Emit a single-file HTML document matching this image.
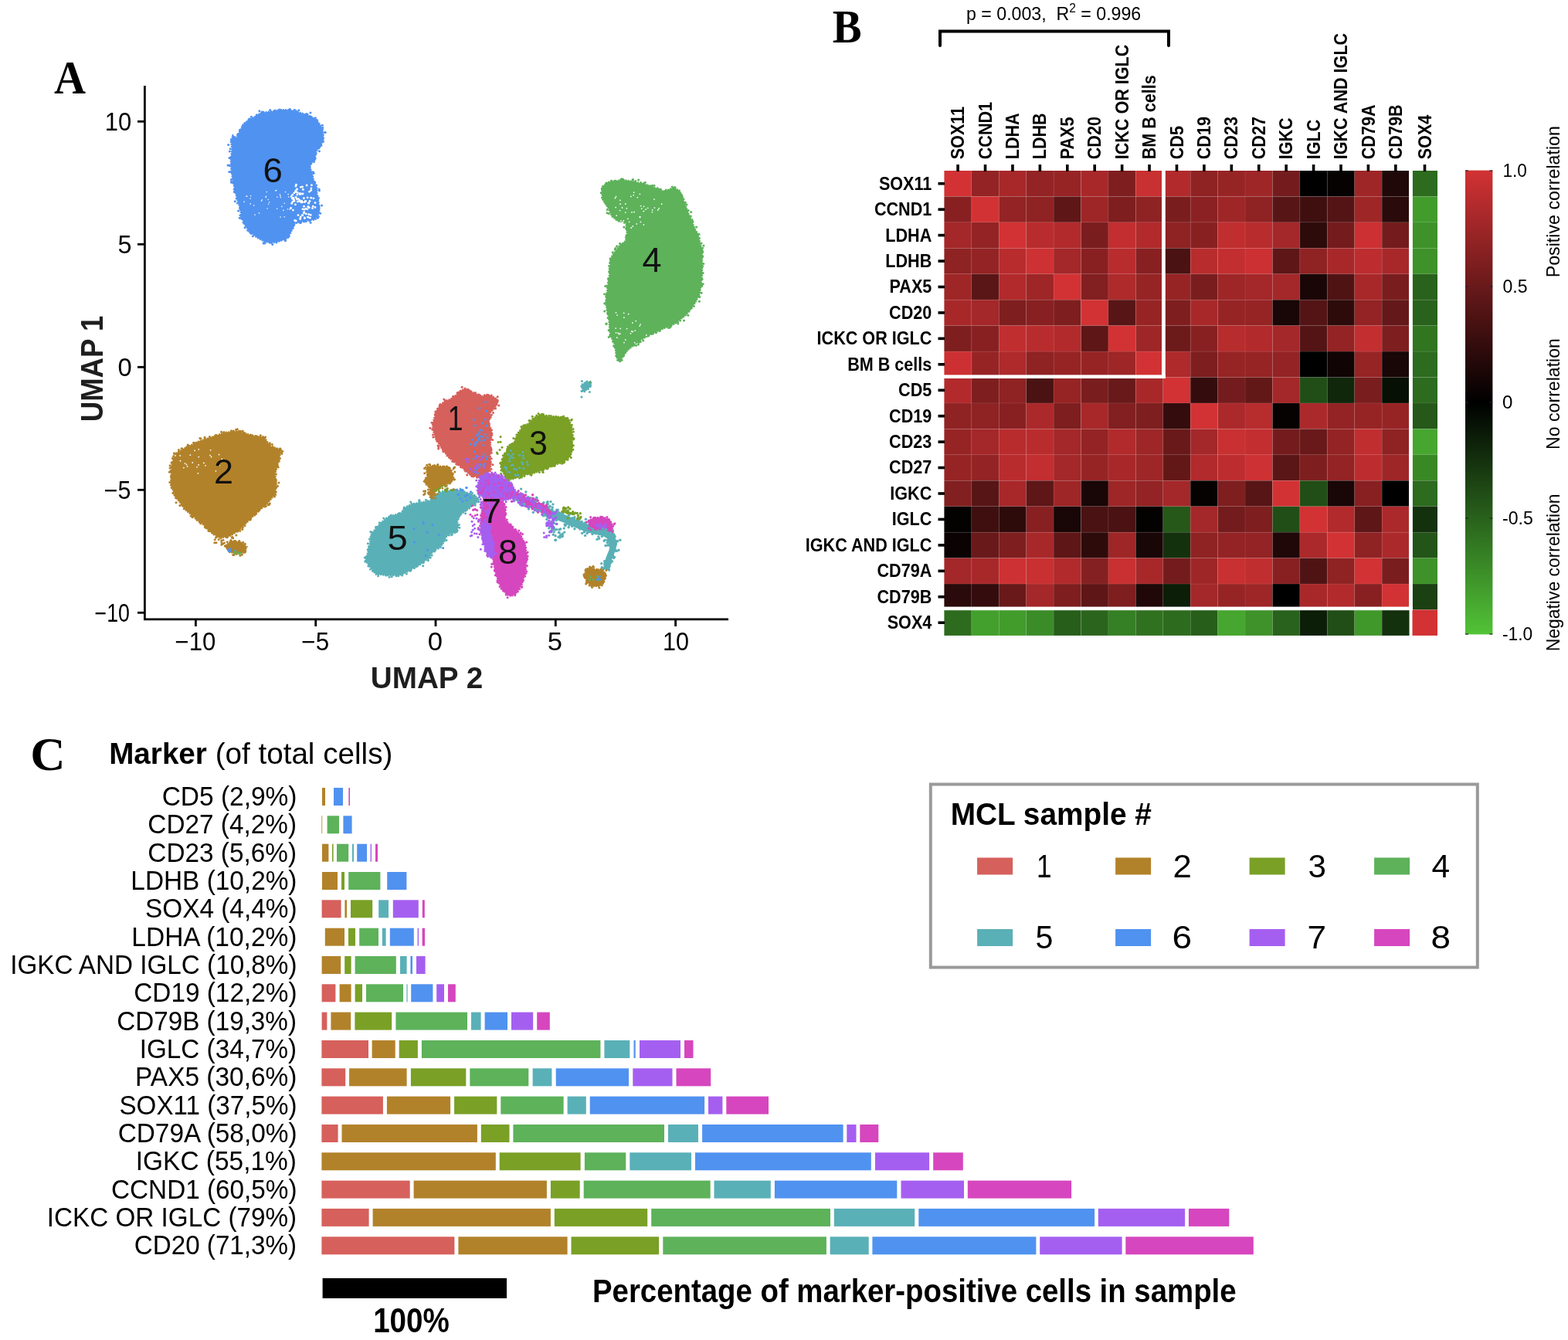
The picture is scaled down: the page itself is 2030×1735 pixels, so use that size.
<!DOCTYPE html><html><head><meta charset="utf-8"><title>Figure</title><style>
html,body{margin:0;padding:0;background:#fff;}body{width:2030px;height:1735px;overflow:hidden;}
svg{display:block;} text{font-family:'Liberation Sans', Arial, Helvetica, sans-serif;}
.lab{font-family:'Liberation Serif', 'Times New Roman', serif;font-weight:bold;}
</style></head><body>
<svg width="2030" height="1735" viewBox="0 0 2030 1735">
<rect width="2030" height="1735" fill="#fff"/>
<text transform="translate(70.00,121.00) scale(0.9308,1)" font-size="61" text-anchor="start" class="lab">A</text>
<text transform="translate(1077.80,54.80) scale(0.9320,1)" font-size="61" text-anchor="start" class="lab">B</text>
<text transform="translate(39.20,996.80) scale(1.0285,1)" font-size="61" text-anchor="start" class="lab">C</text>
<g id="umap">
<polygon points="301.4,175.3 305.6,179.4 310.8,169.0 313.9,162.8 321.1,155.6 329.4,151.4 337.7,146.2 348.1,144.7 357.5,143.6 368.9,142.1 378.2,143.1 389.6,146.2 399.0,149.3 407.3,153.5 412.5,158.7 417.6,167.0 418.7,175.3 417.6,183.6 414.5,189.8 409.3,196.0 408.3,202.3 407.3,208.5 401.0,212.6 402.1,218.9 404.2,224.1 405.2,230.3 407.3,237.6 410.4,243.8 410.4,252.1 412.5,261.4 413.5,274.9 408.3,284.3 400.0,285.3 389.6,287.4 381.3,289.4 379.2,294.6 376.1,301.9 372.0,308.1 362.6,312.3 352.3,314.3 344.0,313.3 333.6,308.1 324.2,300.9 317.0,291.5 312.8,281.1 310.8,269.7 307.6,259.3 304.5,247.9 301.4,233.4 299.3,218.9 298.8,206.4 300.4,194.0 299.3,183.6" fill="#5092F0" stroke="#5092F0" stroke-width="2.6" stroke-linejoin="round" stroke-dasharray="0 3.2" stroke-linecap="round"/>
<circle cx="301.8" cy="177.6" r="1.5" fill="#5092F0"/>
<circle cx="304.3" cy="177.8" r="1.5" fill="#5092F0"/>
<circle cx="308.1" cy="173.7" r="1.5" fill="#5092F0"/>
<circle cx="307.9" cy="173.9" r="1.5" fill="#5092F0"/>
<circle cx="310.4" cy="168.5" r="1.5" fill="#5092F0"/>
<circle cx="314.4" cy="162.0" r="1.5" fill="#5092F0"/>
<circle cx="316.7" cy="159.5" r="1.5" fill="#5092F0"/>
<circle cx="322.6" cy="154.0" r="1.5" fill="#5092F0"/>
<circle cx="325.4" cy="151.2" r="1.5" fill="#5092F0"/>
<circle cx="332.3" cy="148.8" r="1.5" fill="#5092F0"/>
<circle cx="335.9" cy="143.8" r="1.5" fill="#5092F0"/>
<circle cx="340.6" cy="144.9" r="1.5" fill="#5092F0"/>
<circle cx="339.1" cy="145.0" r="1.5" fill="#5092F0"/>
<circle cx="355.7" cy="142.9" r="1.5" fill="#5092F0"/>
<circle cx="349.6" cy="142.5" r="1.5" fill="#5092F0"/>
<circle cx="361.6" cy="141.9" r="1.5" fill="#5092F0"/>
<circle cx="363.7" cy="142.3" r="1.5" fill="#5092F0"/>
<circle cx="359.8" cy="143.1" r="1.5" fill="#5092F0"/>
<circle cx="375.4" cy="141.5" r="1.5" fill="#5092F0"/>
<circle cx="374.4" cy="142.1" r="1.5" fill="#5092F0"/>
<circle cx="383.6" cy="143.7" r="1.5" fill="#5092F0"/>
<circle cx="386.9" cy="142.7" r="1.5" fill="#5092F0"/>
<circle cx="381.4" cy="142.2" r="1.5" fill="#5092F0"/>
<circle cx="398.1" cy="148.1" r="1.5" fill="#5092F0"/>
<circle cx="396.8" cy="147.5" r="1.5" fill="#5092F0"/>
<circle cx="401.9" cy="145.9" r="1.5" fill="#5092F0"/>
<circle cx="402.5" cy="151.0" r="1.5" fill="#5092F0"/>
<circle cx="410.5" cy="155.4" r="1.5" fill="#5092F0"/>
<circle cx="408.4" cy="152.8" r="1.5" fill="#5092F0"/>
<circle cx="417.4" cy="162.2" r="1.5" fill="#5092F0"/>
<circle cx="417.8" cy="165.5" r="1.5" fill="#5092F0"/>
<circle cx="420.5" cy="171.6" r="1.5" fill="#5092F0"/>
<circle cx="421.2" cy="171.4" r="1.5" fill="#5092F0"/>
<circle cx="418.5" cy="183.3" r="1.5" fill="#5092F0"/>
<circle cx="418.5" cy="179.3" r="1.5" fill="#5092F0"/>
<circle cx="415.9" cy="188.2" r="1.5" fill="#5092F0"/>
<circle cx="413.4" cy="195.7" r="1.5" fill="#5092F0"/>
<circle cx="413.1" cy="191.6" r="1.5" fill="#5092F0"/>
<circle cx="409.1" cy="198.5" r="1.5" fill="#5092F0"/>
<circle cx="408.1" cy="205.2" r="1.5" fill="#5092F0"/>
<circle cx="406.5" cy="209.5" r="1.5" fill="#5092F0"/>
<circle cx="402.7" cy="212.0" r="1.5" fill="#5092F0"/>
<circle cx="401.2" cy="213.4" r="1.5" fill="#5092F0"/>
<circle cx="405.4" cy="222.8" r="1.5" fill="#5092F0"/>
<circle cx="406.2" cy="224.3" r="1.5" fill="#5092F0"/>
<circle cx="407.7" cy="236.6" r="1.5" fill="#5092F0"/>
<circle cx="407.7" cy="236.0" r="1.5" fill="#5092F0"/>
<circle cx="409.5" cy="239.7" r="1.5" fill="#5092F0"/>
<circle cx="413.4" cy="246.8" r="1.5" fill="#5092F0"/>
<circle cx="413.1" cy="245.1" r="1.5" fill="#5092F0"/>
<circle cx="410.9" cy="253.7" r="1.5" fill="#5092F0"/>
<circle cx="412.5" cy="256.4" r="1.5" fill="#5092F0"/>
<circle cx="413.1" cy="269.4" r="1.5" fill="#5092F0"/>
<circle cx="413.1" cy="267.0" r="1.5" fill="#5092F0"/>
<circle cx="416.5" cy="266.1" r="1.5" fill="#5092F0"/>
<circle cx="411.3" cy="282.2" r="1.5" fill="#5092F0"/>
<circle cx="412.4" cy="280.6" r="1.5" fill="#5092F0"/>
<circle cx="414.6" cy="276.2" r="1.5" fill="#5092F0"/>
<circle cx="400.9" cy="285.8" r="1.5" fill="#5092F0"/>
<circle cx="402.1" cy="288.3" r="1.5" fill="#5092F0"/>
<circle cx="396.0" cy="286.7" r="1.5" fill="#5092F0"/>
<circle cx="393.5" cy="287.1" r="1.5" fill="#5092F0"/>
<circle cx="389.3" cy="288.5" r="1.5" fill="#5092F0"/>
<circle cx="388.4" cy="288.2" r="1.5" fill="#5092F0"/>
<circle cx="380.6" cy="291.2" r="1.5" fill="#5092F0"/>
<circle cx="378.7" cy="295.7" r="1.5" fill="#5092F0"/>
<circle cx="379.1" cy="295.4" r="1.5" fill="#5092F0"/>
<circle cx="372.7" cy="307.5" r="1.5" fill="#5092F0"/>
<circle cx="374.2" cy="306.1" r="1.5" fill="#5092F0"/>
<circle cx="369.1" cy="310.5" r="1.5" fill="#5092F0"/>
<circle cx="369.5" cy="311.7" r="1.5" fill="#5092F0"/>
<circle cx="352.8" cy="316.4" r="1.5" fill="#5092F0"/>
<circle cx="357.9" cy="313.9" r="1.5" fill="#5092F0"/>
<circle cx="351.4" cy="314.3" r="1.5" fill="#5092F0"/>
<circle cx="349.4" cy="314.2" r="1.5" fill="#5092F0"/>
<circle cx="341.0" cy="315.1" r="1.5" fill="#5092F0"/>
<circle cx="342.9" cy="314.9" r="1.5" fill="#5092F0"/>
<circle cx="342.2" cy="313.1" r="1.5" fill="#5092F0"/>
<circle cx="327.3" cy="305.7" r="1.5" fill="#5092F0"/>
<circle cx="324.2" cy="301.3" r="1.5" fill="#5092F0"/>
<circle cx="325.2" cy="302.2" r="1.5" fill="#5092F0"/>
<circle cx="320.6" cy="298.2" r="1.5" fill="#5092F0"/>
<circle cx="322.8" cy="299.5" r="1.5" fill="#5092F0"/>
<circle cx="317.0" cy="294.8" r="1.5" fill="#5092F0"/>
<circle cx="315.2" cy="288.3" r="1.5" fill="#5092F0"/>
<circle cx="310.2" cy="282.3" r="1.5" fill="#5092F0"/>
<circle cx="312.5" cy="283.0" r="1.5" fill="#5092F0"/>
<circle cx="308.6" cy="273.1" r="1.5" fill="#5092F0"/>
<circle cx="310.9" cy="278.8" r="1.5" fill="#5092F0"/>
<circle cx="312.6" cy="280.8" r="1.5" fill="#5092F0"/>
<circle cx="310.5" cy="269.5" r="1.5" fill="#5092F0"/>
<circle cx="307.4" cy="262.9" r="1.5" fill="#5092F0"/>
<circle cx="304.3" cy="260.8" r="1.5" fill="#5092F0"/>
<circle cx="303.4" cy="248.4" r="1.5" fill="#5092F0"/>
<circle cx="303.9" cy="248.6" r="1.5" fill="#5092F0"/>
<circle cx="306.1" cy="256.9" r="1.5" fill="#5092F0"/>
<circle cx="303.3" cy="245.2" r="1.5" fill="#5092F0"/>
<circle cx="299.6" cy="235.3" r="1.5" fill="#5092F0"/>
<circle cx="299.6" cy="236.2" r="1.5" fill="#5092F0"/>
<circle cx="301.7" cy="236.4" r="1.5" fill="#5092F0"/>
<circle cx="299.4" cy="232.4" r="1.5" fill="#5092F0"/>
<circle cx="296.8" cy="222.5" r="1.5" fill="#5092F0"/>
<circle cx="298.8" cy="222.7" r="1.5" fill="#5092F0"/>
<circle cx="299.6" cy="222.0" r="1.5" fill="#5092F0"/>
<circle cx="297.8" cy="214.8" r="1.5" fill="#5092F0"/>
<circle cx="295.0" cy="214.1" r="1.5" fill="#5092F0"/>
<circle cx="296.7" cy="214.0" r="1.5" fill="#5092F0"/>
<circle cx="298.2" cy="204.2" r="1.5" fill="#5092F0"/>
<circle cx="297.0" cy="204.6" r="1.5" fill="#5092F0"/>
<circle cx="297.3" cy="196.0" r="1.5" fill="#5092F0"/>
<circle cx="298.2" cy="192.7" r="1.5" fill="#5092F0"/>
<circle cx="295.7" cy="187.6" r="1.5" fill="#5092F0"/>
<circle cx="299.3" cy="180.5" r="1.5" fill="#5092F0"/>
<circle cx="299.1" cy="183.4" r="1.5" fill="#5092F0"/>
<circle cx="408.0" cy="268.4" r="1.4" fill="#fff"/>
<circle cx="389.2" cy="280.8" r="1.4" fill="#fff"/>
<circle cx="402.9" cy="243.8" r="1.4" fill="#fff"/>
<circle cx="382.8" cy="248.4" r="1.4" fill="#fff"/>
<circle cx="382.4" cy="264.8" r="1.4" fill="#fff"/>
<circle cx="383.1" cy="255.5" r="1.4" fill="#fff"/>
<circle cx="386.4" cy="257.7" r="1.4" fill="#fff"/>
<circle cx="394.4" cy="282.6" r="1.4" fill="#fff"/>
<circle cx="388.7" cy="283.4" r="1.4" fill="#fff"/>
<circle cx="391.6" cy="261.8" r="1.4" fill="#fff"/>
<circle cx="389.4" cy="242.3" r="1.4" fill="#fff"/>
<circle cx="380.0" cy="258.5" r="1.4" fill="#fff"/>
<circle cx="399.4" cy="263.2" r="1.4" fill="#fff"/>
<circle cx="385.4" cy="261.0" r="1.4" fill="#fff"/>
<circle cx="393.4" cy="275.9" r="1.4" fill="#fff"/>
<circle cx="377.7" cy="263.4" r="1.4" fill="#fff"/>
<circle cx="382.7" cy="247.5" r="1.4" fill="#fff"/>
<circle cx="401.0" cy="260.4" r="1.4" fill="#fff"/>
<circle cx="393.7" cy="274.6" r="1.4" fill="#fff"/>
<circle cx="405.9" cy="256.8" r="1.4" fill="#fff"/>
<circle cx="395.4" cy="260.3" r="1.4" fill="#fff"/>
<circle cx="391.9" cy="270.8" r="1.4" fill="#fff"/>
<circle cx="389.8" cy="261.9" r="1.4" fill="#fff"/>
<circle cx="398.5" cy="281.1" r="1.4" fill="#fff"/>
<circle cx="403.4" cy="239.7" r="1.4" fill="#fff"/>
<circle cx="378.3" cy="256.8" r="1.4" fill="#fff"/>
<circle cx="376.6" cy="269.5" r="1.4" fill="#fff"/>
<circle cx="401.4" cy="282.2" r="1.4" fill="#fff"/>
<circle cx="379.4" cy="272.1" r="1.4" fill="#fff"/>
<circle cx="397.1" cy="240.0" r="1.4" fill="#fff"/>
<circle cx="381.7" cy="285.3" r="1.4" fill="#fff"/>
<circle cx="387.9" cy="259.3" r="1.4" fill="#fff"/>
<circle cx="379.7" cy="256.2" r="1.4" fill="#fff"/>
<circle cx="392.0" cy="251.0" r="1.4" fill="#fff"/>
<circle cx="380.9" cy="249.8" r="1.4" fill="#fff"/>
<circle cx="393.4" cy="256.7" r="1.4" fill="#fff"/>
<circle cx="395.8" cy="260.7" r="1.4" fill="#fff"/>
<circle cx="383.5" cy="239.3" r="1.4" fill="#fff"/>
<circle cx="388.8" cy="283.0" r="1.4" fill="#fff"/>
<circle cx="402.7" cy="246.5" r="1.4" fill="#fff"/>
<circle cx="394.0" cy="271.2" r="1.4" fill="#fff"/>
<circle cx="398.1" cy="255.8" r="1.4" fill="#fff"/>
<circle cx="396.2" cy="276.9" r="1.4" fill="#fff"/>
<circle cx="389.9" cy="251.0" r="1.4" fill="#fff"/>
<circle cx="383.4" cy="239.2" r="1.4" fill="#fff"/>
<circle cx="392.4" cy="245.4" r="1.4" fill="#fff"/>
<circle cx="384.9" cy="249.1" r="1.4" fill="#fff"/>
<circle cx="400.6" cy="248.2" r="1.4" fill="#fff"/>
<circle cx="391.5" cy="242.0" r="1.4" fill="#fff"/>
<circle cx="399.7" cy="262.9" r="1.4" fill="#fff"/>
<circle cx="380.6" cy="258.6" r="1.4" fill="#fff"/>
<circle cx="402.7" cy="256.2" r="1.4" fill="#fff"/>
<circle cx="391.3" cy="278.7" r="1.4" fill="#fff"/>
<circle cx="387.8" cy="260.4" r="1.4" fill="#fff"/>
<circle cx="386.0" cy="278.6" r="1.4" fill="#fff"/>
<circle cx="398.7" cy="267.6" r="1.4" fill="#fff"/>
<circle cx="388.2" cy="251.5" r="1.4" fill="#fff"/>
<circle cx="382.9" cy="241.1" r="1.4" fill="#fff"/>
<circle cx="404.5" cy="269.6" r="1.4" fill="#fff"/>
<circle cx="383.9" cy="245.6" r="1.4" fill="#fff"/>
<circle cx="384.3" cy="257.7" r="1.4" fill="#fff"/>
<circle cx="379.5" cy="257.0" r="1.4" fill="#fff"/>
<circle cx="383.2" cy="285.9" r="1.4" fill="#fff"/>
<circle cx="408.0" cy="262.6" r="1.4" fill="#fff"/>
<circle cx="382.6" cy="286.1" r="1.4" fill="#fff"/>
<circle cx="384.8" cy="252.0" r="1.4" fill="#fff"/>
<circle cx="390.6" cy="260.2" r="1.4" fill="#fff"/>
<circle cx="381.0" cy="260.3" r="1.4" fill="#fff"/>
<circle cx="377.1" cy="254.4" r="1.4" fill="#fff"/>
<circle cx="384.6" cy="245.0" r="1.4" fill="#fff"/>
<circle cx="394.5" cy="261.6" r="1.4" fill="#fff"/>
<circle cx="400.3" cy="268.8" r="1.4" fill="#fff"/>
<circle cx="399.1" cy="281.2" r="1.4" fill="#fff"/>
<circle cx="387.6" cy="250.3" r="1.4" fill="#fff"/>
<circle cx="399.3" cy="268.0" r="1.4" fill="#fff"/>
<circle cx="405.2" cy="267.1" r="1.4" fill="#fff"/>
<circle cx="399.7" cy="277.5" r="1.4" fill="#fff"/>
<circle cx="378.9" cy="261.3" r="1.4" fill="#fff"/>
<circle cx="391.7" cy="278.8" r="1.4" fill="#fff"/>
<circle cx="402.2" cy="278.3" r="1.4" fill="#fff"/>
<circle cx="394.4" cy="282.0" r="1.4" fill="#fff"/>
<circle cx="397.9" cy="270.8" r="1.4" fill="#fff"/>
<circle cx="378.7" cy="252.2" r="1.4" fill="#fff"/>
<circle cx="393.5" cy="267.2" r="1.4" fill="#fff"/>
<circle cx="395.9" cy="270.1" r="1.4" fill="#fff"/>
<circle cx="366.9" cy="272.4" r="0.8" fill="#fff"/>
<circle cx="347.7" cy="264.3" r="0.8" fill="#fff"/>
<circle cx="357.9" cy="246.5" r="0.8" fill="#fff"/>
<circle cx="362.9" cy="253.6" r="0.8" fill="#fff"/>
<circle cx="319.8" cy="254.1" r="0.8" fill="#fff"/>
<circle cx="362.4" cy="251.8" r="0.8" fill="#fff"/>
<circle cx="363.1" cy="281.1" r="0.8" fill="#fff"/>
<circle cx="347.1" cy="258.5" r="0.8" fill="#fff"/>
<circle cx="346.1" cy="270.0" r="0.8" fill="#fff"/>
<circle cx="364.9" cy="267.4" r="0.8" fill="#fff"/>
<circle cx="356.8" cy="246.9" r="0.8" fill="#fff"/>
<circle cx="324.6" cy="253.6" r="0.8" fill="#fff"/>
<circle cx="363.3" cy="255.6" r="0.8" fill="#fff"/>
<circle cx="318.9" cy="254.2" r="0.8" fill="#fff"/>
<circle cx="358.7" cy="270.3" r="0.8" fill="#fff"/>
<circle cx="358.9" cy="255.1" r="0.8" fill="#fff"/>
<circle cx="348.6" cy="261.7" r="0.8" fill="#fff"/>
<circle cx="345.3" cy="248.5" r="0.8" fill="#fff"/>
<circle cx="373.1" cy="251.6" r="0.8" fill="#fff"/>
<circle cx="316.1" cy="261.4" r="0.8" fill="#fff"/>
<circle cx="368.3" cy="280.8" r="0.8" fill="#fff"/>
<circle cx="344.2" cy="254.2" r="0.8" fill="#fff"/>
<circle cx="328.7" cy="266.1" r="0.8" fill="#fff"/>
<circle cx="324.2" cy="263.9" r="0.8" fill="#fff"/>
<circle cx="368.3" cy="263.3" r="0.8" fill="#fff"/>
<circle cx="372.6" cy="270.7" r="0.8" fill="#fff"/>
<circle cx="330.0" cy="278.1" r="0.8" fill="#fff"/>
<circle cx="344.3" cy="255.5" r="0.8" fill="#fff"/>
<circle cx="324.1" cy="257.1" r="0.8" fill="#fff"/>
<circle cx="335.5" cy="275.9" r="0.8" fill="#fff"/>
<circle cx="369.5" cy="248.6" r="0.8" fill="#fff"/>
<circle cx="375.2" cy="271.1" r="0.8" fill="#fff"/>
<circle cx="373.6" cy="255.0" r="0.8" fill="#fff"/>
<circle cx="339.2" cy="258.9" r="0.8" fill="#fff"/>
<circle cx="338.4" cy="260.3" r="0.8" fill="#fff"/>
<polygon points="779.0,244.0 786.0,236.0 806.0,233.0 820.0,235.0 840.0,240.0 860.0,248.0 872.0,243.0 880.0,247.0 888.0,268.0 896.0,288.0 904.0,306.0 909.0,324.0 909.0,356.0 906.0,380.0 900.0,392.0 888.0,408.0 872.0,420.0 848.0,430.0 826.0,442.0 812.0,454.0 802.0,468.0 798.0,462.0 796.0,446.0 790.0,434.0 788.0,410.0 784.0,392.0 786.0,378.0 789.0,356.0 790.0,340.0 792.0,332.0 802.0,318.0 810.0,312.0 812.0,304.0 810.0,288.0 800.0,286.0 792.0,280.0 788.0,270.0 780.0,258.0" fill="#5DB25A" stroke="#5DB25A" stroke-width="2.6" stroke-linejoin="round" stroke-dasharray="0 3.2" stroke-linecap="round"/>
<circle cx="780.4" cy="241.3" r="1.5" fill="#5DB25A"/>
<circle cx="784.7" cy="237.2" r="1.5" fill="#5DB25A"/>
<circle cx="791.5" cy="234.0" r="1.5" fill="#5DB25A"/>
<circle cx="791.2" cy="234.7" r="1.5" fill="#5DB25A"/>
<circle cx="796.1" cy="233.9" r="1.5" fill="#5DB25A"/>
<circle cx="804.9" cy="231.7" r="1.5" fill="#5DB25A"/>
<circle cx="803.6" cy="232.5" r="1.5" fill="#5DB25A"/>
<circle cx="819.1" cy="232.8" r="1.5" fill="#5DB25A"/>
<circle cx="819.5" cy="232.5" r="1.5" fill="#5DB25A"/>
<circle cx="806.8" cy="232.3" r="1.5" fill="#5DB25A"/>
<circle cx="835.3" cy="236.2" r="1.5" fill="#5DB25A"/>
<circle cx="833.1" cy="237.4" r="1.5" fill="#5DB25A"/>
<circle cx="826.6" cy="233.0" r="1.5" fill="#5DB25A"/>
<circle cx="822.8" cy="234.6" r="1.5" fill="#5DB25A"/>
<circle cx="829.6" cy="236.6" r="1.5" fill="#5DB25A"/>
<circle cx="855.2" cy="244.9" r="1.5" fill="#5DB25A"/>
<circle cx="859.6" cy="247.7" r="1.5" fill="#5DB25A"/>
<circle cx="846.9" cy="240.2" r="1.5" fill="#5DB25A"/>
<circle cx="851.4" cy="243.8" r="1.5" fill="#5DB25A"/>
<circle cx="843.5" cy="240.7" r="1.5" fill="#5DB25A"/>
<circle cx="844.7" cy="240.2" r="1.5" fill="#5DB25A"/>
<circle cx="862.2" cy="245.9" r="1.5" fill="#5DB25A"/>
<circle cx="870.2" cy="241.9" r="1.5" fill="#5DB25A"/>
<circle cx="861.7" cy="247.3" r="1.5" fill="#5DB25A"/>
<circle cx="874.1" cy="242.7" r="1.5" fill="#5DB25A"/>
<circle cx="873.1" cy="242.7" r="1.5" fill="#5DB25A"/>
<circle cx="882.0" cy="252.0" r="1.5" fill="#5DB25A"/>
<circle cx="889.0" cy="264.9" r="1.5" fill="#5DB25A"/>
<circle cx="887.3" cy="262.2" r="1.5" fill="#5DB25A"/>
<circle cx="885.0" cy="257.7" r="1.5" fill="#5DB25A"/>
<circle cx="883.3" cy="254.8" r="1.5" fill="#5DB25A"/>
<circle cx="882.7" cy="252.7" r="1.5" fill="#5DB25A"/>
<circle cx="897.0" cy="286.9" r="1.5" fill="#5DB25A"/>
<circle cx="894.3" cy="280.1" r="1.5" fill="#5DB25A"/>
<circle cx="895.2" cy="285.2" r="1.5" fill="#5DB25A"/>
<circle cx="891.1" cy="272.5" r="1.5" fill="#5DB25A"/>
<circle cx="894.7" cy="274.6" r="1.5" fill="#5DB25A"/>
<circle cx="896.0" cy="284.5" r="1.5" fill="#5DB25A"/>
<circle cx="903.4" cy="303.5" r="1.5" fill="#5DB25A"/>
<circle cx="901.7" cy="300.7" r="1.5" fill="#5DB25A"/>
<circle cx="905.1" cy="303.3" r="1.5" fill="#5DB25A"/>
<circle cx="896.3" cy="287.9" r="1.5" fill="#5DB25A"/>
<circle cx="901.6" cy="294.0" r="1.5" fill="#5DB25A"/>
<circle cx="909.6" cy="321.0" r="1.5" fill="#5DB25A"/>
<circle cx="908.9" cy="323.5" r="1.5" fill="#5DB25A"/>
<circle cx="905.5" cy="308.6" r="1.5" fill="#5DB25A"/>
<circle cx="908.1" cy="315.0" r="1.5" fill="#5DB25A"/>
<circle cx="911.0" cy="318.1" r="1.5" fill="#5DB25A"/>
<circle cx="909.2" cy="344.7" r="1.5" fill="#5DB25A"/>
<circle cx="910.8" cy="341.6" r="1.5" fill="#5DB25A"/>
<circle cx="909.2" cy="325.3" r="1.5" fill="#5DB25A"/>
<circle cx="910.1" cy="353.4" r="1.5" fill="#5DB25A"/>
<circle cx="909.3" cy="344.7" r="1.5" fill="#5DB25A"/>
<circle cx="909.8" cy="332.1" r="1.5" fill="#5DB25A"/>
<circle cx="909.2" cy="344.4" r="1.5" fill="#5DB25A"/>
<circle cx="909.7" cy="326.3" r="1.5" fill="#5DB25A"/>
<circle cx="908.8" cy="368.8" r="1.5" fill="#5DB25A"/>
<circle cx="909.1" cy="361.5" r="1.5" fill="#5DB25A"/>
<circle cx="908.5" cy="370.6" r="1.5" fill="#5DB25A"/>
<circle cx="907.7" cy="367.1" r="1.5" fill="#5DB25A"/>
<circle cx="908.1" cy="379.3" r="1.5" fill="#5DB25A"/>
<circle cx="910.2" cy="367.7" r="1.5" fill="#5DB25A"/>
<circle cx="904.7" cy="382.9" r="1.5" fill="#5DB25A"/>
<circle cx="905.4" cy="390.3" r="1.5" fill="#5DB25A"/>
<circle cx="905.8" cy="384.5" r="1.5" fill="#5DB25A"/>
<circle cx="892.1" cy="402.9" r="1.5" fill="#5DB25A"/>
<circle cx="895.0" cy="398.8" r="1.5" fill="#5DB25A"/>
<circle cx="890.8" cy="408.2" r="1.5" fill="#5DB25A"/>
<circle cx="898.4" cy="396.5" r="1.5" fill="#5DB25A"/>
<circle cx="895.2" cy="398.9" r="1.5" fill="#5DB25A"/>
<circle cx="877.6" cy="416.9" r="1.5" fill="#5DB25A"/>
<circle cx="877.8" cy="419.0" r="1.5" fill="#5DB25A"/>
<circle cx="880.6" cy="415.0" r="1.5" fill="#5DB25A"/>
<circle cx="885.5" cy="415.0" r="1.5" fill="#5DB25A"/>
<circle cx="875.0" cy="417.9" r="1.5" fill="#5DB25A"/>
<circle cx="854.2" cy="428.6" r="1.5" fill="#5DB25A"/>
<circle cx="865.6" cy="424.6" r="1.5" fill="#5DB25A"/>
<circle cx="867.7" cy="422.4" r="1.5" fill="#5DB25A"/>
<circle cx="867.4" cy="424.1" r="1.5" fill="#5DB25A"/>
<circle cx="849.7" cy="430.6" r="1.5" fill="#5DB25A"/>
<circle cx="868.8" cy="422.3" r="1.5" fill="#5DB25A"/>
<circle cx="848.9" cy="430.4" r="1.5" fill="#5DB25A"/>
<circle cx="845.1" cy="432.2" r="1.5" fill="#5DB25A"/>
<circle cx="839.4" cy="434.9" r="1.5" fill="#5DB25A"/>
<circle cx="829.2" cy="442.5" r="1.5" fill="#5DB25A"/>
<circle cx="826.9" cy="443.5" r="1.5" fill="#5DB25A"/>
<circle cx="827.7" cy="441.6" r="1.5" fill="#5DB25A"/>
<circle cx="827.8" cy="442.0" r="1.5" fill="#5DB25A"/>
<circle cx="832.7" cy="441.0" r="1.5" fill="#5DB25A"/>
<circle cx="821.0" cy="446.9" r="1.5" fill="#5DB25A"/>
<circle cx="821.1" cy="446.8" r="1.5" fill="#5DB25A"/>
<circle cx="826.5" cy="442.7" r="1.5" fill="#5DB25A"/>
<circle cx="823.6" cy="447.2" r="1.5" fill="#5DB25A"/>
<circle cx="826.4" cy="445.9" r="1.5" fill="#5DB25A"/>
<circle cx="802.7" cy="467.7" r="1.5" fill="#5DB25A"/>
<circle cx="805.0" cy="466.3" r="1.5" fill="#5DB25A"/>
<circle cx="804.2" cy="465.8" r="1.5" fill="#5DB25A"/>
<circle cx="807.4" cy="460.8" r="1.5" fill="#5DB25A"/>
<circle cx="799.7" cy="466.3" r="1.5" fill="#5DB25A"/>
<circle cx="800.1" cy="466.1" r="1.5" fill="#5DB25A"/>
<circle cx="794.6" cy="447.8" r="1.5" fill="#5DB25A"/>
<circle cx="796.1" cy="449.0" r="1.5" fill="#5DB25A"/>
<circle cx="796.1" cy="449.8" r="1.5" fill="#5DB25A"/>
<circle cx="797.8" cy="461.0" r="1.5" fill="#5DB25A"/>
<circle cx="790.4" cy="435.0" r="1.5" fill="#5DB25A"/>
<circle cx="788.2" cy="436.4" r="1.5" fill="#5DB25A"/>
<circle cx="793.5" cy="442.2" r="1.5" fill="#5DB25A"/>
<circle cx="784.8" cy="419.5" r="1.5" fill="#5DB25A"/>
<circle cx="789.2" cy="427.7" r="1.5" fill="#5DB25A"/>
<circle cx="788.1" cy="427.5" r="1.5" fill="#5DB25A"/>
<circle cx="789.9" cy="433.9" r="1.5" fill="#5DB25A"/>
<circle cx="785.2" cy="419.1" r="1.5" fill="#5DB25A"/>
<circle cx="787.0" cy="411.5" r="1.5" fill="#5DB25A"/>
<circle cx="785.9" cy="401.5" r="1.5" fill="#5DB25A"/>
<circle cx="782.7" cy="393.1" r="1.5" fill="#5DB25A"/>
<circle cx="786.6" cy="405.6" r="1.5" fill="#5DB25A"/>
<circle cx="782.7" cy="403.1" r="1.5" fill="#5DB25A"/>
<circle cx="787.1" cy="406.7" r="1.5" fill="#5DB25A"/>
<circle cx="785.4" cy="380.7" r="1.5" fill="#5DB25A"/>
<circle cx="782.6" cy="380.8" r="1.5" fill="#5DB25A"/>
<circle cx="784.6" cy="383.4" r="1.5" fill="#5DB25A"/>
<circle cx="785.9" cy="369.9" r="1.5" fill="#5DB25A"/>
<circle cx="787.4" cy="360.7" r="1.5" fill="#5DB25A"/>
<circle cx="787.8" cy="361.4" r="1.5" fill="#5DB25A"/>
<circle cx="786.4" cy="372.5" r="1.5" fill="#5DB25A"/>
<circle cx="787.5" cy="365.8" r="1.5" fill="#5DB25A"/>
<circle cx="783.7" cy="370.4" r="1.5" fill="#5DB25A"/>
<circle cx="789.6" cy="340.2" r="1.5" fill="#5DB25A"/>
<circle cx="788.6" cy="351.7" r="1.5" fill="#5DB25A"/>
<circle cx="789.1" cy="348.0" r="1.5" fill="#5DB25A"/>
<circle cx="788.6" cy="344.6" r="1.5" fill="#5DB25A"/>
<circle cx="790.5" cy="336.6" r="1.5" fill="#5DB25A"/>
<circle cx="790.1" cy="334.7" r="1.5" fill="#5DB25A"/>
<circle cx="798.5" cy="318.8" r="1.5" fill="#5DB25A"/>
<circle cx="796.8" cy="321.4" r="1.5" fill="#5DB25A"/>
<circle cx="793.2" cy="326.7" r="1.5" fill="#5DB25A"/>
<circle cx="796.2" cy="323.0" r="1.5" fill="#5DB25A"/>
<circle cx="802.5" cy="315.3" r="1.5" fill="#5DB25A"/>
<circle cx="804.0" cy="316.5" r="1.5" fill="#5DB25A"/>
<circle cx="810.9" cy="304.7" r="1.5" fill="#5DB25A"/>
<circle cx="810.4" cy="307.2" r="1.5" fill="#5DB25A"/>
<circle cx="808.6" cy="288.3" r="1.5" fill="#5DB25A"/>
<circle cx="810.6" cy="295.9" r="1.5" fill="#5DB25A"/>
<circle cx="807.8" cy="293.9" r="1.5" fill="#5DB25A"/>
<circle cx="808.6" cy="288.3" r="1.5" fill="#5DB25A"/>
<circle cx="802.0" cy="285.3" r="1.5" fill="#5DB25A"/>
<circle cx="801.7" cy="285.9" r="1.5" fill="#5DB25A"/>
<circle cx="797.8" cy="284.0" r="1.5" fill="#5DB25A"/>
<circle cx="800.0" cy="284.0" r="1.5" fill="#5DB25A"/>
<circle cx="786.0" cy="275.7" r="1.5" fill="#5DB25A"/>
<circle cx="786.2" cy="271.5" r="1.5" fill="#5DB25A"/>
<circle cx="788.1" cy="276.4" r="1.5" fill="#5DB25A"/>
<circle cx="786.5" cy="266.5" r="1.5" fill="#5DB25A"/>
<circle cx="790.3" cy="266.6" r="1.5" fill="#5DB25A"/>
<circle cx="783.9" cy="262.4" r="1.5" fill="#5DB25A"/>
<circle cx="785.7" cy="265.1" r="1.5" fill="#5DB25A"/>
<circle cx="779.5" cy="256.0" r="1.5" fill="#5DB25A"/>
<circle cx="778.2" cy="249.7" r="1.5" fill="#5DB25A"/>
<circle cx="779.3" cy="248.9" r="1.5" fill="#5DB25A"/>
<circle cx="812.9" cy="283.3" r="0.9" fill="#fff"/>
<circle cx="803.0" cy="264.2" r="0.9" fill="#fff"/>
<circle cx="828.4" cy="251.3" r="0.9" fill="#fff"/>
<circle cx="797.1" cy="268.6" r="0.9" fill="#fff"/>
<circle cx="828.5" cy="281.2" r="0.9" fill="#fff"/>
<circle cx="796.4" cy="256.5" r="0.9" fill="#fff"/>
<circle cx="838.7" cy="269.3" r="0.9" fill="#fff"/>
<circle cx="809.8" cy="264.0" r="0.9" fill="#fff"/>
<circle cx="856.7" cy="264.2" r="0.9" fill="#fff"/>
<circle cx="829.7" cy="266.6" r="0.9" fill="#fff"/>
<circle cx="819.2" cy="292.9" r="0.9" fill="#fff"/>
<circle cx="803.8" cy="285.9" r="0.9" fill="#fff"/>
<circle cx="853.1" cy="270.0" r="0.9" fill="#fff"/>
<circle cx="847.4" cy="269.1" r="0.9" fill="#fff"/>
<circle cx="851.8" cy="272.0" r="0.9" fill="#fff"/>
<circle cx="828.6" cy="281.3" r="0.9" fill="#fff"/>
<circle cx="833.6" cy="267.3" r="0.9" fill="#fff"/>
<circle cx="825.3" cy="255.6" r="0.9" fill="#fff"/>
<circle cx="809.8" cy="275.1" r="0.9" fill="#fff"/>
<circle cx="824.3" cy="289.9" r="0.9" fill="#fff"/>
<circle cx="817.2" cy="295.0" r="0.9" fill="#fff"/>
<circle cx="833.4" cy="290.9" r="0.9" fill="#fff"/>
<circle cx="805.5" cy="269.0" r="0.9" fill="#fff"/>
<circle cx="802.8" cy="259.3" r="0.9" fill="#fff"/>
<circle cx="818.0" cy="274.9" r="0.9" fill="#fff"/>
<circle cx="816.9" cy="254.4" r="0.9" fill="#fff"/>
<circle cx="807.3" cy="285.7" r="0.9" fill="#fff"/>
<circle cx="829.4" cy="287.4" r="0.9" fill="#fff"/>
<circle cx="798.2" cy="279.2" r="0.9" fill="#fff"/>
<circle cx="828.5" cy="280.6" r="0.9" fill="#fff"/>
<circle cx="811.4" cy="269.8" r="0.9" fill="#fff"/>
<circle cx="830.8" cy="270.1" r="0.9" fill="#fff"/>
<circle cx="836.1" cy="271.2" r="0.9" fill="#fff"/>
<circle cx="820.7" cy="249.2" r="0.9" fill="#fff"/>
<circle cx="833.3" cy="273.5" r="0.9" fill="#fff"/>
<circle cx="806.5" cy="287.7" r="0.9" fill="#fff"/>
<circle cx="844.6" cy="271.8" r="0.9" fill="#fff"/>
<circle cx="802.6" cy="272.6" r="0.9" fill="#fff"/>
<circle cx="797.5" cy="254.7" r="0.9" fill="#fff"/>
<circle cx="820.1" cy="252.8" r="0.9" fill="#fff"/>
<circle cx="820.9" cy="274.5" r="0.9" fill="#fff"/>
<circle cx="844.4" cy="274.6" r="0.9" fill="#fff"/>
<circle cx="847.0" cy="258.1" r="0.9" fill="#fff"/>
<circle cx="814.6" cy="287.3" r="0.9" fill="#fff"/>
<circle cx="809.2" cy="290.4" r="0.9" fill="#fff"/>
<circle cx="797.2" cy="425.1" r="0.9" fill="#fff"/>
<circle cx="803.1" cy="425.3" r="0.9" fill="#fff"/>
<circle cx="799.1" cy="408.1" r="0.9" fill="#fff"/>
<circle cx="836.8" cy="434.0" r="0.9" fill="#fff"/>
<circle cx="816.5" cy="431.8" r="0.9" fill="#fff"/>
<circle cx="808.0" cy="443.6" r="0.9" fill="#fff"/>
<circle cx="817.8" cy="429.0" r="0.9" fill="#fff"/>
<circle cx="809.7" cy="439.9" r="0.9" fill="#fff"/>
<circle cx="818.9" cy="418.0" r="0.9" fill="#fff"/>
<circle cx="828.2" cy="422.1" r="0.9" fill="#fff"/>
<circle cx="798.8" cy="437.2" r="0.9" fill="#fff"/>
<circle cx="802.7" cy="432.0" r="0.9" fill="#fff"/>
<circle cx="823.2" cy="415.6" r="0.9" fill="#fff"/>
<circle cx="797.5" cy="430.8" r="0.9" fill="#fff"/>
<circle cx="811.6" cy="425.6" r="0.9" fill="#fff"/>
<circle cx="801.4" cy="432.7" r="0.9" fill="#fff"/>
<circle cx="807.7" cy="405.3" r="0.9" fill="#fff"/>
<circle cx="807.9" cy="411.2" r="0.9" fill="#fff"/>
<circle cx="819.2" cy="429.5" r="0.9" fill="#fff"/>
<circle cx="800.2" cy="431.2" r="0.9" fill="#fff"/>
<circle cx="813.7" cy="406.7" r="0.9" fill="#fff"/>
<circle cx="797.5" cy="404.8" r="0.9" fill="#fff"/>
<circle cx="821.9" cy="443.6" r="0.9" fill="#fff"/>
<circle cx="829.1" cy="420.1" r="0.9" fill="#fff"/>
<circle cx="822.2" cy="428.1" r="0.9" fill="#fff"/>
<polygon points="752.0,500.0 758.0,494.0 766.0,496.0 762.0,504.0 755.0,507.0" fill="#5AB0B7" stroke="#5AB0B7" stroke-width="2.0" stroke-linejoin="round" stroke-dasharray="0 3.2" stroke-linecap="round"/>
<circle cx="753.9" cy="497.7" r="1.5" fill="#5AB0B7"/>
<circle cx="753.4" cy="493.6" r="1.5" fill="#5AB0B7"/>
<circle cx="764.2" cy="494.2" r="1.5" fill="#5AB0B7"/>
<circle cx="760.1" cy="494.1" r="1.5" fill="#5AB0B7"/>
<circle cx="764.1" cy="500.4" r="1.5" fill="#5AB0B7"/>
<circle cx="764.4" cy="499.3" r="1.5" fill="#5AB0B7"/>
<circle cx="756.8" cy="506.8" r="1.5" fill="#5AB0B7"/>
<circle cx="763.3" cy="507.4" r="1.5" fill="#5AB0B7"/>
<circle cx="753.5" cy="506.5" r="1.5" fill="#5AB0B7"/>
<circle cx="753.0" cy="506.2" r="1.5" fill="#5AB0B7"/>
<circle cx="753" cy="514" r="1.6" fill="#5AB0B7"/>
<circle cx="764" cy="495" r="1.6" fill="#5DB25A"/>
<polygon points="222.0,604.0 226.0,588.0 240.0,580.0 256.0,572.0 274.0,566.0 292.0,560.0 308.0,558.0 326.0,564.0 342.0,566.0 350.0,578.0 364.0,582.0 360.0,600.0 356.0,614.0 358.0,626.0 356.0,640.0 346.0,652.0 332.0,664.0 320.0,676.0 310.0,686.0 298.0,694.0 288.0,696.0 276.0,692.0 264.0,680.0 252.0,670.0 240.0,660.0 228.0,644.0 221.0,628.0" fill="#B2822A" stroke="#B2822A" stroke-width="2.6" stroke-linejoin="round" stroke-dasharray="0 3.2" stroke-linecap="round"/>
<circle cx="223.4" cy="593.4" r="1.5" fill="#B2822A"/>
<circle cx="224.6" cy="590.8" r="1.5" fill="#B2822A"/>
<circle cx="222.0" cy="598.9" r="1.5" fill="#B2822A"/>
<circle cx="220.1" cy="602.7" r="1.5" fill="#B2822A"/>
<circle cx="235.1" cy="580.7" r="1.5" fill="#B2822A"/>
<circle cx="225.4" cy="586.7" r="1.5" fill="#B2822A"/>
<circle cx="231.4" cy="582.4" r="1.5" fill="#B2822A"/>
<circle cx="235.8" cy="581.1" r="1.5" fill="#B2822A"/>
<circle cx="241.5" cy="578.9" r="1.5" fill="#B2822A"/>
<circle cx="243.1" cy="576.9" r="1.5" fill="#B2822A"/>
<circle cx="251.8" cy="573.7" r="1.5" fill="#B2822A"/>
<circle cx="250.5" cy="573.2" r="1.5" fill="#B2822A"/>
<circle cx="243.3" cy="576.0" r="1.5" fill="#B2822A"/>
<circle cx="265.1" cy="566.2" r="1.5" fill="#B2822A"/>
<circle cx="265.1" cy="567.8" r="1.5" fill="#B2822A"/>
<circle cx="260.0" cy="567.9" r="1.5" fill="#B2822A"/>
<circle cx="258.9" cy="567.6" r="1.5" fill="#B2822A"/>
<circle cx="271.4" cy="565.5" r="1.5" fill="#B2822A"/>
<circle cx="278.2" cy="564.5" r="1.5" fill="#B2822A"/>
<circle cx="286.6" cy="559.2" r="1.5" fill="#B2822A"/>
<circle cx="279.6" cy="563.2" r="1.5" fill="#B2822A"/>
<circle cx="289.7" cy="560.2" r="1.5" fill="#B2822A"/>
<circle cx="290.0" cy="559.6" r="1.5" fill="#B2822A"/>
<circle cx="302.0" cy="557.9" r="1.5" fill="#B2822A"/>
<circle cx="307.4" cy="555.8" r="1.5" fill="#B2822A"/>
<circle cx="299.3" cy="557.7" r="1.5" fill="#B2822A"/>
<circle cx="305.5" cy="556.2" r="1.5" fill="#B2822A"/>
<circle cx="316.0" cy="560.3" r="1.5" fill="#B2822A"/>
<circle cx="314.2" cy="557.9" r="1.5" fill="#B2822A"/>
<circle cx="312.0" cy="558.8" r="1.5" fill="#B2822A"/>
<circle cx="324.5" cy="563.0" r="1.5" fill="#B2822A"/>
<circle cx="310.8" cy="558.2" r="1.5" fill="#B2822A"/>
<circle cx="340.9" cy="565.7" r="1.5" fill="#B2822A"/>
<circle cx="331.5" cy="564.4" r="1.5" fill="#B2822A"/>
<circle cx="326.7" cy="563.8" r="1.5" fill="#B2822A"/>
<circle cx="337.3" cy="563.7" r="1.5" fill="#B2822A"/>
<circle cx="349.4" cy="573.8" r="1.5" fill="#B2822A"/>
<circle cx="343.6" cy="566.1" r="1.5" fill="#B2822A"/>
<circle cx="349.2" cy="575.4" r="1.5" fill="#B2822A"/>
<circle cx="348.9" cy="575.6" r="1.5" fill="#B2822A"/>
<circle cx="362.3" cy="581.1" r="1.5" fill="#B2822A"/>
<circle cx="363.0" cy="581.0" r="1.5" fill="#B2822A"/>
<circle cx="353.0" cy="578.6" r="1.5" fill="#B2822A"/>
<circle cx="352.4" cy="575.5" r="1.5" fill="#B2822A"/>
<circle cx="361.4" cy="596.8" r="1.5" fill="#B2822A"/>
<circle cx="362.5" cy="593.6" r="1.5" fill="#B2822A"/>
<circle cx="364.8" cy="587.6" r="1.5" fill="#B2822A"/>
<circle cx="365.7" cy="584.3" r="1.5" fill="#B2822A"/>
<circle cx="364.7" cy="586.0" r="1.5" fill="#B2822A"/>
<circle cx="359.0" cy="604.5" r="1.5" fill="#B2822A"/>
<circle cx="359.1" cy="603.6" r="1.5" fill="#B2822A"/>
<circle cx="359.2" cy="604.0" r="1.5" fill="#B2822A"/>
<circle cx="360.2" cy="604.9" r="1.5" fill="#B2822A"/>
<circle cx="361.0" cy="625.1" r="1.5" fill="#B2822A"/>
<circle cx="357.3" cy="621.4" r="1.5" fill="#B2822A"/>
<circle cx="357.5" cy="614.1" r="1.5" fill="#B2822A"/>
<circle cx="357.3" cy="636.9" r="1.5" fill="#B2822A"/>
<circle cx="357.9" cy="630.9" r="1.5" fill="#B2822A"/>
<circle cx="359.5" cy="629.3" r="1.5" fill="#B2822A"/>
<circle cx="349.3" cy="651.9" r="1.5" fill="#B2822A"/>
<circle cx="355.5" cy="643.1" r="1.5" fill="#B2822A"/>
<circle cx="356.6" cy="640.5" r="1.5" fill="#B2822A"/>
<circle cx="348.2" cy="653.4" r="1.5" fill="#B2822A"/>
<circle cx="347.1" cy="653.5" r="1.5" fill="#B2822A"/>
<circle cx="334.9" cy="661.6" r="1.5" fill="#B2822A"/>
<circle cx="344.4" cy="655.3" r="1.5" fill="#B2822A"/>
<circle cx="334.4" cy="662.0" r="1.5" fill="#B2822A"/>
<circle cx="343.2" cy="656.1" r="1.5" fill="#B2822A"/>
<circle cx="329.7" cy="666.9" r="1.5" fill="#B2822A"/>
<circle cx="324.2" cy="672.9" r="1.5" fill="#B2822A"/>
<circle cx="324.4" cy="671.6" r="1.5" fill="#B2822A"/>
<circle cx="331.4" cy="665.4" r="1.5" fill="#B2822A"/>
<circle cx="313.8" cy="685.6" r="1.5" fill="#B2822A"/>
<circle cx="314.4" cy="683.0" r="1.5" fill="#B2822A"/>
<circle cx="317.0" cy="680.8" r="1.5" fill="#B2822A"/>
<circle cx="300.9" cy="695.5" r="1.5" fill="#B2822A"/>
<circle cx="310.7" cy="687.6" r="1.5" fill="#B2822A"/>
<circle cx="307.7" cy="687.9" r="1.5" fill="#B2822A"/>
<circle cx="305.9" cy="692.9" r="1.5" fill="#B2822A"/>
<circle cx="294.4" cy="695.6" r="1.5" fill="#B2822A"/>
<circle cx="293.5" cy="695.7" r="1.5" fill="#B2822A"/>
<circle cx="281.6" cy="693.9" r="1.5" fill="#B2822A"/>
<circle cx="279.4" cy="696.0" r="1.5" fill="#B2822A"/>
<circle cx="283.7" cy="695.0" r="1.5" fill="#B2822A"/>
<circle cx="265.3" cy="682.5" r="1.5" fill="#B2822A"/>
<circle cx="268.0" cy="684.1" r="1.5" fill="#B2822A"/>
<circle cx="270.0" cy="687.4" r="1.5" fill="#B2822A"/>
<circle cx="266.2" cy="683.2" r="1.5" fill="#B2822A"/>
<circle cx="258.2" cy="675.7" r="1.5" fill="#B2822A"/>
<circle cx="253.3" cy="671.2" r="1.5" fill="#B2822A"/>
<circle cx="259.7" cy="677.8" r="1.5" fill="#B2822A"/>
<circle cx="255.2" cy="673.4" r="1.5" fill="#B2822A"/>
<circle cx="249.6" cy="669.0" r="1.5" fill="#B2822A"/>
<circle cx="248.5" cy="668.2" r="1.5" fill="#B2822A"/>
<circle cx="249.0" cy="669.7" r="1.5" fill="#B2822A"/>
<circle cx="247.0" cy="668.0" r="1.5" fill="#B2822A"/>
<circle cx="228.0" cy="650.8" r="1.5" fill="#B2822A"/>
<circle cx="238.2" cy="658.8" r="1.5" fill="#B2822A"/>
<circle cx="235.3" cy="654.0" r="1.5" fill="#B2822A"/>
<circle cx="227.6" cy="644.7" r="1.5" fill="#B2822A"/>
<circle cx="232.8" cy="654.5" r="1.5" fill="#B2822A"/>
<circle cx="226.2" cy="641.1" r="1.5" fill="#B2822A"/>
<circle cx="226.0" cy="640.9" r="1.5" fill="#B2822A"/>
<circle cx="223.8" cy="638.4" r="1.5" fill="#B2822A"/>
<circle cx="222.1" cy="631.5" r="1.5" fill="#B2822A"/>
<circle cx="219.4" cy="611.3" r="1.5" fill="#B2822A"/>
<circle cx="221.5" cy="616.9" r="1.5" fill="#B2822A"/>
<circle cx="219.8" cy="624.5" r="1.5" fill="#B2822A"/>
<circle cx="220.8" cy="610.2" r="1.5" fill="#B2822A"/>
<circle cx="220.0" cy="606.1" r="1.5" fill="#B2822A"/>
<circle cx="220.9" cy="610.0" r="1.5" fill="#B2822A"/>
<circle cx="257.2" cy="581.8" r="0.9" fill="#fff"/>
<circle cx="279.4" cy="609.8" r="0.9" fill="#fff"/>
<circle cx="283.3" cy="602.1" r="0.9" fill="#fff"/>
<circle cx="273.5" cy="591.5" r="0.9" fill="#fff"/>
<circle cx="249.2" cy="599.0" r="0.9" fill="#fff"/>
<circle cx="233.2" cy="590.0" r="0.9" fill="#fff"/>
<circle cx="283.9" cy="602.7" r="0.9" fill="#fff"/>
<circle cx="272.6" cy="582.8" r="0.9" fill="#fff"/>
<circle cx="257.3" cy="591.6" r="0.9" fill="#fff"/>
<circle cx="272.0" cy="589.6" r="0.9" fill="#fff"/>
<circle cx="239.5" cy="600.1" r="0.9" fill="#fff"/>
<circle cx="283.6" cy="588.7" r="0.9" fill="#fff"/>
<circle cx="237.9" cy="605.6" r="0.9" fill="#fff"/>
<circle cx="233.5" cy="596.7" r="0.9" fill="#fff"/>
<circle cx="266.0" cy="602.8" r="0.9" fill="#fff"/>
<circle cx="263.9" cy="599.5" r="0.9" fill="#fff"/>
<circle cx="287.3" cy="594.4" r="0.9" fill="#fff"/>
<circle cx="256.4" cy="612.8" r="0.9" fill="#fff"/>
<circle cx="241.5" cy="601.4" r="0.9" fill="#fff"/>
<circle cx="255.0" cy="604.8" r="0.9" fill="#fff"/>
<circle cx="246.3" cy="589.2" r="0.9" fill="#fff"/>
<circle cx="227.0" cy="590.0" r="0.9" fill="#fff"/>
<circle cx="257.1" cy="602.0" r="0.9" fill="#fff"/>
<circle cx="252.1" cy="583.4" r="0.9" fill="#fff"/>
<circle cx="242.6" cy="603.9" r="0.9" fill="#fff"/>
<polygon points="292.0,706.0 300.0,700.0 312.0,702.0 320.0,708.0 316.0,716.0 306.0,718.0 296.0,714.0" fill="#B2822A" stroke="#B2822A" stroke-width="2.0" stroke-linejoin="round" stroke-dasharray="0 3.2" stroke-linecap="round"/>
<circle cx="298.9" cy="699.5" r="1.5" fill="#B2822A"/>
<circle cx="298.3" cy="701.0" r="1.5" fill="#B2822A"/>
<circle cx="304.7" cy="700.6" r="1.5" fill="#B2822A"/>
<circle cx="309.5" cy="700.7" r="1.5" fill="#B2822A"/>
<circle cx="309.9" cy="700.4" r="1.5" fill="#B2822A"/>
<circle cx="317.3" cy="704.3" r="1.5" fill="#B2822A"/>
<circle cx="314.7" cy="702.2" r="1.5" fill="#B2822A"/>
<circle cx="317.7" cy="713.3" r="1.5" fill="#B2822A"/>
<circle cx="317.4" cy="714.9" r="1.5" fill="#B2822A"/>
<circle cx="313.4" cy="718.2" r="1.5" fill="#B2822A"/>
<circle cx="310.9" cy="719.2" r="1.5" fill="#B2822A"/>
<circle cx="301.7" cy="718.6" r="1.5" fill="#B2822A"/>
<circle cx="297.4" cy="714.8" r="1.5" fill="#B2822A"/>
<circle cx="302.9" cy="718.4" r="1.5" fill="#B2822A"/>
<circle cx="294.3" cy="710.6" r="1.5" fill="#B2822A"/>
<circle cx="293.0" cy="708.3" r="1.5" fill="#B2822A"/>
<circle cx="288.6" cy="703.9" r="1.5" fill="#B2822A"/>
<circle cx="286.9" cy="705.2" r="1.5" fill="#B2822A"/>
<circle cx="279.9" cy="702.8" r="1.5" fill="#B2822A"/>
<circle cx="285.5" cy="695.9" r="1.5" fill="#B2822A"/>
<circle cx="301.7" cy="696.8" r="1.5" fill="#B2822A"/>
<circle cx="301.9" cy="702.6" r="1.5" fill="#B2822A"/>
<circle cx="300.3" cy="696.0" r="1.5" fill="#B2822A"/>
<circle cx="298.1" cy="705.6" r="1.5" fill="#B2822A"/>
<circle cx="288.9" cy="699.3" r="1.5" fill="#B2822A"/>
<circle cx="303.6" cy="700.6" r="1.5" fill="#B2822A"/>
<circle cx="286.1" cy="696.7" r="1.5" fill="#B2822A"/>
<circle cx="294.2" cy="701.8" r="1.5" fill="#B2822A"/>
<circle cx="291.3" cy="707.0" r="1.5" fill="#B2822A"/>
<circle cx="286.9" cy="702.6" r="1.5" fill="#B2822A"/>
<circle cx="300.3" cy="696.0" r="1.5" fill="#B2822A"/>
<circle cx="296.5" cy="706.6" r="1.5" fill="#B2822A"/>
<circle cx="280.4" cy="695.5" r="1.5" fill="#B2822A"/>
<circle cx="283.5" cy="693.4" r="1.5" fill="#B2822A"/>
<circle cx="293.0" cy="692.9" r="1.5" fill="#B2822A"/>
<circle cx="293.8" cy="706.3" r="1.5" fill="#B2822A"/>
<circle cx="278.2" cy="698.7" r="1.5" fill="#B2822A"/>
<circle cx="277.8" cy="702.8" r="1.5" fill="#B2822A"/>
<circle cx="283.2" cy="698.6" r="1.5" fill="#B2822A"/>
<circle cx="290.5" cy="703.0" r="1.5" fill="#B2822A"/>
<circle cx="286.6" cy="700.1" r="1.5" fill="#B2822A"/>
<circle cx="298.1" cy="713.2" r="1.5" fill="#5092F0"/>
<circle cx="296.5" cy="713.1" r="1.5" fill="#5092F0"/>
<circle cx="295.5" cy="712.3" r="1.5" fill="#5092F0"/>
<circle cx="304.6" cy="713.1" r="1.5" fill="#5092F0"/>
<circle cx="296.3" cy="713.4" r="1.5" fill="#5092F0"/>
<circle cx="297.7" cy="710.6" r="1.5" fill="#5092F0"/>
<circle cx="304.7" cy="716.9" r="1.5" fill="#5DB25A"/>
<circle cx="308.3" cy="715.9" r="1.5" fill="#5DB25A"/>
<circle cx="304.4" cy="714.8" r="1.5" fill="#5DB25A"/>
<circle cx="310.8" cy="716.3" r="1.5" fill="#5DB25A"/>
<circle cx="305.0" cy="714.2" r="1.5" fill="#5DB25A"/>
<polygon points="473.0,726.0 476.0,716.0 479.0,703.0 480.0,693.0 485.0,686.0 494.0,676.0 502.0,670.0 510.0,667.0 520.0,664.0 524.0,658.0 528.0,655.0 536.0,652.0 548.0,650.0 556.0,649.0 560.0,645.0 566.0,640.0 575.0,636.0 585.0,635.0 595.0,635.0 605.0,638.0 615.0,642.0 620.0,646.0 616.0,652.0 608.0,657.0 602.0,662.0 595.0,667.0 592.0,674.0 593.0,682.0 591.0,690.0 585.0,690.0 580.0,692.0 576.0,698.0 573.0,705.0 566.0,710.0 559.0,716.0 556.0,723.0 550.0,726.0 544.0,731.0 536.0,735.0 528.0,740.0 520.0,744.0 510.0,745.0 500.0,745.0 493.0,744.0 487.0,744.0 482.0,738.0 477.0,731.0" fill="#5AB0B7" stroke="#5AB0B7" stroke-width="2.6" stroke-linejoin="round" stroke-dasharray="0 3.2" stroke-linecap="round"/>
<circle cx="472.2" cy="722.1" r="1.5" fill="#5AB0B7"/>
<circle cx="474.2" cy="721.1" r="1.5" fill="#5AB0B7"/>
<circle cx="476.3" cy="703.8" r="1.5" fill="#5AB0B7"/>
<circle cx="477.4" cy="707.8" r="1.5" fill="#5AB0B7"/>
<circle cx="476.1" cy="711.4" r="1.5" fill="#5AB0B7"/>
<circle cx="478.3" cy="698.1" r="1.5" fill="#5AB0B7"/>
<circle cx="479.4" cy="697.7" r="1.5" fill="#5AB0B7"/>
<circle cx="481.3" cy="689.3" r="1.5" fill="#5AB0B7"/>
<circle cx="479.8" cy="688.4" r="1.5" fill="#5AB0B7"/>
<circle cx="486.9" cy="682.4" r="1.5" fill="#5AB0B7"/>
<circle cx="491.3" cy="676.7" r="1.5" fill="#5AB0B7"/>
<circle cx="486.6" cy="682.6" r="1.5" fill="#5AB0B7"/>
<circle cx="496.7" cy="671.1" r="1.5" fill="#5AB0B7"/>
<circle cx="500.1" cy="671.0" r="1.5" fill="#5AB0B7"/>
<circle cx="504.5" cy="668.5" r="1.5" fill="#5AB0B7"/>
<circle cx="506.3" cy="667.1" r="1.5" fill="#5AB0B7"/>
<circle cx="516.3" cy="665.0" r="1.5" fill="#5AB0B7"/>
<circle cx="517.1" cy="664.4" r="1.5" fill="#5AB0B7"/>
<circle cx="523.1" cy="658.4" r="1.5" fill="#5AB0B7"/>
<circle cx="521.1" cy="662.1" r="1.5" fill="#5AB0B7"/>
<circle cx="523.2" cy="656.9" r="1.5" fill="#5AB0B7"/>
<circle cx="531.7" cy="650.0" r="1.5" fill="#5AB0B7"/>
<circle cx="533.0" cy="652.2" r="1.5" fill="#5AB0B7"/>
<circle cx="542.8" cy="647.4" r="1.5" fill="#5AB0B7"/>
<circle cx="543.1" cy="649.1" r="1.5" fill="#5AB0B7"/>
<circle cx="542.9" cy="649.1" r="1.5" fill="#5AB0B7"/>
<circle cx="553.4" cy="648.8" r="1.5" fill="#5AB0B7"/>
<circle cx="551.4" cy="647.3" r="1.5" fill="#5AB0B7"/>
<circle cx="558.5" cy="645.4" r="1.5" fill="#5AB0B7"/>
<circle cx="559.8" cy="644.4" r="1.5" fill="#5AB0B7"/>
<circle cx="563.4" cy="639.6" r="1.5" fill="#5AB0B7"/>
<circle cx="568.8" cy="637.4" r="1.5" fill="#5AB0B7"/>
<circle cx="573.2" cy="636.3" r="1.5" fill="#5AB0B7"/>
<circle cx="577.4" cy="633.7" r="1.5" fill="#5AB0B7"/>
<circle cx="577.9" cy="634.5" r="1.5" fill="#5AB0B7"/>
<circle cx="589.3" cy="634.3" r="1.5" fill="#5AB0B7"/>
<circle cx="591.4" cy="634.5" r="1.5" fill="#5AB0B7"/>
<circle cx="600.7" cy="636.5" r="1.5" fill="#5AB0B7"/>
<circle cx="596.0" cy="633.1" r="1.5" fill="#5AB0B7"/>
<circle cx="611.5" cy="638.5" r="1.5" fill="#5AB0B7"/>
<circle cx="614.3" cy="641.4" r="1.5" fill="#5AB0B7"/>
<circle cx="608.9" cy="639.5" r="1.5" fill="#5AB0B7"/>
<circle cx="620.6" cy="641.1" r="1.5" fill="#5AB0B7"/>
<circle cx="619.5" cy="649.8" r="1.5" fill="#5AB0B7"/>
<circle cx="619.9" cy="649.5" r="1.5" fill="#5AB0B7"/>
<circle cx="615.0" cy="654.2" r="1.5" fill="#5AB0B7"/>
<circle cx="614.9" cy="652.9" r="1.5" fill="#5AB0B7"/>
<circle cx="603.9" cy="660.4" r="1.5" fill="#5AB0B7"/>
<circle cx="607.7" cy="658.1" r="1.5" fill="#5AB0B7"/>
<circle cx="596.0" cy="666.5" r="1.5" fill="#5AB0B7"/>
<circle cx="602.6" cy="664.7" r="1.5" fill="#5AB0B7"/>
<circle cx="594.5" cy="668.8" r="1.5" fill="#5AB0B7"/>
<circle cx="593.0" cy="672.2" r="1.5" fill="#5AB0B7"/>
<circle cx="593.2" cy="680.1" r="1.5" fill="#5AB0B7"/>
<circle cx="594.3" cy="679.5" r="1.5" fill="#5AB0B7"/>
<circle cx="594.8" cy="683.2" r="1.5" fill="#5AB0B7"/>
<circle cx="592.2" cy="687.1" r="1.5" fill="#5AB0B7"/>
<circle cx="585.4" cy="691.7" r="1.5" fill="#5AB0B7"/>
<circle cx="584.7" cy="692.8" r="1.5" fill="#5AB0B7"/>
<circle cx="580.4" cy="692.4" r="1.5" fill="#5AB0B7"/>
<circle cx="581.4" cy="693.0" r="1.5" fill="#5AB0B7"/>
<circle cx="578.0" cy="699.5" r="1.5" fill="#5AB0B7"/>
<circle cx="575.2" cy="700.2" r="1.5" fill="#5AB0B7"/>
<circle cx="567.5" cy="710.1" r="1.5" fill="#5AB0B7"/>
<circle cx="570.4" cy="708.6" r="1.5" fill="#5AB0B7"/>
<circle cx="562.3" cy="713.9" r="1.5" fill="#5AB0B7"/>
<circle cx="563.2" cy="712.9" r="1.5" fill="#5AB0B7"/>
<circle cx="557.3" cy="721.9" r="1.5" fill="#5AB0B7"/>
<circle cx="559.2" cy="719.1" r="1.5" fill="#5AB0B7"/>
<circle cx="554.3" cy="725.8" r="1.5" fill="#5AB0B7"/>
<circle cx="548.2" cy="728.6" r="1.5" fill="#5AB0B7"/>
<circle cx="547.7" cy="732.8" r="1.5" fill="#5AB0B7"/>
<circle cx="539.5" cy="733.4" r="1.5" fill="#5AB0B7"/>
<circle cx="536.5" cy="735.4" r="1.5" fill="#5AB0B7"/>
<circle cx="530.7" cy="739.1" r="1.5" fill="#5AB0B7"/>
<circle cx="531.8" cy="739.1" r="1.5" fill="#5AB0B7"/>
<circle cx="520.7" cy="744.9" r="1.5" fill="#5AB0B7"/>
<circle cx="526.4" cy="742.9" r="1.5" fill="#5AB0B7"/>
<circle cx="515.8" cy="745.6" r="1.5" fill="#5AB0B7"/>
<circle cx="513.3" cy="745.7" r="1.5" fill="#5AB0B7"/>
<circle cx="504.0" cy="747.3" r="1.5" fill="#5AB0B7"/>
<circle cx="507.2" cy="746.8" r="1.5" fill="#5AB0B7"/>
<circle cx="500.0" cy="745.1" r="1.5" fill="#5AB0B7"/>
<circle cx="489.5" cy="745.7" r="1.5" fill="#5AB0B7"/>
<circle cx="482.6" cy="739.3" r="1.5" fill="#5AB0B7"/>
<circle cx="482.6" cy="739.2" r="1.5" fill="#5AB0B7"/>
<circle cx="476.8" cy="733.1" r="1.5" fill="#5AB0B7"/>
<circle cx="479.4" cy="737.0" r="1.5" fill="#5AB0B7"/>
<circle cx="472.9" cy="727.3" r="1.5" fill="#5AB0B7"/>
<circle cx="568.2" cy="692.4" r="1.5" fill="#5092F0"/>
<circle cx="573.6" cy="709.5" r="1.5" fill="#5092F0"/>
<circle cx="553.3" cy="689.3" r="1.5" fill="#5092F0"/>
<circle cx="548.0" cy="675.9" r="1.5" fill="#5092F0"/>
<circle cx="551.1" cy="719.4" r="1.5" fill="#5092F0"/>
<circle cx="536.0" cy="684.7" r="1.5" fill="#5092F0"/>
<circle cx="553.4" cy="712.2" r="1.5" fill="#5092F0"/>
<circle cx="548.3" cy="677.8" r="1.5" fill="#5092F0"/>
<circle cx="536.5" cy="701.9" r="1.5" fill="#5092F0"/>
<circle cx="560.2" cy="679.4" r="1.5" fill="#5092F0"/>
<polygon points="551.0,605.0 560.0,603.0 573.0,604.0 582.0,606.0 586.0,615.0 588.0,621.0 580.0,626.0 573.0,629.0 566.0,632.0 562.0,640.0 557.0,645.0 556.0,638.0 557.0,631.0 551.0,627.0 550.0,620.0 555.0,615.0" fill="#B2822A" stroke="#B2822A" stroke-width="2.6" stroke-linejoin="round" stroke-dasharray="0 3.2" stroke-linecap="round"/>
<circle cx="552.6" cy="602.3" r="1.5" fill="#B2822A"/>
<circle cx="555.6" cy="601.2" r="1.5" fill="#B2822A"/>
<circle cx="566.9" cy="601.5" r="1.5" fill="#B2822A"/>
<circle cx="566.3" cy="602.6" r="1.5" fill="#B2822A"/>
<circle cx="562.5" cy="602.6" r="1.5" fill="#B2822A"/>
<circle cx="574.7" cy="603.9" r="1.5" fill="#B2822A"/>
<circle cx="578.4" cy="603.7" r="1.5" fill="#B2822A"/>
<circle cx="584.4" cy="609.3" r="1.5" fill="#B2822A"/>
<circle cx="582.3" cy="606.4" r="1.5" fill="#B2822A"/>
<circle cx="588.5" cy="620.8" r="1.5" fill="#B2822A"/>
<circle cx="583.2" cy="624.6" r="1.5" fill="#B2822A"/>
<circle cx="582.3" cy="626.0" r="1.5" fill="#B2822A"/>
<circle cx="578.3" cy="628.7" r="1.5" fill="#B2822A"/>
<circle cx="576.5" cy="627.9" r="1.5" fill="#B2822A"/>
<circle cx="566.1" cy="632.0" r="1.5" fill="#B2822A"/>
<circle cx="567.8" cy="633.5" r="1.5" fill="#B2822A"/>
<circle cx="565.1" cy="634.2" r="1.5" fill="#B2822A"/>
<circle cx="566.0" cy="639.8" r="1.5" fill="#B2822A"/>
<circle cx="559.4" cy="645.1" r="1.5" fill="#B2822A"/>
<circle cx="555.0" cy="639.4" r="1.5" fill="#B2822A"/>
<circle cx="555.8" cy="637.7" r="1.5" fill="#B2822A"/>
<circle cx="555.6" cy="630.4" r="1.5" fill="#B2822A"/>
<circle cx="556.4" cy="631.3" r="1.5" fill="#B2822A"/>
<circle cx="549.2" cy="623.3" r="1.5" fill="#B2822A"/>
<circle cx="553.8" cy="614.4" r="1.5" fill="#B2822A"/>
<circle cx="549.5" cy="606.6" r="1.5" fill="#B2822A"/>
<circle cx="552.6" cy="611.3" r="1.5" fill="#B2822A"/>
<circle cx="553.4" cy="614.2" r="1.5" fill="#B2822A"/>
<circle cx="572.8" cy="632.0" r="1.5" fill="#B2822A"/>
<circle cx="565.3" cy="622.4" r="1.5" fill="#B2822A"/>
<circle cx="549.7" cy="612.8" r="1.5" fill="#B2822A"/>
<circle cx="563.5" cy="645.1" r="1.5" fill="#B2822A"/>
<circle cx="550.1" cy="639.3" r="1.5" fill="#B2822A"/>
<circle cx="579.2" cy="632.3" r="1.5" fill="#B2822A"/>
<circle cx="554.4" cy="637.7" r="1.5" fill="#B2822A"/>
<circle cx="561.1" cy="629.6" r="1.5" fill="#B2822A"/>
<circle cx="581.3" cy="605.3" r="1.5" fill="#B2822A"/>
<circle cx="562.3" cy="612.9" r="1.5" fill="#B2822A"/>
<circle cx="553.5" cy="624.1" r="1.5" fill="#B2822A"/>
<circle cx="555.4" cy="611.9" r="1.5" fill="#B2822A"/>
<circle cx="554.3" cy="633.9" r="1.5" fill="#B2822A"/>
<circle cx="548.6" cy="635.9" r="1.5" fill="#B2822A"/>
<circle cx="556.6" cy="601.8" r="1.5" fill="#B2822A"/>
<circle cx="588.8" cy="611.0" r="1.5" fill="#B2822A"/>
<circle cx="587.1" cy="607.0" r="1.5" fill="#B2822A"/>
<circle cx="567.7" cy="604.8" r="1.5" fill="#B2822A"/>
<circle cx="575.6" cy="622.6" r="1.5" fill="#B2822A"/>
<circle cx="563.0" cy="641.2" r="1.5" fill="#B2822A"/>
<circle cx="569.0" cy="631.4" r="1.5" fill="#B2822A"/>
<circle cx="554.3" cy="611.1" r="1.5" fill="#B2822A"/>
<circle cx="550.5" cy="635.7" r="1.5" fill="#B2822A"/>
<circle cx="572.3" cy="607.2" r="1.5" fill="#B2822A"/>
<circle cx="586.3" cy="613.3" r="1.5" fill="#B2822A"/>
<circle cx="566.1" cy="607.8" r="1.5" fill="#B2822A"/>
<circle cx="559.9" cy="642.0" r="1.5" fill="#B2822A"/>
<circle cx="562.7" cy="608.4" r="1.5" fill="#B2822A"/>
<circle cx="569.6" cy="615.9" r="1.5" fill="#B2822A"/>
<circle cx="587.7" cy="605.7" r="1.5" fill="#B2822A"/>
<circle cx="587.4" cy="633.4" r="1.5" fill="#B2822A"/>
<circle cx="557.3" cy="623.9" r="1.5" fill="#B2822A"/>
<circle cx="560.6" cy="612.9" r="1.5" fill="#B2822A"/>
<circle cx="556.9" cy="618.2" r="1.5" fill="#B2822A"/>
<circle cx="588.7" cy="604.9" r="1.5" fill="#B2822A"/>
<circle cx="560.7" cy="644.8" r="1.5" fill="#B2822A"/>
<circle cx="550.5" cy="636.3" r="1.5" fill="#B2822A"/>
<circle cx="548.7" cy="640.4" r="1.5" fill="#B2822A"/>
<circle cx="563.0" cy="607.0" r="1.5" fill="#B2822A"/>
<circle cx="571.2" cy="609.3" r="1.5" fill="#B2822A"/>
<circle cx="562.7" cy="634.5" r="1.5" fill="#7AA026"/>
<circle cx="577.1" cy="636.0" r="1.5" fill="#7AA026"/>
<circle cx="578.8" cy="634.3" r="1.5" fill="#7AA026"/>
<circle cx="576.5" cy="629.7" r="1.5" fill="#7AA026"/>
<circle cx="576.3" cy="634.1" r="1.5" fill="#7AA026"/>
<circle cx="584.3" cy="634.6" r="1.5" fill="#7AA026"/>
<circle cx="567.7" cy="633.1" r="1.5" fill="#7AA026"/>
<circle cx="578.0" cy="636.0" r="1.5" fill="#7AA026"/>
<circle cx="571.7" cy="629.5" r="1.5" fill="#7AA026"/>
<circle cx="569.5" cy="632.1" r="1.5" fill="#7AA026"/>
<circle cx="586.0" cy="634.4" r="1.5" fill="#7AA026"/>
<circle cx="565.0" cy="634.9" r="1.5" fill="#7AA026"/>
<circle cx="586.8" cy="634.2" r="1.5" fill="#7AA026"/>
<circle cx="568.4" cy="636.2" r="1.5" fill="#7AA026"/>
<polygon points="596.0,506.0 603.0,503.0 610.0,507.0 616.0,510.0 623.0,514.0 628.0,511.0 635.0,512.0 644.0,517.0 644.0,523.0 639.0,530.0 634.0,535.0 635.0,540.0 632.0,548.0 636.0,556.0 637.0,564.0 634.0,572.0 636.0,582.0 634.0,590.0 636.0,600.0 634.0,608.0 630.0,615.0 622.0,618.0 610.0,616.0 602.0,609.0 592.0,600.0 583.0,594.0 574.0,584.0 569.0,576.0 564.0,568.0 561.0,558.0 560.0,550.0 562.0,542.0 565.0,533.0 569.0,526.0 575.0,520.0 583.0,517.0 590.0,512.0 594.0,508.0" fill="#D6605C" stroke="#D6605C" stroke-width="2.6" stroke-linejoin="round" stroke-dasharray="0 3.2" stroke-linecap="round"/>
<circle cx="601.9" cy="503.1" r="1.5" fill="#D6605C"/>
<circle cx="598.1" cy="501.3" r="1.5" fill="#D6605C"/>
<circle cx="606.5" cy="504.6" r="1.5" fill="#D6605C"/>
<circle cx="609.2" cy="506.4" r="1.5" fill="#D6605C"/>
<circle cx="615.4" cy="508.6" r="1.5" fill="#D6605C"/>
<circle cx="619.0" cy="510.8" r="1.5" fill="#D6605C"/>
<circle cx="620.8" cy="511.2" r="1.5" fill="#D6605C"/>
<circle cx="622.1" cy="512.5" r="1.5" fill="#D6605C"/>
<circle cx="631.6" cy="511.3" r="1.5" fill="#D6605C"/>
<circle cx="636.4" cy="512.0" r="1.5" fill="#D6605C"/>
<circle cx="644.2" cy="513.8" r="1.5" fill="#D6605C"/>
<circle cx="644.4" cy="518.9" r="1.5" fill="#D6605C"/>
<circle cx="641.5" cy="529.1" r="1.5" fill="#D6605C"/>
<circle cx="645.9" cy="525.0" r="1.5" fill="#D6605C"/>
<circle cx="638.5" cy="534.5" r="1.5" fill="#D6605C"/>
<circle cx="636.4" cy="537.2" r="1.5" fill="#D6605C"/>
<circle cx="635.3" cy="540.3" r="1.5" fill="#D6605C"/>
<circle cx="632.3" cy="547.8" r="1.5" fill="#D6605C"/>
<circle cx="633.3" cy="548.4" r="1.5" fill="#D6605C"/>
<circle cx="633.1" cy="549.9" r="1.5" fill="#D6605C"/>
<circle cx="636.5" cy="556.7" r="1.5" fill="#D6605C"/>
<circle cx="636.8" cy="561.6" r="1.5" fill="#D6605C"/>
<circle cx="635.5" cy="568.9" r="1.5" fill="#D6605C"/>
<circle cx="637.6" cy="569.5" r="1.5" fill="#D6605C"/>
<circle cx="634.6" cy="573.0" r="1.5" fill="#D6605C"/>
<circle cx="635.8" cy="580.7" r="1.5" fill="#D6605C"/>
<circle cx="636.2" cy="583.1" r="1.5" fill="#D6605C"/>
<circle cx="636.3" cy="586.3" r="1.5" fill="#D6605C"/>
<circle cx="634.3" cy="591.2" r="1.5" fill="#D6605C"/>
<circle cx="636.2" cy="593.8" r="1.5" fill="#D6605C"/>
<circle cx="635.9" cy="607.3" r="1.5" fill="#D6605C"/>
<circle cx="638.0" cy="601.8" r="1.5" fill="#D6605C"/>
<circle cx="634.4" cy="609.7" r="1.5" fill="#D6605C"/>
<circle cx="632.0" cy="614.5" r="1.5" fill="#D6605C"/>
<circle cx="626.8" cy="616.8" r="1.5" fill="#D6605C"/>
<circle cx="623.8" cy="619.0" r="1.5" fill="#D6605C"/>
<circle cx="610.7" cy="616.4" r="1.5" fill="#D6605C"/>
<circle cx="612.6" cy="617.1" r="1.5" fill="#D6605C"/>
<circle cx="617.8" cy="618.3" r="1.5" fill="#D6605C"/>
<circle cx="604.6" cy="615.1" r="1.5" fill="#D6605C"/>
<circle cx="602.5" cy="609.9" r="1.5" fill="#D6605C"/>
<circle cx="593.6" cy="601.9" r="1.5" fill="#D6605C"/>
<circle cx="596.5" cy="604.7" r="1.5" fill="#D6605C"/>
<circle cx="591.7" cy="601.2" r="1.5" fill="#D6605C"/>
<circle cx="587.9" cy="597.9" r="1.5" fill="#D6605C"/>
<circle cx="585.6" cy="597.3" r="1.5" fill="#D6605C"/>
<circle cx="590.6" cy="600.8" r="1.5" fill="#D6605C"/>
<circle cx="578.9" cy="589.9" r="1.5" fill="#D6605C"/>
<circle cx="581.7" cy="592.6" r="1.5" fill="#D6605C"/>
<circle cx="573.8" cy="584.7" r="1.5" fill="#D6605C"/>
<circle cx="567.7" cy="580.9" r="1.5" fill="#D6605C"/>
<circle cx="567.8" cy="578.8" r="1.5" fill="#D6605C"/>
<circle cx="567.0" cy="576.9" r="1.5" fill="#D6605C"/>
<circle cx="565.6" cy="571.0" r="1.5" fill="#D6605C"/>
<circle cx="560.9" cy="566.0" r="1.5" fill="#D6605C"/>
<circle cx="560.5" cy="563.1" r="1.5" fill="#D6605C"/>
<circle cx="559.7" cy="556.1" r="1.5" fill="#D6605C"/>
<circle cx="556.9" cy="554.3" r="1.5" fill="#D6605C"/>
<circle cx="559.0" cy="547.3" r="1.5" fill="#D6605C"/>
<circle cx="560.1" cy="547.4" r="1.5" fill="#D6605C"/>
<circle cx="563.2" cy="536.4" r="1.5" fill="#D6605C"/>
<circle cx="563.7" cy="533.0" r="1.5" fill="#D6605C"/>
<circle cx="566.8" cy="529.7" r="1.5" fill="#D6605C"/>
<circle cx="566.7" cy="529.0" r="1.5" fill="#D6605C"/>
<circle cx="569.3" cy="524.7" r="1.5" fill="#D6605C"/>
<circle cx="570.0" cy="523.5" r="1.5" fill="#D6605C"/>
<circle cx="576.7" cy="518.6" r="1.5" fill="#D6605C"/>
<circle cx="574.7" cy="517.0" r="1.5" fill="#D6605C"/>
<circle cx="586.8" cy="513.2" r="1.5" fill="#D6605C"/>
<circle cx="586.6" cy="513.6" r="1.5" fill="#D6605C"/>
<circle cx="592.2" cy="508.5" r="1.5" fill="#D6605C"/>
<circle cx="617.4" cy="572.6" r="1.5" fill="#5092F0"/>
<circle cx="621.5" cy="565.0" r="1.5" fill="#5092F0"/>
<circle cx="613.4" cy="543.3" r="1.5" fill="#5092F0"/>
<circle cx="611.0" cy="569.2" r="1.5" fill="#5092F0"/>
<circle cx="615.3" cy="576.2" r="1.5" fill="#5092F0"/>
<circle cx="628.3" cy="542.9" r="1.5" fill="#5092F0"/>
<circle cx="620.0" cy="567.2" r="1.5" fill="#5092F0"/>
<circle cx="613.0" cy="594.1" r="1.5" fill="#5092F0"/>
<circle cx="628.5" cy="562.2" r="1.5" fill="#5092F0"/>
<circle cx="616.9" cy="590.6" r="1.5" fill="#5092F0"/>
<circle cx="630.9" cy="590.9" r="1.5" fill="#5092F0"/>
<circle cx="614.5" cy="584.8" r="1.5" fill="#5092F0"/>
<circle cx="621.6" cy="601.6" r="1.5" fill="#5092F0"/>
<circle cx="627.2" cy="569.7" r="1.5" fill="#5092F0"/>
<circle cx="624.9" cy="591.4" r="1.5" fill="#5092F0"/>
<circle cx="625.5" cy="565.6" r="1.5" fill="#5092F0"/>
<circle cx="626.2" cy="588.0" r="1.5" fill="#5092F0"/>
<circle cx="629.7" cy="532.2" r="1.5" fill="#5092F0"/>
<circle cx="628.5" cy="520.4" r="1.5" fill="#5092F0"/>
<circle cx="625.7" cy="576.2" r="1.5" fill="#5092F0"/>
<circle cx="618.4" cy="612.4" r="1.5" fill="#5092F0"/>
<circle cx="620.4" cy="560.1" r="1.5" fill="#5092F0"/>
<circle cx="626.2" cy="603.8" r="1.5" fill="#5092F0"/>
<circle cx="621.4" cy="556.4" r="1.5" fill="#5092F0"/>
<circle cx="617.2" cy="564.0" r="1.5" fill="#5092F0"/>
<circle cx="624.5" cy="548.1" r="1.5" fill="#5092F0"/>
<circle cx="615.5" cy="573.3" r="1.5" fill="#5092F0"/>
<circle cx="615.4" cy="550.9" r="1.5" fill="#5092F0"/>
<circle cx="626.3" cy="601.6" r="1.5" fill="#5092F0"/>
<circle cx="618.5" cy="562.6" r="1.5" fill="#5092F0"/>
<circle cx="608.9" cy="575.2" r="1.5" fill="#5092F0"/>
<circle cx="620.7" cy="528.4" r="1.5" fill="#5092F0"/>
<circle cx="629.8" cy="551.1" r="1.5" fill="#5092F0"/>
<circle cx="627.8" cy="600.5" r="1.5" fill="#5092F0"/>
<circle cx="616.5" cy="607.4" r="1.5" fill="#5092F0"/>
<circle cx="620.3" cy="567.7" r="1.5" fill="#5092F0"/>
<circle cx="629.8" cy="594.3" r="1.5" fill="#5092F0"/>
<circle cx="619.0" cy="569.7" r="1.5" fill="#5092F0"/>
<circle cx="623.5" cy="557.4" r="1.5" fill="#5092F0"/>
<circle cx="614.7" cy="577.1" r="1.5" fill="#5092F0"/>
<circle cx="614.5" cy="611.0" r="1.5" fill="#5092F0"/>
<circle cx="623.3" cy="570.4" r="1.5" fill="#5092F0"/>
<circle cx="615.8" cy="573.9" r="1.5" fill="#5092F0"/>
<circle cx="620.5" cy="604.5" r="1.5" fill="#5092F0"/>
<circle cx="631.0" cy="566.7" r="1.5" fill="#5092F0"/>
<circle cx="614.1" cy="606.2" r="1.5" fill="#A55FF0"/>
<circle cx="617.0" cy="611.2" r="1.5" fill="#A55FF0"/>
<circle cx="605.5" cy="598.3" r="1.5" fill="#A55FF0"/>
<circle cx="616.4" cy="592.9" r="1.5" fill="#A55FF0"/>
<circle cx="628.4" cy="600.9" r="1.5" fill="#A55FF0"/>
<circle cx="605.0" cy="597.5" r="1.5" fill="#A55FF0"/>
<circle cx="616.4" cy="603.1" r="1.5" fill="#A55FF0"/>
<circle cx="606.0" cy="594.7" r="1.5" fill="#A55FF0"/>
<circle cx="620.2" cy="605.7" r="1.5" fill="#A55FF0"/>
<circle cx="620.4" cy="591.1" r="1.5" fill="#A55FF0"/>
<circle cx="613.2" cy="610.5" r="1.5" fill="#A55FF0"/>
<circle cx="609.8" cy="608.0" r="1.5" fill="#A55FF0"/>
<circle cx="626.9" cy="605.2" r="1.5" fill="#A55FF0"/>
<circle cx="621.4" cy="595.1" r="1.5" fill="#A55FF0"/>
<circle cx="615.9" cy="604.4" r="1.5" fill="#A55FF0"/>
<circle cx="608.5" cy="606.8" r="1.5" fill="#A55FF0"/>
<circle cx="618.4" cy="600.7" r="1.5" fill="#A55FF0"/>
<circle cx="603.9" cy="594.1" r="1.5" fill="#A55FF0"/>
<circle cx="624.3" cy="592.8" r="1.5" fill="#A55FF0"/>
<circle cx="603.2" cy="594.4" r="1.5" fill="#A55FF0"/>
<polygon points="690.0,542.0 700.0,536.0 710.0,540.0 720.0,539.0 736.0,542.0 740.0,552.0 741.0,564.0 741.0,580.0 739.0,590.0 730.0,598.0 718.0,602.0 704.0,608.0 690.0,613.0 678.0,615.0 665.0,620.0 658.0,621.0 652.0,613.0 648.0,604.0 652.0,592.0 658.0,580.0 666.0,572.0 671.0,560.0 678.0,552.0 685.0,548.0" fill="#7AA026" stroke="#7AA026" stroke-width="2.6" stroke-linejoin="round" stroke-dasharray="0 3.2" stroke-linecap="round"/>
<circle cx="694.7" cy="538.0" r="1.5" fill="#7AA026"/>
<circle cx="697.0" cy="535.5" r="1.5" fill="#7AA026"/>
<circle cx="689.2" cy="539.3" r="1.5" fill="#7AA026"/>
<circle cx="703.3" cy="537.1" r="1.5" fill="#7AA026"/>
<circle cx="707.4" cy="538.3" r="1.5" fill="#7AA026"/>
<circle cx="703.0" cy="536.3" r="1.5" fill="#7AA026"/>
<circle cx="710.8" cy="538.2" r="1.5" fill="#7AA026"/>
<circle cx="713.4" cy="538.5" r="1.5" fill="#7AA026"/>
<circle cx="727.3" cy="540.0" r="1.5" fill="#7AA026"/>
<circle cx="734.3" cy="541.3" r="1.5" fill="#7AA026"/>
<circle cx="729.6" cy="539.1" r="1.5" fill="#7AA026"/>
<circle cx="730.0" cy="540.4" r="1.5" fill="#7AA026"/>
<circle cx="740.3" cy="543.2" r="1.5" fill="#7AA026"/>
<circle cx="740.4" cy="550.2" r="1.5" fill="#7AA026"/>
<circle cx="739.5" cy="544.3" r="1.5" fill="#7AA026"/>
<circle cx="742.0" cy="555.5" r="1.5" fill="#7AA026"/>
<circle cx="742.4" cy="559.1" r="1.5" fill="#7AA026"/>
<circle cx="741.4" cy="563.4" r="1.5" fill="#7AA026"/>
<circle cx="743.0" cy="567.9" r="1.5" fill="#7AA026"/>
<circle cx="742.6" cy="567.5" r="1.5" fill="#7AA026"/>
<circle cx="742.3" cy="568.9" r="1.5" fill="#7AA026"/>
<circle cx="742.3" cy="576.7" r="1.5" fill="#7AA026"/>
<circle cx="741.2" cy="582.6" r="1.5" fill="#7AA026"/>
<circle cx="741.9" cy="582.1" r="1.5" fill="#7AA026"/>
<circle cx="730.6" cy="598.2" r="1.5" fill="#7AA026"/>
<circle cx="739.3" cy="592.4" r="1.5" fill="#7AA026"/>
<circle cx="735.0" cy="595.2" r="1.5" fill="#7AA026"/>
<circle cx="729.6" cy="599.3" r="1.5" fill="#7AA026"/>
<circle cx="728.7" cy="599.1" r="1.5" fill="#7AA026"/>
<circle cx="727.5" cy="600.2" r="1.5" fill="#7AA026"/>
<circle cx="715.4" cy="603.4" r="1.5" fill="#7AA026"/>
<circle cx="718.0" cy="603.3" r="1.5" fill="#7AA026"/>
<circle cx="708.9" cy="606.5" r="1.5" fill="#7AA026"/>
<circle cx="708.4" cy="607.0" r="1.5" fill="#7AA026"/>
<circle cx="702.8" cy="608.8" r="1.5" fill="#7AA026"/>
<circle cx="703.2" cy="611.5" r="1.5" fill="#7AA026"/>
<circle cx="698.3" cy="611.6" r="1.5" fill="#7AA026"/>
<circle cx="702.6" cy="611.1" r="1.5" fill="#7AA026"/>
<circle cx="685.8" cy="614.0" r="1.5" fill="#7AA026"/>
<circle cx="678.8" cy="616.4" r="1.5" fill="#7AA026"/>
<circle cx="687.8" cy="615.2" r="1.5" fill="#7AA026"/>
<circle cx="675.3" cy="616.7" r="1.5" fill="#7AA026"/>
<circle cx="672.7" cy="618.9" r="1.5" fill="#7AA026"/>
<circle cx="675.3" cy="618.0" r="1.5" fill="#7AA026"/>
<circle cx="658.9" cy="622.2" r="1.5" fill="#7AA026"/>
<circle cx="655.9" cy="619.5" r="1.5" fill="#7AA026"/>
<circle cx="653.7" cy="616.6" r="1.5" fill="#7AA026"/>
<circle cx="648.6" cy="613.2" r="1.5" fill="#7AA026"/>
<circle cx="648.8" cy="608.9" r="1.5" fill="#7AA026"/>
<circle cx="650.8" cy="594.6" r="1.5" fill="#7AA026"/>
<circle cx="648.5" cy="599.0" r="1.5" fill="#7AA026"/>
<circle cx="647.6" cy="599.7" r="1.5" fill="#7AA026"/>
<circle cx="653.6" cy="586.9" r="1.5" fill="#7AA026"/>
<circle cx="656.6" cy="581.6" r="1.5" fill="#7AA026"/>
<circle cx="653.6" cy="588.0" r="1.5" fill="#7AA026"/>
<circle cx="662.0" cy="575.0" r="1.5" fill="#7AA026"/>
<circle cx="659.9" cy="576.2" r="1.5" fill="#7AA026"/>
<circle cx="658.5" cy="579.5" r="1.5" fill="#7AA026"/>
<circle cx="667.4" cy="568.2" r="1.5" fill="#7AA026"/>
<circle cx="668.8" cy="563.1" r="1.5" fill="#7AA026"/>
<circle cx="664.8" cy="567.5" r="1.5" fill="#7AA026"/>
<circle cx="674.9" cy="552.5" r="1.5" fill="#7AA026"/>
<circle cx="676.8" cy="552.6" r="1.5" fill="#7AA026"/>
<circle cx="679.6" cy="550.3" r="1.5" fill="#7AA026"/>
<circle cx="677.7" cy="551.0" r="1.5" fill="#7AA026"/>
<circle cx="685.1" cy="544.5" r="1.5" fill="#7AA026"/>
<circle cx="686.0" cy="544.7" r="1.5" fill="#7AA026"/>
<circle cx="659.9" cy="611.4" r="1.5" fill="#5AB0B7"/>
<circle cx="664.1" cy="602.0" r="1.5" fill="#5AB0B7"/>
<circle cx="657.9" cy="588.0" r="1.5" fill="#5AB0B7"/>
<circle cx="662.4" cy="602.4" r="1.5" fill="#5AB0B7"/>
<circle cx="657.2" cy="611.1" r="1.5" fill="#5AB0B7"/>
<circle cx="672.8" cy="605.8" r="1.5" fill="#5AB0B7"/>
<circle cx="660.2" cy="593.7" r="1.5" fill="#5AB0B7"/>
<circle cx="677.4" cy="590.0" r="1.5" fill="#5AB0B7"/>
<circle cx="653.4" cy="604.9" r="1.5" fill="#5AB0B7"/>
<circle cx="665.7" cy="607.1" r="1.5" fill="#5AB0B7"/>
<circle cx="667.0" cy="615.0" r="1.5" fill="#5AB0B7"/>
<circle cx="677.7" cy="606.8" r="1.5" fill="#5AB0B7"/>
<circle cx="683.2" cy="602.0" r="1.5" fill="#5AB0B7"/>
<circle cx="677.9" cy="593.4" r="1.5" fill="#5AB0B7"/>
<circle cx="670.5" cy="614.9" r="1.5" fill="#5AB0B7"/>
<circle cx="655.1" cy="607.8" r="1.5" fill="#5AB0B7"/>
<circle cx="675.5" cy="598.4" r="1.5" fill="#5AB0B7"/>
<circle cx="664.3" cy="592.7" r="1.5" fill="#5AB0B7"/>
<circle cx="658.1" cy="588.4" r="1.5" fill="#5AB0B7"/>
<circle cx="655.5" cy="605.4" r="1.5" fill="#5AB0B7"/>
<circle cx="676.8" cy="585.2" r="1.5" fill="#5AB0B7"/>
<circle cx="659.7" cy="597.2" r="1.5" fill="#5AB0B7"/>
<circle cx="667.8" cy="615.2" r="1.5" fill="#5AB0B7"/>
<circle cx="664.1" cy="587.9" r="1.5" fill="#5AB0B7"/>
<circle cx="672.5" cy="589.3" r="1.5" fill="#5AB0B7"/>
<circle cx="682.6" cy="598.6" r="1.5" fill="#5AB0B7"/>
<circle cx="676.7" cy="600.7" r="1.5" fill="#5AB0B7"/>
<circle cx="668.4" cy="607.9" r="1.5" fill="#5AB0B7"/>
<circle cx="661.6" cy="590.5" r="1.5" fill="#5AB0B7"/>
<circle cx="661.2" cy="583.5" r="1.5" fill="#5AB0B7"/>
<circle cx="648.0" cy="572.2" r="1.5" fill="#7AA026"/>
<circle cx="654.3" cy="592.4" r="1.5" fill="#7AA026"/>
<circle cx="644.1" cy="587.4" r="1.5" fill="#7AA026"/>
<circle cx="651.3" cy="589.7" r="1.5" fill="#7AA026"/>
<circle cx="659.9" cy="586.4" r="1.5" fill="#7AA026"/>
<circle cx="650.0" cy="579.2" r="1.5" fill="#7AA026"/>
<circle cx="648.0" cy="565.6" r="1.5" fill="#7AA026"/>
<circle cx="647.0" cy="582.4" r="1.5" fill="#7AA026"/>
<circle cx="643.4" cy="585.9" r="1.5" fill="#7AA026"/>
<circle cx="652.7" cy="598.7" r="1.5" fill="#7AA026"/>
<circle cx="659.6" cy="586.0" r="1.5" fill="#7AA026"/>
<circle cx="645.1" cy="572.5" r="1.5" fill="#7AA026"/>
<circle cx="657.4" cy="578.6" r="1.5" fill="#7AA026"/>
<circle cx="650.0" cy="594.9" r="1.5" fill="#7AA026"/>
<polyline points="668.0,643.0 684.0,651.0 700.0,658.0 716.0,666.0 732.0,672.0 748.0,679.0 764.0,685.0 782.0,689.0 792.0,694.0" fill="none" stroke="#5AB0B7" stroke-width="10" stroke-linecap="round" stroke-linejoin="round"/>
<circle cx="687.3" cy="644.6" r="1.7" fill="#5AB0B7"/>
<circle cx="670.7" cy="644.9" r="1.7" fill="#5AB0B7"/>
<circle cx="708.2" cy="651.0" r="1.7" fill="#5AB0B7"/>
<circle cx="693.0" cy="647.4" r="1.7" fill="#5AB0B7"/>
<circle cx="787.2" cy="682.8" r="1.7" fill="#5AB0B7"/>
<circle cx="687.7" cy="653.7" r="1.7" fill="#5AB0B7"/>
<circle cx="762.7" cy="674.1" r="1.7" fill="#5AB0B7"/>
<circle cx="706.2" cy="664.1" r="1.7" fill="#5AB0B7"/>
<circle cx="703.4" cy="667.9" r="1.7" fill="#5AB0B7"/>
<circle cx="714.8" cy="659.5" r="1.7" fill="#5AB0B7"/>
<circle cx="771.5" cy="684.2" r="1.7" fill="#5AB0B7"/>
<circle cx="694.8" cy="661.3" r="1.7" fill="#5AB0B7"/>
<circle cx="744.6" cy="678.3" r="1.7" fill="#5AB0B7"/>
<circle cx="770.3" cy="682.4" r="1.7" fill="#5AB0B7"/>
<circle cx="790.8" cy="681.6" r="1.7" fill="#5AB0B7"/>
<circle cx="729.6" cy="667.1" r="1.7" fill="#5AB0B7"/>
<circle cx="704.5" cy="659.3" r="1.7" fill="#5AB0B7"/>
<circle cx="736.9" cy="680.1" r="1.7" fill="#5AB0B7"/>
<circle cx="686.4" cy="654.9" r="1.7" fill="#5AB0B7"/>
<circle cx="721.4" cy="669.2" r="1.7" fill="#5AB0B7"/>
<circle cx="673.0" cy="644.1" r="1.7" fill="#5AB0B7"/>
<circle cx="720.7" cy="669.8" r="1.7" fill="#5AB0B7"/>
<circle cx="665.1" cy="648.6" r="1.7" fill="#5AB0B7"/>
<circle cx="771.3" cy="690.9" r="1.7" fill="#5AB0B7"/>
<circle cx="722.3" cy="660.2" r="1.7" fill="#5AB0B7"/>
<circle cx="703.9" cy="655.6" r="1.7" fill="#5AB0B7"/>
<circle cx="721.1" cy="661.7" r="1.7" fill="#5AB0B7"/>
<circle cx="712.2" cy="655.7" r="1.7" fill="#5AB0B7"/>
<circle cx="769.9" cy="688.0" r="1.7" fill="#5AB0B7"/>
<circle cx="780.3" cy="689.7" r="1.7" fill="#5AB0B7"/>
<circle cx="720.9" cy="670.5" r="1.7" fill="#5AB0B7"/>
<circle cx="738.0" cy="671.6" r="1.7" fill="#5AB0B7"/>
<circle cx="677.1" cy="649.4" r="1.7" fill="#5AB0B7"/>
<circle cx="713.0" cy="649.6" r="1.7" fill="#5AB0B7"/>
<circle cx="780.7" cy="690.9" r="1.7" fill="#5AB0B7"/>
<circle cx="773.0" cy="698.4" r="1.7" fill="#5AB0B7"/>
<circle cx="745.0" cy="674.5" r="1.7" fill="#5AB0B7"/>
<circle cx="767.0" cy="691.5" r="1.7" fill="#5AB0B7"/>
<circle cx="741.8" cy="678.2" r="1.7" fill="#5AB0B7"/>
<circle cx="709.0" cy="649.6" r="1.7" fill="#5AB0B7"/>
<circle cx="728.7" cy="664.3" r="1.7" fill="#5AB0B7"/>
<circle cx="748.2" cy="676.6" r="1.7" fill="#5AB0B7"/>
<circle cx="777.3" cy="691.3" r="1.7" fill="#5AB0B7"/>
<circle cx="670.1" cy="646.1" r="1.7" fill="#5AB0B7"/>
<circle cx="720.3" cy="673.8" r="1.7" fill="#5AB0B7"/>
<circle cx="679.4" cy="644.9" r="1.7" fill="#5AB0B7"/>
<circle cx="741.0" cy="670.6" r="1.7" fill="#5AB0B7"/>
<circle cx="720.9" cy="660.3" r="1.7" fill="#5AB0B7"/>
<circle cx="716.6" cy="664.0" r="1.7" fill="#5AB0B7"/>
<circle cx="679.9" cy="652.7" r="1.7" fill="#5AB0B7"/>
<circle cx="731.7" cy="680.8" r="1.7" fill="#5AB0B7"/>
<circle cx="680.5" cy="650.9" r="1.7" fill="#5AB0B7"/>
<circle cx="680.7" cy="645.2" r="1.7" fill="#5AB0B7"/>
<circle cx="733.2" cy="671.5" r="1.7" fill="#5AB0B7"/>
<circle cx="733.9" cy="677.9" r="1.7" fill="#5AB0B7"/>
<circle cx="696.5" cy="653.2" r="1.7" fill="#5AB0B7"/>
<circle cx="731.4" cy="669.7" r="1.7" fill="#5AB0B7"/>
<circle cx="738.6" cy="678.6" r="1.7" fill="#5AB0B7"/>
<circle cx="675.8" cy="648.6" r="1.7" fill="#5AB0B7"/>
<circle cx="720.3" cy="670.9" r="1.7" fill="#5AB0B7"/>
<circle cx="757.7" cy="676.7" r="1.7" fill="#5AB0B7"/>
<circle cx="757.6" cy="693.4" r="1.7" fill="#5AB0B7"/>
<circle cx="753.6" cy="690.4" r="1.7" fill="#5AB0B7"/>
<circle cx="679.3" cy="650.2" r="1.7" fill="#5AB0B7"/>
<circle cx="690.5" cy="648.3" r="1.7" fill="#5AB0B7"/>
<circle cx="791.3" cy="684.7" r="1.7" fill="#5AB0B7"/>
<circle cx="685.8" cy="647.3" r="1.7" fill="#5AB0B7"/>
<circle cx="762.7" cy="687.1" r="1.7" fill="#5AB0B7"/>
<circle cx="712.8" cy="664.8" r="1.7" fill="#5AB0B7"/>
<circle cx="671.1" cy="640.5" r="1.7" fill="#5AB0B7"/>
<circle cx="705.4" cy="657.6" r="1.7" fill="#5AB0B7"/>
<circle cx="758.4" cy="672.3" r="1.7" fill="#5AB0B7"/>
<circle cx="742.6" cy="680.6" r="1.7" fill="#5AB0B7"/>
<circle cx="778.7" cy="677.1" r="1.7" fill="#5AB0B7"/>
<circle cx="777.3" cy="682.7" r="1.7" fill="#5AB0B7"/>
<circle cx="688.4" cy="651.8" r="1.7" fill="#5AB0B7"/>
<circle cx="763.8" cy="679.3" r="1.7" fill="#5AB0B7"/>
<circle cx="751.4" cy="680.5" r="1.7" fill="#5AB0B7"/>
<circle cx="714.4" cy="661.8" r="1.7" fill="#5AB0B7"/>
<circle cx="756.4" cy="688.9" r="1.7" fill="#5AB0B7"/>
<circle cx="674.4" cy="642.4" r="1.7" fill="#5AB0B7"/>
<circle cx="740.3" cy="680.0" r="1.7" fill="#5AB0B7"/>
<circle cx="766.7" cy="688.2" r="1.7" fill="#5AB0B7"/>
<circle cx="678.8" cy="654.6" r="1.7" fill="#5AB0B7"/>
<circle cx="700.4" cy="653.6" r="1.7" fill="#5AB0B7"/>
<circle cx="695.0" cy="645.4" r="1.7" fill="#5AB0B7"/>
<circle cx="738.3" cy="677.0" r="1.7" fill="#5AB0B7"/>
<circle cx="680.7" cy="650.9" r="1.7" fill="#5AB0B7"/>
<circle cx="767.1" cy="685.0" r="1.7" fill="#5AB0B7"/>
<circle cx="692.0" cy="649.4" r="1.7" fill="#5AB0B7"/>
<circle cx="753.1" cy="678.5" r="1.7" fill="#5AB0B7"/>
<circle cx="711.7" cy="669.6" r="1.7" fill="#5AB0B7"/>
<circle cx="731.1" cy="679.0" r="1.7" fill="#5AB0B7"/>
<circle cx="751.5" cy="683.8" r="1.7" fill="#5AB0B7"/>
<circle cx="674.6" cy="633.1" r="1.7" fill="#5AB0B7"/>
<circle cx="708.2" cy="664.8" r="1.7" fill="#5AB0B7"/>
<circle cx="775.7" cy="691.3" r="1.7" fill="#5AB0B7"/>
<circle cx="766.4" cy="687.6" r="1.7" fill="#5AB0B7"/>
<circle cx="769.3" cy="685.9" r="1.7" fill="#5AB0B7"/>
<circle cx="753.2" cy="675.4" r="1.7" fill="#5AB0B7"/>
<circle cx="685.8" cy="654.5" r="1.7" fill="#5AB0B7"/>
<circle cx="774.6" cy="678.5" r="1.7" fill="#5AB0B7"/>
<circle cx="740.7" cy="681.4" r="1.7" fill="#5AB0B7"/>
<circle cx="677.9" cy="645.1" r="1.7" fill="#5AB0B7"/>
<circle cx="778.8" cy="690.3" r="1.7" fill="#5AB0B7"/>
<circle cx="739.3" cy="677.3" r="1.7" fill="#5AB0B7"/>
<circle cx="711.6" cy="663.7" r="1.7" fill="#5AB0B7"/>
<circle cx="726.7" cy="664.5" r="1.7" fill="#5AB0B7"/>
<circle cx="712.1" cy="660.6" r="1.7" fill="#5AB0B7"/>
<circle cx="670.4" cy="639.0" r="1.7" fill="#5AB0B7"/>
<circle cx="671.4" cy="641.4" r="1.7" fill="#5AB0B7"/>
<circle cx="723.7" cy="669.4" r="1.7" fill="#5AB0B7"/>
<circle cx="685.7" cy="650.6" r="1.7" fill="#5AB0B7"/>
<circle cx="750.8" cy="678.5" r="1.7" fill="#5AB0B7"/>
<circle cx="728.0" cy="673.6" r="1.7" fill="#5AB0B7"/>
<circle cx="702.4" cy="652.2" r="1.7" fill="#5AB0B7"/>
<circle cx="788.3" cy="688.9" r="1.7" fill="#5AB0B7"/>
<circle cx="788.0" cy="698.6" r="1.7" fill="#5AB0B7"/>
<circle cx="762.8" cy="684.9" r="1.7" fill="#5AB0B7"/>
<circle cx="776.3" cy="687.8" r="1.7" fill="#5AB0B7"/>
<circle cx="748.7" cy="671.0" r="1.7" fill="#5AB0B7"/>
<circle cx="712.9" cy="661.6" r="1.7" fill="#5AB0B7"/>
<circle cx="774.8" cy="695.0" r="1.7" fill="#5AB0B7"/>
<circle cx="785.8" cy="688.3" r="1.7" fill="#5AB0B7"/>
<circle cx="763.6" cy="679.9" r="1.7" fill="#5AB0B7"/>
<circle cx="761.7" cy="675.9" r="1.7" fill="#5AB0B7"/>
<circle cx="710.9" cy="662.0" r="1.7" fill="#5AB0B7"/>
<circle cx="736.2" cy="671.3" r="1.7" fill="#5AB0B7"/>
<circle cx="708.7" cy="662.4" r="1.7" fill="#5AB0B7"/>
<circle cx="704.9" cy="665.6" r="1.7" fill="#5AB0B7"/>
<circle cx="712.9" cy="663.0" r="1.7" fill="#5AB0B7"/>
<circle cx="697.5" cy="656.4" r="1.7" fill="#5AB0B7"/>
<circle cx="682.6" cy="654.2" r="1.7" fill="#5AB0B7"/>
<circle cx="667.2" cy="645.7" r="1.7" fill="#5AB0B7"/>
<circle cx="723.8" cy="663.8" r="1.7" fill="#5AB0B7"/>
<circle cx="738.3" cy="672.7" r="1.7" fill="#5AB0B7"/>
<circle cx="674.8" cy="648.5" r="1.7" fill="#5AB0B7"/>
<circle cx="706.0" cy="656.9" r="1.7" fill="#5AB0B7"/>
<circle cx="732.8" cy="679.2" r="1.7" fill="#5AB0B7"/>
<circle cx="787.8" cy="684.7" r="1.7" fill="#5AB0B7"/>
<circle cx="736.1" cy="682.7" r="1.7" fill="#5AB0B7"/>
<circle cx="676.4" cy="649.3" r="1.7" fill="#5AB0B7"/>
<circle cx="787.6" cy="698.0" r="1.7" fill="#5AB0B7"/>
<circle cx="711.1" cy="663.4" r="1.7" fill="#5AB0B7"/>
<circle cx="777.1" cy="681.8" r="1.7" fill="#5AB0B7"/>
<circle cx="680.8" cy="636.9" r="1.7" fill="#5AB0B7"/>
<circle cx="701.2" cy="658.7" r="1.7" fill="#5AB0B7"/>
<circle cx="698.3" cy="659.4" r="1.7" fill="#5AB0B7"/>
<circle cx="700.6" cy="657.7" r="1.7" fill="#5AB0B7"/>
<circle cx="754.5" cy="681.5" r="1.7" fill="#5AB0B7"/>
<circle cx="690.5" cy="658.0" r="1.7" fill="#5AB0B7"/>
<circle cx="740.3" cy="679.6" r="1.7" fill="#5AB0B7"/>
<circle cx="694.0" cy="648.7" r="1.7" fill="#5AB0B7"/>
<circle cx="756.3" cy="687.9" r="1.7" fill="#5AB0B7"/>
<circle cx="678.2" cy="645.5" r="1.7" fill="#5AB0B7"/>
<circle cx="767.6" cy="688.0" r="1.7" fill="#5AB0B7"/>
<circle cx="685.8" cy="647.4" r="1.7" fill="#5AB0B7"/>
<circle cx="694.7" cy="644.3" r="1.7" fill="#5AB0B7"/>
<circle cx="747.6" cy="675.4" r="1.7" fill="#5AB0B7"/>
<circle cx="782.6" cy="689.5" r="1.7" fill="#5AB0B7"/>
<circle cx="759.0" cy="686.6" r="1.7" fill="#5AB0B7"/>
<circle cx="750.2" cy="672.4" r="1.7" fill="#5AB0B7"/>
<circle cx="707.3" cy="665.2" r="1.7" fill="#5AB0B7"/>
<circle cx="675.5" cy="644.3" r="1.7" fill="#5AB0B7"/>
<circle cx="744.7" cy="677.4" r="1.7" fill="#5AB0B7"/>
<circle cx="711.7" cy="655.6" r="1.7" fill="#5AB0B7"/>
<circle cx="699.3" cy="656.9" r="1.7" fill="#5AB0B7"/>
<circle cx="720.9" cy="678.5" r="1.7" fill="#5AB0B7"/>
<circle cx="737.0" cy="674.2" r="1.7" fill="#5AB0B7"/>
<circle cx="787.4" cy="698.5" r="1.7" fill="#5AB0B7"/>
<circle cx="756.5" cy="683.6" r="1.7" fill="#5AB0B7"/>
<circle cx="707.1" cy="663.1" r="1.7" fill="#5AB0B7"/>
<circle cx="684.6" cy="652.0" r="1.7" fill="#5AB0B7"/>
<circle cx="760.1" cy="690.5" r="1.7" fill="#5AB0B7"/>
<circle cx="718.0" cy="670.8" r="1.7" fill="#5AB0B7"/>
<circle cx="736.3" cy="667.2" r="1.7" fill="#5AB0B7"/>
<circle cx="750.0" cy="675.3" r="1.7" fill="#5AB0B7"/>
<circle cx="743.5" cy="671.8" r="1.7" fill="#5AB0B7"/>
<circle cx="696.7" cy="663.1" r="1.7" fill="#5AB0B7"/>
<circle cx="755.5" cy="681.5" r="1.7" fill="#5AB0B7"/>
<circle cx="709.4" cy="652.5" r="1.7" fill="#5AB0B7"/>
<circle cx="761.6" cy="688.7" r="1.7" fill="#5AB0B7"/>
<circle cx="702.3" cy="657.3" r="1.7" fill="#5AB0B7"/>
<circle cx="731.3" cy="673.3" r="1.7" fill="#5AB0B7"/>
<circle cx="669.5" cy="641.7" r="1.7" fill="#5AB0B7"/>
<circle cx="727.9" cy="664.5" r="1.7" fill="#5AB0B7"/>
<circle cx="715.2" cy="656.9" r="1.7" fill="#5AB0B7"/>
<circle cx="790.2" cy="694.2" r="1.7" fill="#5AB0B7"/>
<circle cx="675.3" cy="654.6" r="1.7" fill="#5AB0B7"/>
<circle cx="670.9" cy="644.7" r="1.7" fill="#5AB0B7"/>
<circle cx="729.1" cy="671.3" r="1.7" fill="#5AB0B7"/>
<circle cx="734.3" cy="677.2" r="1.7" fill="#5AB0B7"/>
<circle cx="707.9" cy="672.5" r="1.7" fill="#5AB0B7"/>
<circle cx="684.7" cy="654.1" r="1.7" fill="#5AB0B7"/>
<circle cx="779.3" cy="694.6" r="1.7" fill="#5AB0B7"/>
<circle cx="684.4" cy="659.1" r="1.7" fill="#5AB0B7"/>
<circle cx="697.0" cy="657.3" r="1.7" fill="#5AB0B7"/>
<circle cx="793.5" cy="686.9" r="1.7" fill="#5AB0B7"/>
<circle cx="709.9" cy="662.0" r="1.7" fill="#5AB0B7"/>
<circle cx="768.0" cy="680.7" r="1.7" fill="#5AB0B7"/>
<circle cx="780.4" cy="688.7" r="1.7" fill="#5AB0B7"/>
<circle cx="681.1" cy="648.3" r="1.7" fill="#5AB0B7"/>
<circle cx="748.1" cy="676.1" r="1.7" fill="#5AB0B7"/>
<circle cx="716.5" cy="666.4" r="1.7" fill="#5AB0B7"/>
<circle cx="737.8" cy="672.2" r="1.7" fill="#5AB0B7"/>
<circle cx="714.4" cy="675.2" r="1.7" fill="#5AB0B7"/>
<circle cx="747.4" cy="671.6" r="1.7" fill="#5AB0B7"/>
<circle cx="695.3" cy="654.9" r="1.7" fill="#5AB0B7"/>
<circle cx="719.7" cy="670.4" r="1.7" fill="#5AB0B7"/>
<circle cx="695.3" cy="657.5" r="1.7" fill="#5AB0B7"/>
<circle cx="743.9" cy="684.7" r="1.7" fill="#5AB0B7"/>
<circle cx="702.9" cy="662.2" r="1.7" fill="#5AB0B7"/>
<circle cx="738.0" cy="673.5" r="1.7" fill="#5AB0B7"/>
<circle cx="684.5" cy="657.1" r="1.7" fill="#5AB0B7"/>
<circle cx="703.9" cy="650.8" r="1.7" fill="#5AB0B7"/>
<circle cx="760.2" cy="684.4" r="1.7" fill="#5AB0B7"/>
<circle cx="710.0" cy="658.1" r="1.7" fill="#5AB0B7"/>
<circle cx="726.7" cy="671.4" r="1.7" fill="#5AB0B7"/>
<circle cx="752.7" cy="677.8" r="1.7" fill="#5AB0B7"/>
<circle cx="743.9" cy="669.6" r="1.7" fill="#5AB0B7"/>
<circle cx="777.6" cy="688.9" r="1.7" fill="#5AB0B7"/>
<circle cx="692.2" cy="657.3" r="1.7" fill="#5AB0B7"/>
<circle cx="765.0" cy="681.1" r="1.7" fill="#5AB0B7"/>
<circle cx="774.5" cy="690.4" r="1.7" fill="#5AB0B7"/>
<circle cx="786.9" cy="701.1" r="1.7" fill="#5AB0B7"/>
<circle cx="703.3" cy="661.2" r="1.7" fill="#5AB0B7"/>
<circle cx="788.8" cy="692.5" r="1.7" fill="#5AB0B7"/>
<circle cx="668.1" cy="644.7" r="1.7" fill="#5AB0B7"/>
<circle cx="759.3" cy="680.7" r="1.7" fill="#5AB0B7"/>
<circle cx="678.2" cy="651.1" r="1.7" fill="#5AB0B7"/>
<circle cx="676.1" cy="653.1" r="1.7" fill="#5AB0B7"/>
<circle cx="706.4" cy="667.6" r="1.7" fill="#5AB0B7"/>
<circle cx="778.6" cy="683.4" r="1.7" fill="#5AB0B7"/>
<circle cx="787.9" cy="695.5" r="1.7" fill="#5AB0B7"/>
<circle cx="765.8" cy="685.1" r="1.7" fill="#5AB0B7"/>
<circle cx="751.0" cy="685.0" r="1.7" fill="#5AB0B7"/>
<circle cx="695.7" cy="656.6" r="1.7" fill="#5AB0B7"/>
<circle cx="720.3" cy="667.4" r="1.7" fill="#5AB0B7"/>
<circle cx="790.6" cy="693.9" r="1.7" fill="#5AB0B7"/>
<circle cx="705.8" cy="661.9" r="1.7" fill="#5AB0B7"/>
<circle cx="728.3" cy="667.8" r="1.7" fill="#5AB0B7"/>
<circle cx="685.5" cy="647.7" r="1.7" fill="#5AB0B7"/>
<circle cx="752.0" cy="680.9" r="1.7" fill="#5AB0B7"/>
<circle cx="686.1" cy="650.5" r="1.7" fill="#5AB0B7"/>
<circle cx="684.1" cy="643.7" r="1.7" fill="#5AB0B7"/>
<circle cx="715.9" cy="652.9" r="1.7" fill="#5AB0B7"/>
<circle cx="710.5" cy="662.5" r="1.7" fill="#5AB0B7"/>
<circle cx="690.3" cy="663.4" r="1.7" fill="#5AB0B7"/>
<circle cx="758.9" cy="680.0" r="1.7" fill="#5AB0B7"/>
<circle cx="700.6" cy="659.2" r="1.7" fill="#5AB0B7"/>
<circle cx="674.8" cy="649.2" r="1.7" fill="#5AB0B7"/>
<circle cx="675.4" cy="640.2" r="1.7" fill="#5AB0B7"/>
<circle cx="736.5" cy="672.7" r="1.7" fill="#5AB0B7"/>
<circle cx="708.9" cy="669.6" r="1.7" fill="#5AB0B7"/>
<circle cx="748.2" cy="678.6" r="1.7" fill="#5AB0B7"/>
<circle cx="737.6" cy="665.8" r="1.7" fill="#5AB0B7"/>
<circle cx="791.1" cy="690.9" r="1.7" fill="#5AB0B7"/>
<circle cx="777.0" cy="685.9" r="1.7" fill="#5AB0B7"/>
<circle cx="708.9" cy="656.2" r="1.7" fill="#5AB0B7"/>
<circle cx="717.5" cy="670.6" r="1.7" fill="#5AB0B7"/>
<polyline points="668.0,642.0 684.0,650.0 700.0,657.0 712.0,664.0" fill="none" stroke="#D646BE" stroke-width="6" stroke-linecap="round" stroke-linejoin="round"/>
<circle cx="684.4" cy="648.6" r="1.7" fill="#D646BE"/>
<circle cx="682.5" cy="656.1" r="1.7" fill="#D646BE"/>
<circle cx="662.6" cy="649.3" r="1.7" fill="#D646BE"/>
<circle cx="693.8" cy="655.7" r="1.7" fill="#D646BE"/>
<circle cx="695.3" cy="652.7" r="1.7" fill="#D646BE"/>
<circle cx="683.7" cy="649.0" r="1.7" fill="#D646BE"/>
<circle cx="670.6" cy="645.4" r="1.7" fill="#D646BE"/>
<circle cx="704.4" cy="660.7" r="1.7" fill="#D646BE"/>
<circle cx="671.1" cy="635.8" r="1.7" fill="#D646BE"/>
<circle cx="699.6" cy="653.6" r="1.7" fill="#D646BE"/>
<circle cx="690.2" cy="656.2" r="1.7" fill="#D646BE"/>
<circle cx="680.8" cy="647.7" r="1.7" fill="#D646BE"/>
<circle cx="701.1" cy="656.7" r="1.7" fill="#D646BE"/>
<circle cx="708.1" cy="656.2" r="1.7" fill="#D646BE"/>
<circle cx="711.9" cy="663.6" r="1.7" fill="#D646BE"/>
<circle cx="678.5" cy="642.6" r="1.7" fill="#D646BE"/>
<circle cx="685.4" cy="645.4" r="1.7" fill="#D646BE"/>
<circle cx="700.8" cy="653.0" r="1.7" fill="#D646BE"/>
<circle cx="693.9" cy="656.0" r="1.7" fill="#D646BE"/>
<circle cx="698.7" cy="653.3" r="1.7" fill="#D646BE"/>
<circle cx="690.0" cy="656.0" r="1.7" fill="#D646BE"/>
<circle cx="677.3" cy="643.9" r="1.7" fill="#D646BE"/>
<circle cx="709.0" cy="660.0" r="1.7" fill="#D646BE"/>
<circle cx="688.6" cy="650.3" r="1.7" fill="#D646BE"/>
<circle cx="690.0" cy="647.5" r="1.7" fill="#D646BE"/>
<circle cx="674.6" cy="649.8" r="1.7" fill="#D646BE"/>
<circle cx="688.7" cy="657.3" r="1.7" fill="#D646BE"/>
<circle cx="693.0" cy="646.6" r="1.7" fill="#D646BE"/>
<circle cx="677.7" cy="645.1" r="1.7" fill="#D646BE"/>
<circle cx="673.5" cy="646.0" r="1.7" fill="#D646BE"/>
<circle cx="697.5" cy="651.4" r="1.7" fill="#D646BE"/>
<circle cx="701.8" cy="663.3" r="1.7" fill="#D646BE"/>
<circle cx="669.7" cy="638.3" r="1.7" fill="#D646BE"/>
<circle cx="682.8" cy="651.6" r="1.7" fill="#D646BE"/>
<circle cx="673.9" cy="638.9" r="1.7" fill="#D646BE"/>
<circle cx="673.3" cy="644.2" r="1.7" fill="#D646BE"/>
<circle cx="682.2" cy="649.8" r="1.7" fill="#D646BE"/>
<circle cx="705.5" cy="655.5" r="1.7" fill="#D646BE"/>
<circle cx="670.3" cy="642.4" r="1.7" fill="#D646BE"/>
<circle cx="682.7" cy="653.8" r="1.7" fill="#D646BE"/>
<circle cx="687.2" cy="650.3" r="1.7" fill="#D646BE"/>
<circle cx="687.9" cy="652.5" r="1.7" fill="#D646BE"/>
<circle cx="675.2" cy="639.4" r="1.7" fill="#D646BE"/>
<circle cx="699.1" cy="652.8" r="1.7" fill="#D646BE"/>
<circle cx="676.0" cy="648.6" r="1.7" fill="#D646BE"/>
<circle cx="684.2" cy="647.2" r="1.7" fill="#D646BE"/>
<circle cx="665.8" cy="643.8" r="1.7" fill="#D646BE"/>
<circle cx="675.9" cy="644.3" r="1.7" fill="#D646BE"/>
<circle cx="674.6" cy="644.3" r="1.7" fill="#D646BE"/>
<circle cx="700.1" cy="655.6" r="1.7" fill="#D646BE"/>
<circle cx="676.3" cy="648.6" r="1.7" fill="#D646BE"/>
<circle cx="702.8" cy="662.4" r="1.7" fill="#D646BE"/>
<circle cx="704.6" cy="662.0" r="1.7" fill="#D646BE"/>
<circle cx="677.5" cy="640.6" r="1.7" fill="#D646BE"/>
<circle cx="694.1" cy="656.3" r="1.7" fill="#D646BE"/>
<circle cx="682.2" cy="651.8" r="1.7" fill="#D646BE"/>
<circle cx="682.9" cy="649.6" r="1.7" fill="#D646BE"/>
<circle cx="700.0" cy="655.0" r="1.7" fill="#D646BE"/>
<circle cx="695.3" cy="657.4" r="1.7" fill="#D646BE"/>
<circle cx="704.9" cy="657.0" r="1.7" fill="#D646BE"/>
<circle cx="692.3" cy="655.4" r="1.7" fill="#D646BE"/>
<circle cx="707.1" cy="664.4" r="1.7" fill="#D646BE"/>
<circle cx="696.4" cy="663.1" r="1.7" fill="#D646BE"/>
<circle cx="684.1" cy="647.5" r="1.7" fill="#D646BE"/>
<circle cx="670.3" cy="640.2" r="1.7" fill="#D646BE"/>
<circle cx="703.1" cy="654.7" r="1.7" fill="#D646BE"/>
<circle cx="688.3" cy="653.8" r="1.7" fill="#D646BE"/>
<circle cx="707.7" cy="661.2" r="1.7" fill="#D646BE"/>
<circle cx="694.3" cy="652.7" r="1.7" fill="#D646BE"/>
<circle cx="690.2" cy="645.2" r="1.7" fill="#D646BE"/>
<circle cx="685.0" cy="651.0" r="1.7" fill="#D646BE"/>
<circle cx="687.3" cy="653.3" r="1.7" fill="#D646BE"/>
<circle cx="690.0" cy="649.3" r="1.7" fill="#D646BE"/>
<circle cx="689.3" cy="653.7" r="1.7" fill="#D646BE"/>
<circle cx="703.2" cy="653.0" r="1.7" fill="#D646BE"/>
<circle cx="683.1" cy="653.7" r="1.7" fill="#D646BE"/>
<circle cx="691.6" cy="653.7" r="1.7" fill="#D646BE"/>
<circle cx="702.0" cy="657.6" r="1.7" fill="#D646BE"/>
<circle cx="677.1" cy="644.2" r="1.7" fill="#D646BE"/>
<circle cx="669.4" cy="643.2" r="1.7" fill="#D646BE"/>
<circle cx="670.7" cy="641.6" r="1.7" fill="#D646BE"/>
<circle cx="702.0" cy="656.1" r="1.7" fill="#D646BE"/>
<circle cx="698.3" cy="654.8" r="1.7" fill="#D646BE"/>
<circle cx="700.0" cy="654.8" r="1.7" fill="#D646BE"/>
<circle cx="698.6" cy="655.5" r="1.7" fill="#D646BE"/>
<circle cx="689.6" cy="640.8" r="1.7" fill="#D646BE"/>
<circle cx="707.3" cy="654.0" r="1.7" fill="#D646BE"/>
<circle cx="705.5" cy="661.8" r="1.7" fill="#D646BE"/>
<circle cx="689.5" cy="653.9" r="1.7" fill="#D646BE"/>
<circle cx="665.2" cy="643.5" r="1.7" fill="#D646BE"/>
<circle cx="678.4" cy="646.3" r="1.7" fill="#D646BE"/>
<circle cx="680.8" cy="647.4" r="1.7" fill="#D646BE"/>
<circle cx="689.7" cy="658.4" r="1.7" fill="#D646BE"/>
<circle cx="690.5" cy="650.8" r="1.7" fill="#D646BE"/>
<circle cx="680.2" cy="647.8" r="1.7" fill="#D646BE"/>
<circle cx="705.2" cy="661.9" r="1.7" fill="#D646BE"/>
<circle cx="680.5" cy="640.9" r="1.7" fill="#D646BE"/>
<circle cx="674.0" cy="648.7" r="1.7" fill="#D646BE"/>
<circle cx="683.1" cy="650.0" r="1.7" fill="#D646BE"/>
<circle cx="689.6" cy="646.8" r="1.7" fill="#D646BE"/>
<circle cx="683.1" cy="648.9" r="1.7" fill="#D646BE"/>
<circle cx="702.3" cy="660.2" r="1.7" fill="#D646BE"/>
<circle cx="689.5" cy="658.9" r="1.7" fill="#D646BE"/>
<circle cx="669.0" cy="640.7" r="1.7" fill="#D646BE"/>
<circle cx="683.8" cy="652.9" r="1.7" fill="#D646BE"/>
<circle cx="693.1" cy="651.7" r="1.7" fill="#D646BE"/>
<circle cx="702.0" cy="660.1" r="1.7" fill="#D646BE"/>
<circle cx="680.3" cy="645.8" r="1.7" fill="#D646BE"/>
<circle cx="696.2" cy="648.2" r="1.7" fill="#D646BE"/>
<circle cx="686.2" cy="653.4" r="1.7" fill="#D646BE"/>
<circle cx="716.2" cy="665.2" r="1.7" fill="#A55FF0"/>
<circle cx="673.3" cy="639.7" r="1.7" fill="#A55FF0"/>
<circle cx="669.7" cy="646.3" r="1.7" fill="#A55FF0"/>
<circle cx="712.4" cy="670.6" r="1.7" fill="#A55FF0"/>
<circle cx="676.9" cy="649.6" r="1.7" fill="#A55FF0"/>
<circle cx="720.8" cy="661.9" r="1.7" fill="#A55FF0"/>
<circle cx="696.5" cy="653.6" r="1.7" fill="#A55FF0"/>
<circle cx="705.2" cy="659.8" r="1.7" fill="#A55FF0"/>
<circle cx="680.8" cy="645.6" r="1.7" fill="#A55FF0"/>
<circle cx="710.8" cy="670.5" r="1.7" fill="#A55FF0"/>
<circle cx="676.4" cy="654.6" r="1.7" fill="#A55FF0"/>
<circle cx="671.2" cy="650.8" r="1.7" fill="#A55FF0"/>
<circle cx="717.6" cy="672.2" r="1.7" fill="#A55FF0"/>
<circle cx="691.6" cy="652.0" r="1.7" fill="#A55FF0"/>
<circle cx="718.1" cy="665.1" r="1.7" fill="#A55FF0"/>
<circle cx="704.7" cy="662.1" r="1.7" fill="#A55FF0"/>
<circle cx="705.0" cy="662.7" r="1.7" fill="#A55FF0"/>
<circle cx="669.6" cy="645.6" r="1.7" fill="#A55FF0"/>
<circle cx="682.0" cy="646.2" r="1.7" fill="#A55FF0"/>
<circle cx="700.6" cy="656.5" r="1.7" fill="#A55FF0"/>
<circle cx="674.5" cy="651.1" r="1.7" fill="#A55FF0"/>
<circle cx="718.8" cy="664.5" r="1.7" fill="#A55FF0"/>
<circle cx="673.5" cy="653.0" r="1.7" fill="#A55FF0"/>
<circle cx="709.4" cy="668.1" r="1.7" fill="#A55FF0"/>
<circle cx="670.0" cy="643.4" r="1.7" fill="#A55FF0"/>
<circle cx="689.6" cy="650.9" r="1.7" fill="#A55FF0"/>
<circle cx="698.8" cy="655.4" r="1.7" fill="#A55FF0"/>
<circle cx="675.8" cy="639.6" r="1.7" fill="#A55FF0"/>
<circle cx="690.9" cy="655.1" r="1.7" fill="#A55FF0"/>
<circle cx="701.9" cy="666.2" r="1.7" fill="#A55FF0"/>
<circle cx="672.7" cy="650.6" r="1.7" fill="#A55FF0"/>
<circle cx="713.6" cy="676.4" r="1.7" fill="#A55FF0"/>
<circle cx="696.8" cy="656.5" r="1.7" fill="#A55FF0"/>
<circle cx="685.6" cy="646.8" r="1.7" fill="#A55FF0"/>
<circle cx="692.4" cy="660.6" r="1.7" fill="#A55FF0"/>
<circle cx="716.5" cy="671.5" r="1.7" fill="#A55FF0"/>
<circle cx="713.5" cy="668.6" r="1.7" fill="#A55FF0"/>
<circle cx="701.2" cy="657.4" r="1.7" fill="#A55FF0"/>
<circle cx="675.9" cy="646.1" r="1.7" fill="#A55FF0"/>
<circle cx="680.4" cy="655.3" r="1.7" fill="#A55FF0"/>
<circle cx="682.5" cy="644.3" r="1.7" fill="#A55FF0"/>
<circle cx="715.6" cy="672.7" r="1.7" fill="#A55FF0"/>
<circle cx="719.7" cy="670.1" r="1.7" fill="#A55FF0"/>
<circle cx="684.7" cy="656.6" r="1.7" fill="#A55FF0"/>
<circle cx="671.6" cy="642.4" r="1.7" fill="#A55FF0"/>
<circle cx="687.5" cy="648.7" r="1.7" fill="#A55FF0"/>
<circle cx="707.7" cy="663.9" r="1.7" fill="#A55FF0"/>
<circle cx="677.5" cy="648.2" r="1.7" fill="#A55FF0"/>
<circle cx="673.2" cy="641.8" r="1.7" fill="#A55FF0"/>
<circle cx="696.3" cy="661.4" r="1.7" fill="#A55FF0"/>
<circle cx="709.3" cy="666.8" r="1.7" fill="#A55FF0"/>
<circle cx="700.8" cy="657.9" r="1.7" fill="#A55FF0"/>
<circle cx="695.8" cy="656.6" r="1.7" fill="#A55FF0"/>
<circle cx="673.9" cy="644.3" r="1.7" fill="#A55FF0"/>
<circle cx="700.2" cy="656.8" r="1.7" fill="#A55FF0"/>
<circle cx="689.1" cy="648.0" r="1.7" fill="#A55FF0"/>
<circle cx="675.3" cy="650.9" r="1.7" fill="#A55FF0"/>
<circle cx="675.9" cy="650.3" r="1.7" fill="#A55FF0"/>
<circle cx="714.1" cy="664.6" r="1.7" fill="#A55FF0"/>
<circle cx="716.2" cy="664.6" r="1.7" fill="#A55FF0"/>
<circle cx="730.5" cy="661.7" r="1.7" fill="#7AA026"/>
<circle cx="748.1" cy="671.6" r="1.7" fill="#7AA026"/>
<circle cx="741.0" cy="665.6" r="1.7" fill="#7AA026"/>
<circle cx="731.4" cy="660.3" r="1.7" fill="#7AA026"/>
<circle cx="742.0" cy="664.4" r="1.7" fill="#7AA026"/>
<circle cx="741.7" cy="662.8" r="1.7" fill="#7AA026"/>
<circle cx="738.5" cy="664.5" r="1.7" fill="#7AA026"/>
<circle cx="733.1" cy="663.4" r="1.7" fill="#7AA026"/>
<circle cx="748.5" cy="670.8" r="1.7" fill="#7AA026"/>
<circle cx="741.2" cy="664.2" r="1.7" fill="#7AA026"/>
<circle cx="751.0" cy="670.8" r="1.7" fill="#7AA026"/>
<circle cx="740.8" cy="664.6" r="1.7" fill="#7AA026"/>
<circle cx="747.3" cy="664.4" r="1.7" fill="#7AA026"/>
<circle cx="734.1" cy="662.3" r="1.7" fill="#7AA026"/>
<circle cx="735.3" cy="661.1" r="1.7" fill="#7AA026"/>
<circle cx="729.3" cy="659.0" r="1.7" fill="#7AA026"/>
<circle cx="735.4" cy="664.4" r="1.7" fill="#7AA026"/>
<circle cx="748.0" cy="672.3" r="1.7" fill="#7AA026"/>
<circle cx="733.9" cy="663.9" r="1.7" fill="#7AA026"/>
<circle cx="742.9" cy="665.8" r="1.7" fill="#7AA026"/>
<circle cx="730.4" cy="657.7" r="1.7" fill="#7AA026"/>
<circle cx="735.7" cy="657.0" r="1.7" fill="#7AA026"/>
<circle cx="729.9" cy="657.3" r="1.7" fill="#7AA026"/>
<circle cx="744.9" cy="664.3" r="1.7" fill="#7AA026"/>
<circle cx="737.9" cy="658.9" r="1.7" fill="#7AA026"/>
<circle cx="751.3" cy="664.7" r="1.7" fill="#7AA026"/>
<circle cx="728.0" cy="662.3" r="1.7" fill="#7AA026"/>
<circle cx="752.0" cy="669.4" r="1.7" fill="#7AA026"/>
<circle cx="730.1" cy="662.8" r="1.7" fill="#7AA026"/>
<circle cx="734.6" cy="662.0" r="1.7" fill="#7AA026"/>
<circle cx="732.8" cy="658.3" r="1.7" fill="#7AA026"/>
<circle cx="736.9" cy="663.9" r="1.7" fill="#7AA026"/>
<circle cx="733.6" cy="663.5" r="1.7" fill="#7AA026"/>
<circle cx="735.1" cy="670.9" r="1.7" fill="#7AA026"/>
<circle cx="748.4" cy="667.5" r="1.7" fill="#7AA026"/>
<polygon points="762.0,674.0 770.0,670.0 782.0,670.0 790.0,674.0 794.0,682.0 791.0,688.0 780.0,686.0 770.0,684.0 763.0,681.0" fill="#D646BE" stroke="#D646BE" stroke-width="2.6" stroke-linejoin="round" stroke-dasharray="0 3.2" stroke-linecap="round"/>
<circle cx="764.6" cy="669.6" r="1.5" fill="#D646BE"/>
<circle cx="769.2" cy="670.3" r="1.5" fill="#D646BE"/>
<circle cx="779.0" cy="669.3" r="1.5" fill="#D646BE"/>
<circle cx="777.5" cy="669.2" r="1.5" fill="#D646BE"/>
<circle cx="780.1" cy="669.8" r="1.5" fill="#D646BE"/>
<circle cx="788.0" cy="672.3" r="1.5" fill="#D646BE"/>
<circle cx="785.8" cy="669.4" r="1.5" fill="#D646BE"/>
<circle cx="795.9" cy="677.8" r="1.5" fill="#D646BE"/>
<circle cx="794.8" cy="679.1" r="1.5" fill="#D646BE"/>
<circle cx="793.2" cy="688.6" r="1.5" fill="#D646BE"/>
<circle cx="781.0" cy="686.3" r="1.5" fill="#D646BE"/>
<circle cx="781.6" cy="689.4" r="1.5" fill="#D646BE"/>
<circle cx="784.0" cy="689.5" r="1.5" fill="#D646BE"/>
<circle cx="771.9" cy="685.6" r="1.5" fill="#D646BE"/>
<circle cx="771.0" cy="685.5" r="1.5" fill="#D646BE"/>
<circle cx="764.7" cy="686.0" r="1.5" fill="#D646BE"/>
<circle cx="762.1" cy="684.0" r="1.5" fill="#D646BE"/>
<circle cx="759.4" cy="675.9" r="1.5" fill="#D646BE"/>
<circle cx="775.4" cy="681.4" r="1.7" fill="#A55FF0"/>
<circle cx="775.0" cy="679.6" r="1.7" fill="#A55FF0"/>
<circle cx="778.4" cy="681.5" r="1.7" fill="#A55FF0"/>
<circle cx="784.3" cy="684.5" r="1.7" fill="#A55FF0"/>
<circle cx="781.7" cy="681.7" r="1.7" fill="#A55FF0"/>
<circle cx="783.3" cy="680.8" r="1.7" fill="#A55FF0"/>
<circle cx="783.4" cy="680.9" r="1.7" fill="#A55FF0"/>
<circle cx="784.3" cy="679.1" r="1.7" fill="#A55FF0"/>
<circle cx="777.3" cy="683.2" r="1.7" fill="#A55FF0"/>
<circle cx="783.5" cy="683.7" r="1.7" fill="#A55FF0"/>
<circle cx="777.3" cy="678.6" r="1.7" fill="#A55FF0"/>
<circle cx="783.5" cy="680.7" r="1.7" fill="#A55FF0"/>
<circle cx="772.1" cy="679.7" r="1.7" fill="#A55FF0"/>
<circle cx="773.5" cy="680.4" r="1.7" fill="#A55FF0"/>
<circle cx="783.8" cy="680.6" r="1.7" fill="#A55FF0"/>
<polyline points="782.0,690.0 792.0,696.0 795.0,704.0 792.0,714.0 788.0,724.0 786.0,734.0" fill="none" stroke="#5AB0B7" stroke-width="8" stroke-linecap="round" stroke-linejoin="round"/>
<circle cx="792.1" cy="706.1" r="1.7" fill="#5AB0B7"/>
<circle cx="791.5" cy="700.8" r="1.7" fill="#5AB0B7"/>
<circle cx="783.2" cy="728.0" r="1.7" fill="#5AB0B7"/>
<circle cx="791.4" cy="716.3" r="1.7" fill="#5AB0B7"/>
<circle cx="789.0" cy="697.7" r="1.7" fill="#5AB0B7"/>
<circle cx="794.6" cy="722.6" r="1.7" fill="#5AB0B7"/>
<circle cx="785.4" cy="726.2" r="1.7" fill="#5AB0B7"/>
<circle cx="782.9" cy="692.4" r="1.7" fill="#5AB0B7"/>
<circle cx="788.1" cy="728.1" r="1.7" fill="#5AB0B7"/>
<circle cx="786.7" cy="693.1" r="1.7" fill="#5AB0B7"/>
<circle cx="784.0" cy="706.4" r="1.7" fill="#5AB0B7"/>
<circle cx="786.8" cy="699.2" r="1.7" fill="#5AB0B7"/>
<circle cx="789.2" cy="732.9" r="1.7" fill="#5AB0B7"/>
<circle cx="802.8" cy="699.2" r="1.7" fill="#5AB0B7"/>
<circle cx="793.4" cy="709.8" r="1.7" fill="#5AB0B7"/>
<circle cx="781.5" cy="736.5" r="1.7" fill="#5AB0B7"/>
<circle cx="782.2" cy="700.3" r="1.7" fill="#5AB0B7"/>
<circle cx="790.7" cy="710.1" r="1.7" fill="#5AB0B7"/>
<circle cx="784.9" cy="734.8" r="1.7" fill="#5AB0B7"/>
<circle cx="793.6" cy="706.5" r="1.7" fill="#5AB0B7"/>
<circle cx="795.2" cy="700.1" r="1.7" fill="#5AB0B7"/>
<circle cx="784.6" cy="685.5" r="1.7" fill="#5AB0B7"/>
<circle cx="795.7" cy="711.2" r="1.7" fill="#5AB0B7"/>
<circle cx="786.5" cy="706.1" r="1.7" fill="#5AB0B7"/>
<circle cx="793.5" cy="720.0" r="1.7" fill="#5AB0B7"/>
<circle cx="781.4" cy="689.0" r="1.7" fill="#5AB0B7"/>
<circle cx="787.6" cy="736.4" r="1.7" fill="#5AB0B7"/>
<circle cx="795.6" cy="700.5" r="1.7" fill="#5AB0B7"/>
<circle cx="797.6" cy="700.5" r="1.7" fill="#5AB0B7"/>
<circle cx="796.7" cy="712.1" r="1.7" fill="#5AB0B7"/>
<circle cx="800.9" cy="712.3" r="1.7" fill="#5AB0B7"/>
<circle cx="791.8" cy="702.6" r="1.7" fill="#5AB0B7"/>
<circle cx="787.1" cy="728.5" r="1.7" fill="#5AB0B7"/>
<circle cx="793.6" cy="721.1" r="1.7" fill="#5AB0B7"/>
<circle cx="789.9" cy="724.2" r="1.7" fill="#5AB0B7"/>
<circle cx="786.7" cy="732.0" r="1.7" fill="#5AB0B7"/>
<circle cx="780.5" cy="684.8" r="1.7" fill="#5AB0B7"/>
<circle cx="786.2" cy="702.8" r="1.7" fill="#5AB0B7"/>
<circle cx="778.7" cy="729.6" r="1.7" fill="#5AB0B7"/>
<circle cx="785.8" cy="689.3" r="1.7" fill="#5AB0B7"/>
<circle cx="779.7" cy="688.6" r="1.7" fill="#5AB0B7"/>
<circle cx="793.8" cy="703.5" r="1.7" fill="#5AB0B7"/>
<circle cx="795.9" cy="695.0" r="1.7" fill="#5AB0B7"/>
<circle cx="789.4" cy="724.7" r="1.7" fill="#5AB0B7"/>
<circle cx="790.2" cy="707.2" r="1.7" fill="#5AB0B7"/>
<circle cx="788.5" cy="738.0" r="1.7" fill="#5AB0B7"/>
<circle cx="795.4" cy="721.2" r="1.7" fill="#5AB0B7"/>
<circle cx="788.0" cy="705.6" r="1.7" fill="#5AB0B7"/>
<circle cx="791.0" cy="720.7" r="1.7" fill="#5AB0B7"/>
<circle cx="788.2" cy="698.6" r="1.7" fill="#5AB0B7"/>
<circle cx="782.8" cy="726.5" r="1.7" fill="#5AB0B7"/>
<circle cx="788.8" cy="726.5" r="1.7" fill="#5AB0B7"/>
<circle cx="791.6" cy="709.7" r="1.7" fill="#5AB0B7"/>
<circle cx="782.8" cy="729.9" r="1.7" fill="#5AB0B7"/>
<circle cx="783.3" cy="699.2" r="1.7" fill="#5AB0B7"/>
<circle cx="788.8" cy="700.6" r="1.7" fill="#5AB0B7"/>
<circle cx="792.5" cy="703.5" r="1.7" fill="#5AB0B7"/>
<circle cx="782.2" cy="735.4" r="1.7" fill="#5AB0B7"/>
<circle cx="792.1" cy="698.8" r="1.7" fill="#5AB0B7"/>
<circle cx="783.9" cy="734.4" r="1.7" fill="#5AB0B7"/>
<circle cx="791.9" cy="704.8" r="1.7" fill="#5AB0B7"/>
<circle cx="782.1" cy="692.3" r="1.7" fill="#5AB0B7"/>
<circle cx="790.0" cy="704.9" r="1.7" fill="#5AB0B7"/>
<circle cx="784.9" cy="736.0" r="1.7" fill="#5AB0B7"/>
<circle cx="783.0" cy="732.0" r="1.7" fill="#5AB0B7"/>
<circle cx="792.0" cy="705.6" r="1.7" fill="#5AB0B7"/>
<circle cx="792.5" cy="726.8" r="1.7" fill="#5AB0B7"/>
<circle cx="788.2" cy="701.1" r="1.7" fill="#5AB0B7"/>
<circle cx="789.2" cy="705.8" r="1.7" fill="#5AB0B7"/>
<circle cx="795.3" cy="713.9" r="1.7" fill="#5AB0B7"/>
<circle cx="795.9" cy="694.6" r="1.7" fill="#5AB0B7"/>
<circle cx="789.2" cy="703.8" r="1.7" fill="#5AB0B7"/>
<circle cx="793.1" cy="696.8" r="1.7" fill="#5AB0B7"/>
<circle cx="791.1" cy="716.9" r="1.7" fill="#5AB0B7"/>
<circle cx="775.6" cy="697.3" r="1.7" fill="#5AB0B7"/>
<circle cx="790.2" cy="729.1" r="1.7" fill="#5AB0B7"/>
<circle cx="786.5" cy="735.0" r="1.7" fill="#5AB0B7"/>
<circle cx="790.3" cy="696.7" r="1.7" fill="#5AB0B7"/>
<circle cx="791.1" cy="711.6" r="1.7" fill="#5AB0B7"/>
<circle cx="790.1" cy="724.4" r="1.7" fill="#5AB0B7"/>
<circle cx="790.9" cy="728.1" r="1.7" fill="#5AB0B7"/>
<circle cx="783.0" cy="690.8" r="1.7" fill="#5AB0B7"/>
<circle cx="779.4" cy="734.6" r="1.7" fill="#5AB0B7"/>
<circle cx="793.0" cy="717.8" r="1.7" fill="#5AB0B7"/>
<circle cx="799.6" cy="700.8" r="1.7" fill="#5AB0B7"/>
<circle cx="785.2" cy="734.6" r="1.7" fill="#5AB0B7"/>
<circle cx="797.0" cy="701.9" r="1.7" fill="#5AB0B7"/>
<circle cx="788.8" cy="727.3" r="1.7" fill="#5AB0B7"/>
<circle cx="784.2" cy="730.0" r="1.7" fill="#5AB0B7"/>
<circle cx="798.4" cy="713.4" r="1.7" fill="#5AB0B7"/>
<circle cx="728.4" cy="693.9" r="1.7" fill="#5AB0B7"/>
<circle cx="714.8" cy="682.0" r="1.7" fill="#5AB0B7"/>
<circle cx="717.1" cy="688.8" r="1.7" fill="#5AB0B7"/>
<circle cx="716.3" cy="692.3" r="1.7" fill="#5AB0B7"/>
<circle cx="724.1" cy="685.8" r="1.7" fill="#5AB0B7"/>
<circle cx="720.9" cy="685.6" r="1.7" fill="#5AB0B7"/>
<circle cx="727.6" cy="692.6" r="1.7" fill="#5AB0B7"/>
<circle cx="724.8" cy="694.6" r="1.7" fill="#5AB0B7"/>
<circle cx="724.3" cy="689.9" r="1.7" fill="#5AB0B7"/>
<circle cx="730.1" cy="684.1" r="1.7" fill="#5AB0B7"/>
<circle cx="727.9" cy="694.7" r="1.7" fill="#5AB0B7"/>
<circle cx="723.1" cy="695.3" r="1.7" fill="#5AB0B7"/>
<circle cx="730.7" cy="689.1" r="1.7" fill="#5AB0B7"/>
<circle cx="715.7" cy="681.2" r="1.7" fill="#5AB0B7"/>
<circle cx="725.6" cy="685.0" r="1.7" fill="#5AB0B7"/>
<circle cx="711.6" cy="689.0" r="1.7" fill="#5AB0B7"/>
<circle cx="724.9" cy="696.1" r="1.7" fill="#5AB0B7"/>
<circle cx="715.6" cy="685.7" r="1.7" fill="#5AB0B7"/>
<circle cx="710.8" cy="683.9" r="1.7" fill="#5AB0B7"/>
<circle cx="718.8" cy="699.2" r="1.7" fill="#5AB0B7"/>
<circle cx="718.6" cy="686.0" r="1.7" fill="#5AB0B7"/>
<circle cx="719.5" cy="699.3" r="1.7" fill="#5AB0B7"/>
<circle cx="713.8" cy="688.7" r="1.7" fill="#5AB0B7"/>
<circle cx="713.5" cy="678.9" r="1.7" fill="#5AB0B7"/>
<circle cx="717.7" cy="684.1" r="1.7" fill="#5AB0B7"/>
<circle cx="717.4" cy="677.5" r="1.7" fill="#5AB0B7"/>
<circle cx="724.9" cy="695.3" r="1.7" fill="#5AB0B7"/>
<circle cx="711.8" cy="681.4" r="1.7" fill="#5AB0B7"/>
<circle cx="717.0" cy="683.0" r="1.7" fill="#5AB0B7"/>
<circle cx="723.4" cy="689.4" r="1.7" fill="#5AB0B7"/>
<circle cx="719.1" cy="693.7" r="1.7" fill="#5AB0B7"/>
<circle cx="714.6" cy="684.7" r="1.7" fill="#5AB0B7"/>
<circle cx="728.3" cy="691.3" r="1.7" fill="#5AB0B7"/>
<circle cx="726.6" cy="692.6" r="1.7" fill="#5AB0B7"/>
<circle cx="725.5" cy="693.0" r="1.7" fill="#5AB0B7"/>
<circle cx="710.9" cy="674.2" r="1.7" fill="#A55FF0"/>
<circle cx="708.6" cy="676.6" r="1.7" fill="#A55FF0"/>
<circle cx="713.6" cy="681.9" r="1.7" fill="#A55FF0"/>
<circle cx="714.5" cy="677.4" r="1.7" fill="#A55FF0"/>
<circle cx="713.6" cy="679.9" r="1.7" fill="#A55FF0"/>
<circle cx="715.9" cy="683.9" r="1.7" fill="#A55FF0"/>
<circle cx="713.8" cy="687.7" r="1.7" fill="#A55FF0"/>
<circle cx="716.6" cy="674.5" r="1.7" fill="#A55FF0"/>
<circle cx="713.3" cy="687.9" r="1.7" fill="#A55FF0"/>
<circle cx="707.8" cy="678.3" r="1.7" fill="#A55FF0"/>
<circle cx="713.2" cy="679.3" r="1.7" fill="#A55FF0"/>
<circle cx="715.2" cy="677.7" r="1.7" fill="#A55FF0"/>
<circle cx="709.8" cy="680.2" r="1.7" fill="#A55FF0"/>
<circle cx="707.9" cy="680.7" r="1.7" fill="#A55FF0"/>
<circle cx="709.8" cy="677.7" r="1.7" fill="#A55FF0"/>
<circle cx="714.5" cy="678.0" r="1.7" fill="#A55FF0"/>
<circle cx="710.1" cy="677.6" r="1.7" fill="#A55FF0"/>
<circle cx="711.7" cy="677.4" r="1.7" fill="#A55FF0"/>
<circle cx="714.5" cy="680.0" r="1.7" fill="#A55FF0"/>
<circle cx="720.4" cy="678.4" r="1.7" fill="#A55FF0"/>
<circle cx="712.1" cy="688.3" r="1.7" fill="#A55FF0"/>
<circle cx="715.7" cy="681.7" r="1.7" fill="#A55FF0"/>
<circle cx="707.5" cy="693.7" r="1.5" fill="#A55FF0"/>
<circle cx="710.6" cy="693.3" r="1.5" fill="#A55FF0"/>
<circle cx="704.2" cy="689.9" r="1.5" fill="#A55FF0"/>
<circle cx="704.7" cy="695.4" r="1.5" fill="#A55FF0"/>
<circle cx="707.5" cy="695.7" r="1.5" fill="#A55FF0"/>
<polygon points="758.0,738.0 764.0,734.0 772.0,738.0 780.0,737.0 784.0,744.0 782.0,754.0 776.0,759.0 766.0,759.0 760.0,754.0 757.0,746.0" fill="#B2822A" stroke="#B2822A" stroke-width="2.6" stroke-linejoin="round" stroke-dasharray="0 3.2" stroke-linecap="round"/>
<circle cx="763.9" cy="733.9" r="1.5" fill="#B2822A"/>
<circle cx="758.8" cy="736.9" r="1.5" fill="#B2822A"/>
<circle cx="767.9" cy="733.3" r="1.5" fill="#B2822A"/>
<circle cx="768.4" cy="734.3" r="1.5" fill="#B2822A"/>
<circle cx="772.7" cy="737.2" r="1.5" fill="#B2822A"/>
<circle cx="778.1" cy="736.7" r="1.5" fill="#B2822A"/>
<circle cx="784.9" cy="738.6" r="1.5" fill="#B2822A"/>
<circle cx="783.4" cy="742.5" r="1.5" fill="#B2822A"/>
<circle cx="783.4" cy="748.8" r="1.5" fill="#B2822A"/>
<circle cx="784.5" cy="745.2" r="1.5" fill="#B2822A"/>
<circle cx="779.3" cy="757.7" r="1.5" fill="#B2822A"/>
<circle cx="780.5" cy="755.3" r="1.5" fill="#B2822A"/>
<circle cx="775.8" cy="761.1" r="1.5" fill="#B2822A"/>
<circle cx="766.5" cy="760.4" r="1.5" fill="#B2822A"/>
<circle cx="758.6" cy="755.9" r="1.5" fill="#B2822A"/>
<circle cx="763.1" cy="757.9" r="1.5" fill="#B2822A"/>
<circle cx="757.1" cy="747.7" r="1.5" fill="#B2822A"/>
<circle cx="759.3" cy="754.1" r="1.5" fill="#B2822A"/>
<circle cx="755.9" cy="744.1" r="1.5" fill="#B2822A"/>
<circle cx="756.2" cy="745.8" r="1.5" fill="#B2822A"/>
<circle cx="773.4" cy="746.1" r="1.5" fill="#5DB25A"/>
<circle cx="768.4" cy="750.2" r="1.5" fill="#5DB25A"/>
<circle cx="774.5" cy="747.7" r="1.5" fill="#5DB25A"/>
<circle cx="774.1" cy="751.2" r="1.5" fill="#5DB25A"/>
<circle cx="764.7" cy="746.7" r="1.5" fill="#5DB25A"/>
<circle cx="763.6" cy="750.4" r="1.5" fill="#5DB25A"/>
<circle cx="773.1" cy="750.4" r="1.5" fill="#5092F0"/>
<circle cx="776.1" cy="746.3" r="1.5" fill="#5092F0"/>
<circle cx="776.9" cy="750.3" r="1.5" fill="#5092F0"/>
<circle cx="774.5" cy="749.6" r="1.5" fill="#5092F0"/>
<polygon points="624.0,616.0 636.0,613.0 646.0,615.0 660.0,625.0 668.0,636.0 665.0,645.0 652.0,648.0 640.0,646.0 627.0,644.0 620.0,640.0 618.0,630.0 620.0,622.0" fill="#A55FF0" stroke="#A55FF0" stroke-width="2.6" stroke-linejoin="round" stroke-dasharray="0 3.2" stroke-linecap="round"/>
<circle cx="629.0" cy="612.7" r="1.5" fill="#A55FF0"/>
<circle cx="632.2" cy="612.7" r="1.5" fill="#A55FF0"/>
<circle cx="628.7" cy="612.4" r="1.5" fill="#A55FF0"/>
<circle cx="636.7" cy="612.1" r="1.5" fill="#A55FF0"/>
<circle cx="641.1" cy="612.0" r="1.5" fill="#A55FF0"/>
<circle cx="656.8" cy="621.0" r="1.5" fill="#A55FF0"/>
<circle cx="650.2" cy="616.2" r="1.5" fill="#A55FF0"/>
<circle cx="653.8" cy="618.1" r="1.5" fill="#A55FF0"/>
<circle cx="649.0" cy="614.9" r="1.5" fill="#A55FF0"/>
<circle cx="661.4" cy="625.0" r="1.5" fill="#A55FF0"/>
<circle cx="662.8" cy="626.9" r="1.5" fill="#A55FF0"/>
<circle cx="663.2" cy="629.3" r="1.5" fill="#A55FF0"/>
<circle cx="666.6" cy="643.4" r="1.5" fill="#A55FF0"/>
<circle cx="667.7" cy="643.3" r="1.5" fill="#A55FF0"/>
<circle cx="665.3" cy="648.7" r="1.5" fill="#A55FF0"/>
<circle cx="655.1" cy="649.8" r="1.5" fill="#A55FF0"/>
<circle cx="664.8" cy="646.2" r="1.5" fill="#A55FF0"/>
<circle cx="640.8" cy="646.5" r="1.5" fill="#A55FF0"/>
<circle cx="649.1" cy="649.3" r="1.5" fill="#A55FF0"/>
<circle cx="643.8" cy="649.9" r="1.5" fill="#A55FF0"/>
<circle cx="628.0" cy="644.2" r="1.5" fill="#A55FF0"/>
<circle cx="639.6" cy="646.9" r="1.5" fill="#A55FF0"/>
<circle cx="629.6" cy="647.9" r="1.5" fill="#A55FF0"/>
<circle cx="620.7" cy="643.4" r="1.5" fill="#A55FF0"/>
<circle cx="625.5" cy="643.5" r="1.5" fill="#A55FF0"/>
<circle cx="618.1" cy="635.1" r="1.5" fill="#A55FF0"/>
<circle cx="619.0" cy="639.1" r="1.5" fill="#A55FF0"/>
<circle cx="616.7" cy="621.9" r="1.5" fill="#A55FF0"/>
<circle cx="616.8" cy="629.7" r="1.5" fill="#A55FF0"/>
<circle cx="621.9" cy="616.2" r="1.5" fill="#A55FF0"/>
<circle cx="620.7" cy="618.1" r="1.5" fill="#A55FF0"/>
<circle cx="620.7" cy="632.1" r="1.5" fill="#D646BE"/>
<circle cx="632.5" cy="626.9" r="1.5" fill="#D646BE"/>
<circle cx="658.6" cy="629.0" r="1.5" fill="#D646BE"/>
<circle cx="624.1" cy="635.8" r="1.5" fill="#D646BE"/>
<circle cx="628.4" cy="628.0" r="1.5" fill="#D646BE"/>
<circle cx="645.3" cy="625.3" r="1.5" fill="#D646BE"/>
<circle cx="622.7" cy="638.6" r="1.5" fill="#D646BE"/>
<circle cx="660.5" cy="642.7" r="1.5" fill="#D646BE"/>
<circle cx="623.1" cy="625.9" r="1.5" fill="#D646BE"/>
<circle cx="633.1" cy="639.7" r="1.5" fill="#D646BE"/>
<circle cx="625.4" cy="634.2" r="1.5" fill="#D646BE"/>
<circle cx="623.7" cy="637.2" r="1.5" fill="#D646BE"/>
<circle cx="647.9" cy="631.2" r="1.5" fill="#D646BE"/>
<circle cx="640.8" cy="627.3" r="1.5" fill="#D646BE"/>
<circle cx="648.6" cy="635.7" r="1.5" fill="#D646BE"/>
<circle cx="663.8" cy="638.6" r="1.5" fill="#D646BE"/>
<circle cx="657.8" cy="645.0" r="1.5" fill="#D646BE"/>
<circle cx="659.9" cy="638.1" r="1.5" fill="#D646BE"/>
<circle cx="619.5" cy="636.8" r="1.5" fill="#D646BE"/>
<circle cx="660.5" cy="628.1" r="1.5" fill="#D646BE"/>
<circle cx="653.3" cy="621.8" r="1.5" fill="#D646BE"/>
<circle cx="633.0" cy="625.2" r="1.5" fill="#D646BE"/>
<circle cx="634.2" cy="616.3" r="1.5" fill="#D646BE"/>
<circle cx="650.7" cy="645.6" r="1.5" fill="#D646BE"/>
<circle cx="656.1" cy="642.3" r="1.5" fill="#D646BE"/>
<circle cx="631.7" cy="621.7" r="1.5" fill="#D646BE"/>
<circle cx="638.6" cy="613.7" r="1.5" fill="#D646BE"/>
<circle cx="629.5" cy="644.0" r="1.5" fill="#D646BE"/>
<circle cx="656.5" cy="640.1" r="1.5" fill="#D646BE"/>
<circle cx="662.5" cy="640.8" r="1.5" fill="#D646BE"/>
<circle cx="644.6" cy="616.7" r="1.5" fill="#D646BE"/>
<circle cx="649.3" cy="625.8" r="1.5" fill="#D646BE"/>
<circle cx="644.9" cy="646.8" r="1.5" fill="#D646BE"/>
<circle cx="626.1" cy="631.6" r="1.5" fill="#D646BE"/>
<circle cx="650.5" cy="631.8" r="1.5" fill="#D646BE"/>
<circle cx="663.7" cy="637.1" r="1.5" fill="#D646BE"/>
<circle cx="628.6" cy="623.1" r="1.5" fill="#D646BE"/>
<circle cx="631.0" cy="638.1" r="1.5" fill="#D646BE"/>
<circle cx="639.9" cy="637.0" r="1.5" fill="#D646BE"/>
<circle cx="652.5" cy="639.1" r="1.5" fill="#D646BE"/>
<polygon points="626.0,646.0 640.0,646.0 652.0,650.0 654.0,660.0 654.0,672.0 662.0,682.0 674.0,692.0 680.0,706.0 682.0,722.0 680.0,740.0 676.0,756.0 668.0,768.0 662.0,772.0 656.0,770.0 650.0,762.0 646.0,755.0 641.0,740.0 638.0,722.0 632.0,716.0 627.0,702.0 623.0,690.0 622.0,676.0 624.0,660.0" fill="#D646BE" stroke="#D646BE" stroke-width="2.6" stroke-linejoin="round" stroke-dasharray="0 3.2" stroke-linecap="round"/>
<circle cx="636.5" cy="644.5" r="1.5" fill="#D646BE"/>
<circle cx="629.5" cy="646.0" r="1.5" fill="#D646BE"/>
<circle cx="635.7" cy="645.6" r="1.5" fill="#D646BE"/>
<circle cx="642.6" cy="646.6" r="1.5" fill="#D646BE"/>
<circle cx="649.0" cy="644.7" r="1.5" fill="#D646BE"/>
<circle cx="647.5" cy="647.2" r="1.5" fill="#D646BE"/>
<circle cx="655.1" cy="656.6" r="1.5" fill="#D646BE"/>
<circle cx="653.1" cy="652.9" r="1.5" fill="#D646BE"/>
<circle cx="654.2" cy="660.2" r="1.5" fill="#D646BE"/>
<circle cx="654.5" cy="664.3" r="1.5" fill="#D646BE"/>
<circle cx="654.6" cy="665.9" r="1.5" fill="#D646BE"/>
<circle cx="662.1" cy="681.4" r="1.5" fill="#D646BE"/>
<circle cx="661.1" cy="679.0" r="1.5" fill="#D646BE"/>
<circle cx="656.3" cy="673.1" r="1.5" fill="#D646BE"/>
<circle cx="667.4" cy="685.5" r="1.5" fill="#D646BE"/>
<circle cx="671.8" cy="687.0" r="1.5" fill="#D646BE"/>
<circle cx="663.7" cy="682.3" r="1.5" fill="#D646BE"/>
<circle cx="674.2" cy="690.0" r="1.5" fill="#D646BE"/>
<circle cx="676.5" cy="691.4" r="1.5" fill="#D646BE"/>
<circle cx="679.4" cy="703.4" r="1.5" fill="#D646BE"/>
<circle cx="681.7" cy="702.0" r="1.5" fill="#D646BE"/>
<circle cx="678.1" cy="701.4" r="1.5" fill="#D646BE"/>
<circle cx="680.6" cy="709.0" r="1.5" fill="#D646BE"/>
<circle cx="683.1" cy="720.3" r="1.5" fill="#D646BE"/>
<circle cx="683.1" cy="715.1" r="1.5" fill="#D646BE"/>
<circle cx="681.7" cy="716.5" r="1.5" fill="#D646BE"/>
<circle cx="682.6" cy="723.8" r="1.5" fill="#D646BE"/>
<circle cx="681.7" cy="739.9" r="1.5" fill="#D646BE"/>
<circle cx="682.4" cy="732.4" r="1.5" fill="#D646BE"/>
<circle cx="681.8" cy="726.0" r="1.5" fill="#D646BE"/>
<circle cx="680.4" cy="737.4" r="1.5" fill="#D646BE"/>
<circle cx="680.9" cy="742.4" r="1.5" fill="#D646BE"/>
<circle cx="677.4" cy="751.6" r="1.5" fill="#D646BE"/>
<circle cx="679.7" cy="742.3" r="1.5" fill="#D646BE"/>
<circle cx="679.7" cy="746.1" r="1.5" fill="#D646BE"/>
<circle cx="672.6" cy="762.8" r="1.5" fill="#D646BE"/>
<circle cx="670.3" cy="766.0" r="1.5" fill="#D646BE"/>
<circle cx="675.4" cy="760.5" r="1.5" fill="#D646BE"/>
<circle cx="675.8" cy="759.7" r="1.5" fill="#D646BE"/>
<circle cx="667.0" cy="769.0" r="1.5" fill="#D646BE"/>
<circle cx="666.7" cy="770.7" r="1.5" fill="#D646BE"/>
<circle cx="657.1" cy="773.7" r="1.5" fill="#D646BE"/>
<circle cx="655.2" cy="769.9" r="1.5" fill="#D646BE"/>
<circle cx="651.5" cy="765.1" r="1.5" fill="#D646BE"/>
<circle cx="649.0" cy="762.3" r="1.5" fill="#D646BE"/>
<circle cx="647.1" cy="759.6" r="1.5" fill="#D646BE"/>
<circle cx="641.3" cy="744.7" r="1.5" fill="#D646BE"/>
<circle cx="644.3" cy="754.0" r="1.5" fill="#D646BE"/>
<circle cx="644.0" cy="752.8" r="1.5" fill="#D646BE"/>
<circle cx="644.1" cy="751.8" r="1.5" fill="#D646BE"/>
<circle cx="640.5" cy="738.8" r="1.5" fill="#D646BE"/>
<circle cx="636.3" cy="734.1" r="1.5" fill="#D646BE"/>
<circle cx="638.6" cy="730.1" r="1.5" fill="#D646BE"/>
<circle cx="640.3" cy="738.8" r="1.5" fill="#D646BE"/>
<circle cx="636.7" cy="730.3" r="1.5" fill="#D646BE"/>
<circle cx="630.6" cy="719.0" r="1.5" fill="#D646BE"/>
<circle cx="636.8" cy="721.9" r="1.5" fill="#D646BE"/>
<circle cx="626.2" cy="703.2" r="1.5" fill="#D646BE"/>
<circle cx="631.0" cy="713.7" r="1.5" fill="#D646BE"/>
<circle cx="627.5" cy="703.9" r="1.5" fill="#D646BE"/>
<circle cx="630.1" cy="712.5" r="1.5" fill="#D646BE"/>
<circle cx="620.9" cy="691.7" r="1.5" fill="#D646BE"/>
<circle cx="626.1" cy="701.3" r="1.5" fill="#D646BE"/>
<circle cx="624.8" cy="696.7" r="1.5" fill="#D646BE"/>
<circle cx="621.4" cy="680.8" r="1.5" fill="#D646BE"/>
<circle cx="619.3" cy="685.2" r="1.5" fill="#D646BE"/>
<circle cx="619.4" cy="683.5" r="1.5" fill="#D646BE"/>
<circle cx="620.1" cy="672.8" r="1.5" fill="#D646BE"/>
<circle cx="622.9" cy="667.7" r="1.5" fill="#D646BE"/>
<circle cx="619.5" cy="675.3" r="1.5" fill="#D646BE"/>
<circle cx="622.6" cy="667.3" r="1.5" fill="#D646BE"/>
<circle cx="622.3" cy="656.4" r="1.5" fill="#D646BE"/>
<circle cx="625.3" cy="650.9" r="1.5" fill="#D646BE"/>
<circle cx="623.0" cy="657.8" r="1.5" fill="#D646BE"/>
<polygon points="624.0,676.0 632.0,680.0 638.0,700.0 640.0,718.0 636.0,722.0 630.0,716.0 626.0,702.0 623.0,690.0" fill="#A55FF0" stroke="#A55FF0" stroke-width="2.6" stroke-linejoin="round" stroke-dasharray="0 3.2" stroke-linecap="round"/>
<circle cx="631.6" cy="675.7" r="1.5" fill="#A55FF0"/>
<circle cx="631.9" cy="677.3" r="1.5" fill="#A55FF0"/>
<circle cx="635.5" cy="682.9" r="1.5" fill="#A55FF0"/>
<circle cx="636.1" cy="683.7" r="1.5" fill="#A55FF0"/>
<circle cx="634.4" cy="681.1" r="1.5" fill="#A55FF0"/>
<circle cx="634.9" cy="683.9" r="1.5" fill="#A55FF0"/>
<circle cx="633.2" cy="682.7" r="1.5" fill="#A55FF0"/>
<circle cx="638.4" cy="703.4" r="1.5" fill="#A55FF0"/>
<circle cx="642.0" cy="716.7" r="1.5" fill="#A55FF0"/>
<circle cx="638.9" cy="707.2" r="1.5" fill="#A55FF0"/>
<circle cx="640.1" cy="717.0" r="1.5" fill="#A55FF0"/>
<circle cx="640.4" cy="704.0" r="1.5" fill="#A55FF0"/>
<circle cx="636.4" cy="722.0" r="1.5" fill="#A55FF0"/>
<circle cx="631.5" cy="720.6" r="1.5" fill="#A55FF0"/>
<circle cx="634.6" cy="720.8" r="1.5" fill="#A55FF0"/>
<circle cx="624.9" cy="704.8" r="1.5" fill="#A55FF0"/>
<circle cx="622.4" cy="711.3" r="1.5" fill="#A55FF0"/>
<circle cx="627.8" cy="713.2" r="1.5" fill="#A55FF0"/>
<circle cx="628.0" cy="710.4" r="1.5" fill="#A55FF0"/>
<circle cx="624.8" cy="697.9" r="1.5" fill="#A55FF0"/>
<circle cx="624.6" cy="697.6" r="1.5" fill="#A55FF0"/>
<circle cx="625.5" cy="700.1" r="1.5" fill="#A55FF0"/>
<circle cx="623.6" cy="681.5" r="1.5" fill="#A55FF0"/>
<circle cx="621.3" cy="686.2" r="1.5" fill="#A55FF0"/>
<circle cx="623.1" cy="680.0" r="1.5" fill="#A55FF0"/>
<circle cx="622.8" cy="653.2" r="1.5" fill="#A55FF0"/>
<circle cx="623.0" cy="650.1" r="1.5" fill="#A55FF0"/>
<circle cx="630.4" cy="663.4" r="1.5" fill="#A55FF0"/>
<circle cx="637.7" cy="647.7" r="1.5" fill="#A55FF0"/>
<circle cx="624.7" cy="651.0" r="1.5" fill="#A55FF0"/>
<circle cx="631.7" cy="659.6" r="1.5" fill="#A55FF0"/>
<circle cx="628.2" cy="672.7" r="1.5" fill="#A55FF0"/>
<circle cx="633.2" cy="671.8" r="1.5" fill="#A55FF0"/>
<circle cx="622.1" cy="646.5" r="1.5" fill="#A55FF0"/>
<circle cx="625.8" cy="654.7" r="1.5" fill="#A55FF0"/>
<circle cx="628.4" cy="661.9" r="1.5" fill="#A55FF0"/>
<circle cx="633.1" cy="661.4" r="1.5" fill="#A55FF0"/>
<circle cx="622.3" cy="653.3" r="1.5" fill="#A55FF0"/>
<circle cx="633.2" cy="663.6" r="1.5" fill="#A55FF0"/>
<circle cx="636.0" cy="673.0" r="1.5" fill="#A55FF0"/>
<circle cx="631.4" cy="651.4" r="1.5" fill="#A55FF0"/>
<circle cx="633.8" cy="653.7" r="1.5" fill="#A55FF0"/>
<circle cx="624.7" cy="657.0" r="1.5" fill="#A55FF0"/>
<circle cx="630.5" cy="666.3" r="1.5" fill="#A55FF0"/>
<circle cx="632.5" cy="660.2" r="1.5" fill="#A55FF0"/>
<circle cx="633.4" cy="670.0" r="1.5" fill="#A55FF0"/>
<circle cx="633.6" cy="667.3" r="1.5" fill="#A55FF0"/>
<circle cx="633.0" cy="651.4" r="1.5" fill="#A55FF0"/>
<circle cx="624.7" cy="658.9" r="1.5" fill="#A55FF0"/>
<circle cx="639.2" cy="652.2" r="1.5" fill="#A55FF0"/>
<circle cx="628.2" cy="674.8" r="1.5" fill="#A55FF0"/>
<circle cx="638.0" cy="653.0" r="1.5" fill="#A55FF0"/>
<circle cx="634.7" cy="656.8" r="1.5" fill="#A55FF0"/>
<circle cx="633.3" cy="669.0" r="1.5" fill="#A55FF0"/>
<circle cx="622.6" cy="652.7" r="1.5" fill="#A55FF0"/>
<circle cx="617.1" cy="691.0" r="1.5" fill="#A55FF0"/>
<circle cx="619.6" cy="685.1" r="1.5" fill="#A55FF0"/>
<circle cx="610.6" cy="689.1" r="1.5" fill="#A55FF0"/>
<circle cx="622.7" cy="689.0" r="1.5" fill="#A55FF0"/>
<circle cx="623.1" cy="680.2" r="1.5" fill="#A55FF0"/>
<circle cx="610.8" cy="693.3" r="1.5" fill="#A55FF0"/>
<circle cx="612.1" cy="686.3" r="1.5" fill="#A55FF0"/>
<circle cx="614.7" cy="684.2" r="1.5" fill="#A55FF0"/>
<circle cx="614.2" cy="679.0" r="1.5" fill="#A55FF0"/>
<circle cx="609.3" cy="694.0" r="1.5" fill="#A55FF0"/>
<circle cx="617.0" cy="671.3" r="1.5" fill="#A55FF0"/>
<circle cx="611.0" cy="675.3" r="1.5" fill="#A55FF0"/>
<circle cx="613.3" cy="670.8" r="1.5" fill="#A55FF0"/>
<circle cx="618.9" cy="695.6" r="1.5" fill="#A55FF0"/>
<circle cx="614.4" cy="690.7" r="1.5" fill="#A55FF0"/>
<circle cx="619.4" cy="674.2" r="1.5" fill="#A55FF0"/>
<circle cx="621.5" cy="673.4" r="1.5" fill="#A55FF0"/>
<circle cx="612.2" cy="680.7" r="1.5" fill="#A55FF0"/>
<circle cx="617.8" cy="660.7" r="1.5" fill="#D646BE"/>
<circle cx="611.4" cy="654.8" r="1.5" fill="#D646BE"/>
<circle cx="612.5" cy="660.3" r="1.5" fill="#D646BE"/>
<circle cx="615.1" cy="667.4" r="1.5" fill="#D646BE"/>
<circle cx="615.8" cy="660.1" r="1.5" fill="#D646BE"/>
<circle cx="611.4" cy="668.4" r="1.5" fill="#D646BE"/>
<circle cx="613.1" cy="659.9" r="1.5" fill="#D646BE"/>
<circle cx="617.8" cy="666.4" r="1.5" fill="#D646BE"/>
<circle cx="615.0" cy="659.3" r="1.5" fill="#D646BE"/>
<circle cx="609.0" cy="666.2" r="1.5" fill="#D646BE"/>
<circle cx="596.1" cy="645.8" r="1.5" fill="#5092F0"/>
<circle cx="592.9" cy="640.7" r="1.5" fill="#5092F0"/>
<circle cx="603.8" cy="641.0" r="1.5" fill="#5092F0"/>
<circle cx="602.2" cy="642.6" r="1.5" fill="#5092F0"/>
<circle cx="591.7" cy="634.1" r="1.5" fill="#5092F0"/>
<circle cx="599.0" cy="648.9" r="1.5" fill="#5092F0"/>
<circle cx="598.9" cy="634.2" r="1.5" fill="#5092F0"/>
<circle cx="593.9" cy="640.2" r="1.5" fill="#5092F0"/>
<circle cx="609.5" cy="636.8" r="1.5" fill="#5092F0"/>
<circle cx="605.2" cy="641.2" r="1.5" fill="#5092F0"/>
<circle cx="596.9" cy="634.2" r="1.5" fill="#5092F0"/>
<circle cx="598.6" cy="635.3" r="1.5" fill="#5092F0"/>
<circle cx="603.7" cy="631.4" r="1.5" fill="#5092F0"/>
<circle cx="608.9" cy="644.3" r="1.5" fill="#5092F0"/>
<circle cx="604.2" cy="647.8" r="1.5" fill="#5092F0"/>
<circle cx="604.1" cy="631.6" r="1.5" fill="#5092F0"/>
</g>
<text transform="translate(353.10,236.30) scale(1.0137,1)" font-size="45" text-anchor="middle" fill="#111">6</text>
<text transform="translate(844.00,352.00) scale(1.0000,1)" font-size="45" text-anchor="middle" fill="#111">4</text>
<text transform="translate(589.50,557.00) scale(0.7895,1)" font-size="45" text-anchor="middle" fill="#111">1</text>
<text transform="translate(697.00,588.70) scale(0.9569,1)" font-size="45" text-anchor="middle" fill="#111">3</text>
<text transform="translate(636.50,677.00) scale(1.0000,1)" font-size="45" text-anchor="middle" fill="#111">7</text>
<text transform="translate(514.50,711.70) scale(1.0476,1)" font-size="45" text-anchor="middle" fill="#111">5</text>
<text transform="translate(657.50,729.70) scale(1.0000,1)" font-size="45" text-anchor="middle" fill="#111">8</text>
<text transform="translate(289.50,626.00) scale(1.0000,1)" font-size="45" text-anchor="middle" fill="#111">2</text>
<path d="M187.4,111 V801.8 H943" fill="none" stroke="#000" stroke-width="2.8"/>
<line x1="178" y1="157.3" x2="187" y2="157.3" stroke="#000" stroke-width="2.8"/>
<text transform="translate(170.30,168.90) scale(0.9569,1)" font-size="32.4" text-anchor="end">10</text>
<line x1="178" y1="316.3" x2="187" y2="316.3" stroke="#000" stroke-width="2.8"/>
<text transform="translate(170.50,327.90) scale(1.0000,1)" font-size="32.4" text-anchor="end">5</text>
<line x1="178" y1="475.3" x2="187" y2="475.3" stroke="#000" stroke-width="2.8"/>
<text transform="translate(170.80,486.90) scale(1.0140,1)" font-size="32.4" text-anchor="end">0</text>
<line x1="178" y1="634.3" x2="187" y2="634.3" stroke="#000" stroke-width="2.8"/>
<text transform="translate(169.50,645.90) scale(0.9412,1)" font-size="32.4" text-anchor="end">−5</text>
<line x1="178" y1="793.3" x2="187" y2="793.3" stroke="#000" stroke-width="2.8"/>
<text transform="translate(168.00,804.90) scale(0.8269,1)" font-size="32.4" text-anchor="end">−10</text>
<line x1="253.4" y1="801" x2="253.4" y2="811" stroke="#000" stroke-width="2.8"/>
<text transform="translate(252.90,842.00) scale(0.9619,1)" font-size="32.4" text-anchor="middle">−10</text>
<line x1="408.7" y1="801" x2="408.7" y2="811" stroke="#000" stroke-width="2.8"/>
<text transform="translate(408.20,842.00) scale(0.9706,1)" font-size="32.4" text-anchor="middle">−5</text>
<line x1="564.0" y1="801" x2="564.0" y2="811" stroke="#000" stroke-width="2.8"/>
<text transform="translate(563.50,842.00) scale(1.0708,1)" font-size="32.4" text-anchor="middle">0</text>
<line x1="719.3" y1="801" x2="719.3" y2="811" stroke="#000" stroke-width="2.8"/>
<text transform="translate(718.40,842.00) scale(1.0708,1)" font-size="32.4" text-anchor="middle">5</text>
<line x1="874.6" y1="801" x2="874.6" y2="811" stroke="#000" stroke-width="2.8"/>
<text transform="translate(875.00,842.00) scale(0.9440,1)" font-size="32.4" text-anchor="middle">10</text>
<text transform="translate(552.50,891.20) scale(0.9792,1)" font-size="39.5" text-anchor="middle" font-weight="bold" fill="#1e1e1e">UMAP 2</text>
<text transform="translate(133.00,477.50) rotate(-90) scale(0.9192,1)" font-size="39.8" text-anchor="middle" font-weight="bold" fill="#1e1e1e">UMAP 1</text>
<g id="heat">
<rect x="1222.40" y="221.00" width="35.42" height="33.44" fill="#d23234"/>
<rect x="1257.82" y="221.00" width="35.42" height="33.44" fill="#932324"/>
<rect x="1293.24" y="221.00" width="35.42" height="33.44" fill="#a8282a"/>
<rect x="1328.66" y="221.00" width="35.42" height="33.44" fill="#932324"/>
<rect x="1364.08" y="221.00" width="35.42" height="33.44" fill="#972425"/>
<rect x="1399.50" y="221.00" width="35.42" height="33.44" fill="#a8282a"/>
<rect x="1434.92" y="221.00" width="35.42" height="33.44" fill="#7e1e1f"/>
<rect x="1470.34" y="221.00" width="35.42" height="33.44" fill="#c83031"/>
<rect x="1505.76" y="221.00" width="35.42" height="33.44" fill="#b22a2c"/>
<rect x="1541.18" y="221.00" width="35.42" height="33.44" fill="#8f2223"/>
<rect x="1576.60" y="221.00" width="35.42" height="33.44" fill="#972425"/>
<rect x="1612.02" y="221.00" width="35.42" height="33.44" fill="#9e2627"/>
<rect x="1647.44" y="221.00" width="35.42" height="33.44" fill="#741c1d"/>
<rect x="1682.86" y="221.00" width="35.42" height="33.44" fill="#000000"/>
<rect x="1718.28" y="221.00" width="35.42" height="33.44" fill="#060202"/>
<rect x="1753.70" y="221.00" width="35.42" height="33.44" fill="#9e2627"/>
<rect x="1789.12" y="221.00" width="35.42" height="33.44" fill="#200808"/>
<rect x="1828.50" y="221.00" width="32.50" height="33.44" fill="#2d6b1e"/>
<rect x="1222.40" y="254.44" width="35.42" height="33.44" fill="#882022"/>
<rect x="1257.82" y="254.44" width="35.42" height="33.44" fill="#d23234"/>
<rect x="1293.24" y="254.44" width="35.42" height="33.44" fill="#932324"/>
<rect x="1328.66" y="254.44" width="35.42" height="33.44" fill="#8f2223"/>
<rect x="1364.08" y="254.44" width="35.42" height="33.44" fill="#5e1617"/>
<rect x="1399.50" y="254.44" width="35.42" height="33.44" fill="#9e2627"/>
<rect x="1434.92" y="254.44" width="35.42" height="33.44" fill="#7e1e1f"/>
<rect x="1470.34" y="254.44" width="35.42" height="33.44" fill="#8f2223"/>
<rect x="1505.76" y="254.44" width="35.42" height="33.44" fill="#7a1d1e"/>
<rect x="1541.18" y="254.44" width="35.42" height="33.44" fill="#8b2122"/>
<rect x="1576.60" y="254.44" width="35.42" height="33.44" fill="#9e2627"/>
<rect x="1612.02" y="254.44" width="35.42" height="33.44" fill="#8f2223"/>
<rect x="1647.44" y="254.44" width="35.42" height="33.44" fill="#581516"/>
<rect x="1682.86" y="254.44" width="35.42" height="33.44" fill="#3f0f10"/>
<rect x="1718.28" y="254.44" width="35.42" height="33.44" fill="#541415"/>
<rect x="1753.70" y="254.44" width="35.42" height="33.44" fill="#9e2627"/>
<rect x="1789.12" y="254.44" width="35.42" height="33.44" fill="#2a0a0a"/>
<rect x="1828.50" y="254.44" width="32.50" height="33.44" fill="#429c2c"/>
<rect x="1222.40" y="287.88" width="35.42" height="33.44" fill="#a42729"/>
<rect x="1257.82" y="287.88" width="35.42" height="33.44" fill="#932324"/>
<rect x="1293.24" y="287.88" width="35.42" height="33.44" fill="#d23234"/>
<rect x="1328.66" y="287.88" width="35.42" height="33.44" fill="#b92c2e"/>
<rect x="1364.08" y="287.88" width="35.42" height="33.44" fill="#b22a2c"/>
<rect x="1399.50" y="287.88" width="35.42" height="33.44" fill="#7a1d1e"/>
<rect x="1434.92" y="287.88" width="35.42" height="33.44" fill="#c32e30"/>
<rect x="1470.34" y="287.88" width="35.42" height="33.44" fill="#b22a2c"/>
<rect x="1505.76" y="287.88" width="35.42" height="33.44" fill="#8f2223"/>
<rect x="1541.18" y="287.88" width="35.42" height="33.44" fill="#882022"/>
<rect x="1576.60" y="287.88" width="35.42" height="33.44" fill="#c12e30"/>
<rect x="1612.02" y="287.88" width="35.42" height="33.44" fill="#b92c2e"/>
<rect x="1647.44" y="287.88" width="35.42" height="33.44" fill="#a42729"/>
<rect x="1682.86" y="287.88" width="35.42" height="33.44" fill="#2e0b0b"/>
<rect x="1718.28" y="287.88" width="35.42" height="33.44" fill="#741c1d"/>
<rect x="1753.70" y="287.88" width="35.42" height="33.44" fill="#cc3032"/>
<rect x="1789.12" y="287.88" width="35.42" height="33.44" fill="#741c1d"/>
<rect x="1828.50" y="287.88" width="32.50" height="33.44" fill="#3e9229"/>
<rect x="1222.40" y="321.32" width="35.42" height="33.44" fill="#8f2223"/>
<rect x="1257.82" y="321.32" width="35.42" height="33.44" fill="#932324"/>
<rect x="1293.24" y="321.32" width="35.42" height="33.44" fill="#b92c2e"/>
<rect x="1328.66" y="321.32" width="35.42" height="33.44" fill="#ce3133"/>
<rect x="1364.08" y="321.32" width="35.42" height="33.44" fill="#a42729"/>
<rect x="1399.50" y="321.32" width="35.42" height="33.44" fill="#882022"/>
<rect x="1434.92" y="321.32" width="35.42" height="33.44" fill="#b92c2e"/>
<rect x="1470.34" y="321.32" width="35.42" height="33.44" fill="#882022"/>
<rect x="1505.76" y="321.32" width="35.42" height="33.44" fill="#4a1212"/>
<rect x="1541.18" y="321.32" width="35.42" height="33.44" fill="#b92c2e"/>
<rect x="1576.60" y="321.32" width="35.42" height="33.44" fill="#c32e30"/>
<rect x="1612.02" y="321.32" width="35.42" height="33.44" fill="#cc3032"/>
<rect x="1647.44" y="321.32" width="35.42" height="33.44" fill="#5e1617"/>
<rect x="1682.86" y="321.32" width="35.42" height="33.44" fill="#8f2223"/>
<rect x="1718.28" y="321.32" width="35.42" height="33.44" fill="#a8282a"/>
<rect x="1753.70" y="321.32" width="35.42" height="33.44" fill="#bd2d2f"/>
<rect x="1789.12" y="321.32" width="35.42" height="33.44" fill="#a8282a"/>
<rect x="1828.50" y="321.32" width="32.50" height="33.44" fill="#3e9229"/>
<rect x="1222.40" y="354.76" width="35.42" height="33.44" fill="#9e2627"/>
<rect x="1257.82" y="354.76" width="35.42" height="33.44" fill="#5a1616"/>
<rect x="1293.24" y="354.76" width="35.42" height="33.44" fill="#b22a2c"/>
<rect x="1328.66" y="354.76" width="35.42" height="33.44" fill="#9e2627"/>
<rect x="1364.08" y="354.76" width="35.42" height="33.44" fill="#d23234"/>
<rect x="1399.50" y="354.76" width="35.42" height="33.44" fill="#821f20"/>
<rect x="1434.92" y="354.76" width="35.42" height="33.44" fill="#ae2a2b"/>
<rect x="1470.34" y="354.76" width="35.42" height="33.44" fill="#972425"/>
<rect x="1505.76" y="354.76" width="35.42" height="33.44" fill="#972425"/>
<rect x="1541.18" y="354.76" width="35.42" height="33.44" fill="#7a1d1e"/>
<rect x="1576.60" y="354.76" width="35.42" height="33.44" fill="#9e2627"/>
<rect x="1612.02" y="354.76" width="35.42" height="33.44" fill="#a42729"/>
<rect x="1647.44" y="354.76" width="35.42" height="33.44" fill="#a42729"/>
<rect x="1682.86" y="354.76" width="35.42" height="33.44" fill="#1b0607"/>
<rect x="1718.28" y="354.76" width="35.42" height="33.44" fill="#501314"/>
<rect x="1753.70" y="354.76" width="35.42" height="33.44" fill="#a8282a"/>
<rect x="1789.12" y="354.76" width="35.42" height="33.44" fill="#7a1d1e"/>
<rect x="1828.50" y="354.76" width="32.50" height="33.44" fill="#29621c"/>
<rect x="1222.40" y="388.20" width="35.42" height="33.44" fill="#a8282a"/>
<rect x="1257.82" y="388.20" width="35.42" height="33.44" fill="#a42729"/>
<rect x="1293.24" y="388.20" width="35.42" height="33.44" fill="#7e1e1f"/>
<rect x="1328.66" y="388.20" width="35.42" height="33.44" fill="#882022"/>
<rect x="1364.08" y="388.20" width="35.42" height="33.44" fill="#7e1e1f"/>
<rect x="1399.50" y="388.20" width="35.42" height="33.44" fill="#d23234"/>
<rect x="1434.92" y="388.20" width="35.42" height="33.44" fill="#581516"/>
<rect x="1470.34" y="388.20" width="35.42" height="33.44" fill="#972425"/>
<rect x="1505.76" y="388.20" width="35.42" height="33.44" fill="#7e1e1f"/>
<rect x="1541.18" y="388.20" width="35.42" height="33.44" fill="#a8282a"/>
<rect x="1576.60" y="388.20" width="35.42" height="33.44" fill="#972425"/>
<rect x="1612.02" y="388.20" width="35.42" height="33.44" fill="#972425"/>
<rect x="1647.44" y="388.20" width="35.42" height="33.44" fill="#190606"/>
<rect x="1682.86" y="388.20" width="35.42" height="33.44" fill="#541415"/>
<rect x="1718.28" y="388.20" width="35.42" height="33.44" fill="#2e0b0b"/>
<rect x="1753.70" y="388.20" width="35.42" height="33.44" fill="#932324"/>
<rect x="1789.12" y="388.20" width="35.42" height="33.44" fill="#651819"/>
<rect x="1828.50" y="388.20" width="32.50" height="33.44" fill="#29621c"/>
<rect x="1222.40" y="421.64" width="35.42" height="33.44" fill="#7e1e1f"/>
<rect x="1257.82" y="421.64" width="35.42" height="33.44" fill="#882022"/>
<rect x="1293.24" y="421.64" width="35.42" height="33.44" fill="#c12e30"/>
<rect x="1328.66" y="421.64" width="35.42" height="33.44" fill="#b92c2e"/>
<rect x="1364.08" y="421.64" width="35.42" height="33.44" fill="#b22a2c"/>
<rect x="1399.50" y="421.64" width="35.42" height="33.44" fill="#5e1617"/>
<rect x="1434.92" y="421.64" width="35.42" height="33.44" fill="#d23234"/>
<rect x="1470.34" y="421.64" width="35.42" height="33.44" fill="#9e2627"/>
<rect x="1505.76" y="421.64" width="35.42" height="33.44" fill="#6d1a1b"/>
<rect x="1541.18" y="421.64" width="35.42" height="33.44" fill="#882022"/>
<rect x="1576.60" y="421.64" width="35.42" height="33.44" fill="#b72c2d"/>
<rect x="1612.02" y="421.64" width="35.42" height="33.44" fill="#b22a2c"/>
<rect x="1647.44" y="421.64" width="35.42" height="33.44" fill="#a42729"/>
<rect x="1682.86" y="421.64" width="35.42" height="33.44" fill="#541415"/>
<rect x="1718.28" y="421.64" width="35.42" height="33.44" fill="#932324"/>
<rect x="1753.70" y="421.64" width="35.42" height="33.44" fill="#c32e30"/>
<rect x="1789.12" y="421.64" width="35.42" height="33.44" fill="#7e1e1f"/>
<rect x="1828.50" y="421.64" width="32.50" height="33.44" fill="#317521"/>
<rect x="1222.40" y="455.08" width="35.42" height="33.44" fill="#cc3032"/>
<rect x="1257.82" y="455.08" width="35.42" height="33.44" fill="#972425"/>
<rect x="1293.24" y="455.08" width="35.42" height="33.44" fill="#ae2a2b"/>
<rect x="1328.66" y="455.08" width="35.42" height="33.44" fill="#8f2223"/>
<rect x="1364.08" y="455.08" width="35.42" height="33.44" fill="#972425"/>
<rect x="1399.50" y="455.08" width="35.42" height="33.44" fill="#972425"/>
<rect x="1434.92" y="455.08" width="35.42" height="33.44" fill="#9e2627"/>
<rect x="1470.34" y="455.08" width="35.42" height="33.44" fill="#d23234"/>
<rect x="1505.76" y="455.08" width="35.42" height="33.44" fill="#ae2a2b"/>
<rect x="1541.18" y="455.08" width="35.42" height="33.44" fill="#7e1e1f"/>
<rect x="1576.60" y="455.08" width="35.42" height="33.44" fill="#972425"/>
<rect x="1612.02" y="455.08" width="35.42" height="33.44" fill="#972425"/>
<rect x="1647.44" y="455.08" width="35.42" height="33.44" fill="#932324"/>
<rect x="1682.86" y="455.08" width="35.42" height="33.44" fill="#000000"/>
<rect x="1718.28" y="455.08" width="35.42" height="33.44" fill="#110404"/>
<rect x="1753.70" y="455.08" width="35.42" height="33.44" fill="#972425"/>
<rect x="1789.12" y="455.08" width="35.42" height="33.44" fill="#190606"/>
<rect x="1828.50" y="455.08" width="32.50" height="33.44" fill="#2d6b1e"/>
<rect x="1222.40" y="488.52" width="35.42" height="33.44" fill="#b22a2c"/>
<rect x="1257.82" y="488.52" width="35.42" height="33.44" fill="#7e1e1f"/>
<rect x="1293.24" y="488.52" width="35.42" height="33.44" fill="#8f2223"/>
<rect x="1328.66" y="488.52" width="35.42" height="33.44" fill="#4a1212"/>
<rect x="1364.08" y="488.52" width="35.42" height="33.44" fill="#972425"/>
<rect x="1399.50" y="488.52" width="35.42" height="33.44" fill="#7a1d1e"/>
<rect x="1434.92" y="488.52" width="35.42" height="33.44" fill="#69191a"/>
<rect x="1470.34" y="488.52" width="35.42" height="33.44" fill="#a8282a"/>
<rect x="1505.76" y="488.52" width="35.42" height="33.44" fill="#d23234"/>
<rect x="1541.18" y="488.52" width="35.42" height="33.44" fill="#340c0d"/>
<rect x="1576.60" y="488.52" width="35.42" height="33.44" fill="#741c1d"/>
<rect x="1612.02" y="488.52" width="35.42" height="33.44" fill="#631818"/>
<rect x="1647.44" y="488.52" width="35.42" height="33.44" fill="#a42729"/>
<rect x="1682.86" y="488.52" width="35.42" height="33.44" fill="#214e16"/>
<rect x="1718.28" y="488.52" width="35.42" height="33.44" fill="#10270b"/>
<rect x="1753.70" y="488.52" width="35.42" height="33.44" fill="#7a1d1e"/>
<rect x="1789.12" y="488.52" width="35.42" height="33.44" fill="#071004"/>
<rect x="1828.50" y="488.52" width="32.50" height="33.44" fill="#2d6b1e"/>
<rect x="1222.40" y="521.96" width="35.42" height="33.44" fill="#8f2223"/>
<rect x="1257.82" y="521.96" width="35.42" height="33.44" fill="#8f2223"/>
<rect x="1293.24" y="521.96" width="35.42" height="33.44" fill="#882022"/>
<rect x="1328.66" y="521.96" width="35.42" height="33.44" fill="#ac292b"/>
<rect x="1364.08" y="521.96" width="35.42" height="33.44" fill="#7e1e1f"/>
<rect x="1399.50" y="521.96" width="35.42" height="33.44" fill="#a8282a"/>
<rect x="1434.92" y="521.96" width="35.42" height="33.44" fill="#821f20"/>
<rect x="1470.34" y="521.96" width="35.42" height="33.44" fill="#7e1e1f"/>
<rect x="1505.76" y="521.96" width="35.42" height="33.44" fill="#340c0d"/>
<rect x="1541.18" y="521.96" width="35.42" height="33.44" fill="#d23234"/>
<rect x="1576.60" y="521.96" width="35.42" height="33.44" fill="#ac292b"/>
<rect x="1612.02" y="521.96" width="35.42" height="33.44" fill="#b72c2d"/>
<rect x="1647.44" y="521.96" width="35.42" height="33.44" fill="#060202"/>
<rect x="1682.86" y="521.96" width="35.42" height="33.44" fill="#ac292b"/>
<rect x="1718.28" y="521.96" width="35.42" height="33.44" fill="#932324"/>
<rect x="1753.70" y="521.96" width="35.42" height="33.44" fill="#972425"/>
<rect x="1789.12" y="521.96" width="35.42" height="33.44" fill="#972425"/>
<rect x="1828.50" y="521.96" width="32.50" height="33.44" fill="#255819"/>
<rect x="1222.40" y="555.40" width="35.42" height="33.44" fill="#972425"/>
<rect x="1257.82" y="555.40" width="35.42" height="33.44" fill="#a42729"/>
<rect x="1293.24" y="555.40" width="35.42" height="33.44" fill="#b92c2e"/>
<rect x="1328.66" y="555.40" width="35.42" height="33.44" fill="#b92c2e"/>
<rect x="1364.08" y="555.40" width="35.42" height="33.44" fill="#a42729"/>
<rect x="1399.50" y="555.40" width="35.42" height="33.44" fill="#932324"/>
<rect x="1434.92" y="555.40" width="35.42" height="33.44" fill="#b22a2c"/>
<rect x="1470.34" y="555.40" width="35.42" height="33.44" fill="#9e2627"/>
<rect x="1505.76" y="555.40" width="35.42" height="33.44" fill="#69191a"/>
<rect x="1541.18" y="555.40" width="35.42" height="33.44" fill="#a42729"/>
<rect x="1576.60" y="555.40" width="35.42" height="33.44" fill="#c83031"/>
<rect x="1612.02" y="555.40" width="35.42" height="33.44" fill="#c32e30"/>
<rect x="1647.44" y="555.40" width="35.42" height="33.44" fill="#741c1d"/>
<rect x="1682.86" y="555.40" width="35.42" height="33.44" fill="#69191a"/>
<rect x="1718.28" y="555.40" width="35.42" height="33.44" fill="#932324"/>
<rect x="1753.70" y="555.40" width="35.42" height="33.44" fill="#c12e30"/>
<rect x="1789.12" y="555.40" width="35.42" height="33.44" fill="#8f2223"/>
<rect x="1828.50" y="555.40" width="32.50" height="33.44" fill="#46a62f"/>
<rect x="1222.40" y="588.84" width="35.42" height="33.44" fill="#972425"/>
<rect x="1257.82" y="588.84" width="35.42" height="33.44" fill="#932324"/>
<rect x="1293.24" y="588.84" width="35.42" height="33.44" fill="#b92c2e"/>
<rect x="1328.66" y="588.84" width="35.42" height="33.44" fill="#c32e30"/>
<rect x="1364.08" y="588.84" width="35.42" height="33.44" fill="#a42729"/>
<rect x="1399.50" y="588.84" width="35.42" height="33.44" fill="#972425"/>
<rect x="1434.92" y="588.84" width="35.42" height="33.44" fill="#a8282a"/>
<rect x="1470.34" y="588.84" width="35.42" height="33.44" fill="#9e2627"/>
<rect x="1505.76" y="588.84" width="35.42" height="33.44" fill="#631818"/>
<rect x="1541.18" y="588.84" width="35.42" height="33.44" fill="#b22a2c"/>
<rect x="1576.60" y="588.84" width="35.42" height="33.44" fill="#bd2d2f"/>
<rect x="1612.02" y="588.84" width="35.42" height="33.44" fill="#ce3133"/>
<rect x="1647.44" y="588.84" width="35.42" height="33.44" fill="#5a1616"/>
<rect x="1682.86" y="588.84" width="35.42" height="33.44" fill="#7e1e1f"/>
<rect x="1718.28" y="588.84" width="35.42" height="33.44" fill="#932324"/>
<rect x="1753.70" y="588.84" width="35.42" height="33.44" fill="#bd2d2f"/>
<rect x="1789.12" y="588.84" width="35.42" height="33.44" fill="#9e2627"/>
<rect x="1828.50" y="588.84" width="32.50" height="33.44" fill="#398826"/>
<rect x="1222.40" y="622.28" width="35.42" height="33.44" fill="#821f20"/>
<rect x="1257.82" y="622.28" width="35.42" height="33.44" fill="#581516"/>
<rect x="1293.24" y="622.28" width="35.42" height="33.44" fill="#a8282a"/>
<rect x="1328.66" y="622.28" width="35.42" height="33.44" fill="#5e1617"/>
<rect x="1364.08" y="622.28" width="35.42" height="33.44" fill="#9e2627"/>
<rect x="1399.50" y="622.28" width="35.42" height="33.44" fill="#190606"/>
<rect x="1434.92" y="622.28" width="35.42" height="33.44" fill="#9e2627"/>
<rect x="1470.34" y="622.28" width="35.42" height="33.44" fill="#932324"/>
<rect x="1505.76" y="622.28" width="35.42" height="33.44" fill="#a42729"/>
<rect x="1541.18" y="622.28" width="35.42" height="33.44" fill="#060202"/>
<rect x="1576.60" y="622.28" width="35.42" height="33.44" fill="#7e1e1f"/>
<rect x="1612.02" y="622.28" width="35.42" height="33.44" fill="#581516"/>
<rect x="1647.44" y="622.28" width="35.42" height="33.44" fill="#d23234"/>
<rect x="1682.86" y="622.28" width="35.42" height="33.44" fill="#214e16"/>
<rect x="1718.28" y="622.28" width="35.42" height="33.44" fill="#190606"/>
<rect x="1753.70" y="622.28" width="35.42" height="33.44" fill="#882022"/>
<rect x="1789.12" y="622.28" width="35.42" height="33.44" fill="#000000"/>
<rect x="1828.50" y="622.28" width="32.50" height="33.44" fill="#2d6b1e"/>
<rect x="1222.40" y="655.72" width="35.42" height="33.44" fill="#040101"/>
<rect x="1257.82" y="655.72" width="35.42" height="33.44" fill="#3f0f10"/>
<rect x="1293.24" y="655.72" width="35.42" height="33.44" fill="#2e0b0b"/>
<rect x="1328.66" y="655.72" width="35.42" height="33.44" fill="#882022"/>
<rect x="1364.08" y="655.72" width="35.42" height="33.44" fill="#190606"/>
<rect x="1399.50" y="655.72" width="35.42" height="33.44" fill="#4a1212"/>
<rect x="1434.92" y="655.72" width="35.42" height="33.44" fill="#4a1212"/>
<rect x="1470.34" y="655.72" width="35.42" height="33.44" fill="#040101"/>
<rect x="1505.76" y="655.72" width="35.42" height="33.44" fill="#255819"/>
<rect x="1541.18" y="655.72" width="35.42" height="33.44" fill="#a42729"/>
<rect x="1576.60" y="655.72" width="35.42" height="33.44" fill="#741c1d"/>
<rect x="1612.02" y="655.72" width="35.42" height="33.44" fill="#7e1e1f"/>
<rect x="1647.44" y="655.72" width="35.42" height="33.44" fill="#214e16"/>
<rect x="1682.86" y="655.72" width="35.42" height="33.44" fill="#d23234"/>
<rect x="1718.28" y="655.72" width="35.42" height="33.44" fill="#b22a2c"/>
<rect x="1753.70" y="655.72" width="35.42" height="33.44" fill="#5e1617"/>
<rect x="1789.12" y="655.72" width="35.42" height="33.44" fill="#ac292b"/>
<rect x="1828.50" y="655.72" width="32.50" height="33.44" fill="#14310e"/>
<rect x="1222.40" y="689.16" width="35.42" height="33.44" fill="#0a0203"/>
<rect x="1257.82" y="689.16" width="35.42" height="33.44" fill="#69191a"/>
<rect x="1293.24" y="689.16" width="35.42" height="33.44" fill="#7e1e1f"/>
<rect x="1328.66" y="689.16" width="35.42" height="33.44" fill="#a8282a"/>
<rect x="1364.08" y="689.16" width="35.42" height="33.44" fill="#5e1617"/>
<rect x="1399.50" y="689.16" width="35.42" height="33.44" fill="#2e0b0b"/>
<rect x="1434.92" y="689.16" width="35.42" height="33.44" fill="#9e2627"/>
<rect x="1470.34" y="689.16" width="35.42" height="33.44" fill="#190606"/>
<rect x="1505.76" y="689.16" width="35.42" height="33.44" fill="#14310e"/>
<rect x="1541.18" y="689.16" width="35.42" height="33.44" fill="#8f2223"/>
<rect x="1576.60" y="689.16" width="35.42" height="33.44" fill="#932324"/>
<rect x="1612.02" y="689.16" width="35.42" height="33.44" fill="#932324"/>
<rect x="1647.44" y="689.16" width="35.42" height="33.44" fill="#200808"/>
<rect x="1682.86" y="689.16" width="35.42" height="33.44" fill="#ac292b"/>
<rect x="1718.28" y="689.16" width="35.42" height="33.44" fill="#d23234"/>
<rect x="1753.70" y="689.16" width="35.42" height="33.44" fill="#8f2223"/>
<rect x="1789.12" y="689.16" width="35.42" height="33.44" fill="#ac292b"/>
<rect x="1828.50" y="689.16" width="32.50" height="33.44" fill="#235418"/>
<rect x="1222.40" y="722.60" width="35.42" height="33.44" fill="#a42729"/>
<rect x="1257.82" y="722.60" width="35.42" height="33.44" fill="#a8282a"/>
<rect x="1293.24" y="722.60" width="35.42" height="33.44" fill="#ce3133"/>
<rect x="1328.66" y="722.60" width="35.42" height="33.44" fill="#c83031"/>
<rect x="1364.08" y="722.60" width="35.42" height="33.44" fill="#b22a2c"/>
<rect x="1399.50" y="722.60" width="35.42" height="33.44" fill="#842021"/>
<rect x="1434.92" y="722.60" width="35.42" height="33.44" fill="#c83031"/>
<rect x="1470.34" y="722.60" width="35.42" height="33.44" fill="#a8282a"/>
<rect x="1505.76" y="722.60" width="35.42" height="33.44" fill="#741c1d"/>
<rect x="1541.18" y="722.60" width="35.42" height="33.44" fill="#9e2627"/>
<rect x="1576.60" y="722.60" width="35.42" height="33.44" fill="#c83031"/>
<rect x="1612.02" y="722.60" width="35.42" height="33.44" fill="#c12e30"/>
<rect x="1647.44" y="722.60" width="35.42" height="33.44" fill="#882022"/>
<rect x="1682.86" y="722.60" width="35.42" height="33.44" fill="#501314"/>
<rect x="1718.28" y="722.60" width="35.42" height="33.44" fill="#8f2223"/>
<rect x="1753.70" y="722.60" width="35.42" height="33.44" fill="#d23234"/>
<rect x="1789.12" y="722.60" width="35.42" height="33.44" fill="#7a1d1e"/>
<rect x="1828.50" y="722.60" width="32.50" height="33.44" fill="#3e9229"/>
<rect x="1222.40" y="756.04" width="35.42" height="33.44" fill="#2a0a0a"/>
<rect x="1257.82" y="756.04" width="35.42" height="33.44" fill="#340c0d"/>
<rect x="1293.24" y="756.04" width="35.42" height="33.44" fill="#69191a"/>
<rect x="1328.66" y="756.04" width="35.42" height="33.44" fill="#a42729"/>
<rect x="1364.08" y="756.04" width="35.42" height="33.44" fill="#7e1e1f"/>
<rect x="1399.50" y="756.04" width="35.42" height="33.44" fill="#5e1617"/>
<rect x="1434.92" y="756.04" width="35.42" height="33.44" fill="#7e1e1f"/>
<rect x="1470.34" y="756.04" width="35.42" height="33.44" fill="#200808"/>
<rect x="1505.76" y="756.04" width="35.42" height="33.44" fill="#0c1d08"/>
<rect x="1541.18" y="756.04" width="35.42" height="33.44" fill="#a42729"/>
<rect x="1576.60" y="756.04" width="35.42" height="33.44" fill="#972425"/>
<rect x="1612.02" y="756.04" width="35.42" height="33.44" fill="#9e2627"/>
<rect x="1647.44" y="756.04" width="35.42" height="33.44" fill="#000000"/>
<rect x="1682.86" y="756.04" width="35.42" height="33.44" fill="#a8282a"/>
<rect x="1718.28" y="756.04" width="35.42" height="33.44" fill="#b22a2c"/>
<rect x="1753.70" y="756.04" width="35.42" height="33.44" fill="#882022"/>
<rect x="1789.12" y="756.04" width="35.42" height="33.44" fill="#d23234"/>
<rect x="1828.50" y="756.04" width="32.50" height="33.44" fill="#1b4012"/>
<rect x="1222.40" y="789.48" width="35.42" height="33.44" fill="#2d6b1e"/>
<rect x="1257.82" y="789.48" width="35.42" height="33.44" fill="#43a02d"/>
<rect x="1293.24" y="789.48" width="35.42" height="33.44" fill="#429c2c"/>
<rect x="1328.66" y="789.48" width="35.42" height="33.44" fill="#3b8c28"/>
<rect x="1364.08" y="789.48" width="35.42" height="33.44" fill="#275e1a"/>
<rect x="1399.50" y="789.48" width="35.42" height="33.44" fill="#2b651d"/>
<rect x="1434.92" y="789.48" width="35.42" height="33.44" fill="#357f24"/>
<rect x="1470.34" y="789.48" width="35.42" height="33.44" fill="#307120"/>
<rect x="1505.76" y="789.48" width="35.42" height="33.44" fill="#2d6b1e"/>
<rect x="1541.18" y="789.48" width="35.42" height="33.44" fill="#275e1a"/>
<rect x="1576.60" y="789.48" width="35.42" height="33.44" fill="#46a62f"/>
<rect x="1612.02" y="789.48" width="35.42" height="33.44" fill="#3e9229"/>
<rect x="1647.44" y="789.48" width="35.42" height="33.44" fill="#29621c"/>
<rect x="1682.86" y="789.48" width="35.42" height="33.44" fill="#0c1d08"/>
<rect x="1718.28" y="789.48" width="35.42" height="33.44" fill="#214e16"/>
<rect x="1753.70" y="789.48" width="35.42" height="33.44" fill="#40982b"/>
<rect x="1789.12" y="789.48" width="35.42" height="33.44" fill="#14310e"/>
<rect x="1828.50" y="789.48" width="32.50" height="33.44" fill="#d23234"/>
<line x1="1257.82" y1="221" x2="1257.82" y2="822" stroke="#fff" stroke-opacity="0.08" stroke-width="1"/>
<line x1="1293.24" y1="221" x2="1293.24" y2="822" stroke="#fff" stroke-opacity="0.08" stroke-width="1"/>
<line x1="1328.66" y1="221" x2="1328.66" y2="822" stroke="#fff" stroke-opacity="0.08" stroke-width="1"/>
<line x1="1364.08" y1="221" x2="1364.08" y2="822" stroke="#fff" stroke-opacity="0.08" stroke-width="1"/>
<line x1="1399.50" y1="221" x2="1399.50" y2="822" stroke="#fff" stroke-opacity="0.08" stroke-width="1"/>
<line x1="1434.92" y1="221" x2="1434.92" y2="822" stroke="#fff" stroke-opacity="0.08" stroke-width="1"/>
<line x1="1470.34" y1="221" x2="1470.34" y2="822" stroke="#fff" stroke-opacity="0.08" stroke-width="1"/>
<line x1="1505.76" y1="221" x2="1505.76" y2="822" stroke="#fff" stroke-opacity="0.08" stroke-width="1"/>
<line x1="1541.18" y1="221" x2="1541.18" y2="822" stroke="#fff" stroke-opacity="0.08" stroke-width="1"/>
<line x1="1576.60" y1="221" x2="1576.60" y2="822" stroke="#fff" stroke-opacity="0.08" stroke-width="1"/>
<line x1="1612.02" y1="221" x2="1612.02" y2="822" stroke="#fff" stroke-opacity="0.08" stroke-width="1"/>
<line x1="1647.44" y1="221" x2="1647.44" y2="822" stroke="#fff" stroke-opacity="0.08" stroke-width="1"/>
<line x1="1682.86" y1="221" x2="1682.86" y2="822" stroke="#fff" stroke-opacity="0.08" stroke-width="1"/>
<line x1="1718.28" y1="221" x2="1718.28" y2="822" stroke="#fff" stroke-opacity="0.08" stroke-width="1"/>
<line x1="1753.70" y1="221" x2="1753.70" y2="822" stroke="#fff" stroke-opacity="0.08" stroke-width="1"/>
<line x1="1789.12" y1="221" x2="1789.12" y2="822" stroke="#fff" stroke-opacity="0.08" stroke-width="1"/>
<line x1="1222.4" y1="254.44" x2="1861" y2="254.44" stroke="#fff" stroke-opacity="0.08" stroke-width="1"/>
<line x1="1222.4" y1="287.88" x2="1861" y2="287.88" stroke="#fff" stroke-opacity="0.08" stroke-width="1"/>
<line x1="1222.4" y1="321.32" x2="1861" y2="321.32" stroke="#fff" stroke-opacity="0.08" stroke-width="1"/>
<line x1="1222.4" y1="354.76" x2="1861" y2="354.76" stroke="#fff" stroke-opacity="0.08" stroke-width="1"/>
<line x1="1222.4" y1="388.20" x2="1861" y2="388.20" stroke="#fff" stroke-opacity="0.08" stroke-width="1"/>
<line x1="1222.4" y1="421.64" x2="1861" y2="421.64" stroke="#fff" stroke-opacity="0.08" stroke-width="1"/>
<line x1="1222.4" y1="455.08" x2="1861" y2="455.08" stroke="#fff" stroke-opacity="0.08" stroke-width="1"/>
<line x1="1222.4" y1="488.52" x2="1861" y2="488.52" stroke="#fff" stroke-opacity="0.08" stroke-width="1"/>
<line x1="1222.4" y1="521.96" x2="1861" y2="521.96" stroke="#fff" stroke-opacity="0.08" stroke-width="1"/>
<line x1="1222.4" y1="555.40" x2="1861" y2="555.40" stroke="#fff" stroke-opacity="0.08" stroke-width="1"/>
<line x1="1222.4" y1="588.84" x2="1861" y2="588.84" stroke="#fff" stroke-opacity="0.08" stroke-width="1"/>
<line x1="1222.4" y1="622.28" x2="1861" y2="622.28" stroke="#fff" stroke-opacity="0.08" stroke-width="1"/>
<line x1="1222.4" y1="655.72" x2="1861" y2="655.72" stroke="#fff" stroke-opacity="0.08" stroke-width="1"/>
<line x1="1222.4" y1="689.16" x2="1861" y2="689.16" stroke="#fff" stroke-opacity="0.08" stroke-width="1"/>
<line x1="1222.4" y1="722.60" x2="1861" y2="722.60" stroke="#fff" stroke-opacity="0.08" stroke-width="1"/>
<line x1="1222.4" y1="756.04" x2="1861" y2="756.04" stroke="#fff" stroke-opacity="0.08" stroke-width="1"/>
<line x1="1222.4" y1="789.48" x2="1861" y2="789.48" stroke="#fff" stroke-opacity="0.08" stroke-width="1"/>
<rect x="1824" y="218" width="4.8" height="572" fill="#fff"/>
<rect x="1220" y="785.6" width="608.8" height="4.6" fill="#fff"/>
<rect x="1504" y="218" width="4.8" height="272" fill="#fff"/>
<rect x="1220" y="485.4" width="288.8" height="4.6" fill="#fff"/>
</g>
<line x1="1214.5" y1="237.72" x2="1223" y2="237.72" stroke="#000" stroke-width="3.6"/>
<text transform="translate(1206.3,245.62) scale(0.9150,1)" font-size="23.60" font-weight="bold" text-anchor="end">SOX11</text>
<line x1="1214.5" y1="271.16" x2="1223" y2="271.16" stroke="#000" stroke-width="3.6"/>
<text transform="translate(1206.3,279.06) scale(0.9150,1)" font-size="23.60" font-weight="bold" text-anchor="end">CCND1</text>
<line x1="1214.5" y1="304.60" x2="1223" y2="304.60" stroke="#000" stroke-width="3.6"/>
<text transform="translate(1206.3,312.50) scale(0.9150,1)" font-size="23.60" font-weight="bold" text-anchor="end">LDHA</text>
<line x1="1214.5" y1="338.04" x2="1223" y2="338.04" stroke="#000" stroke-width="3.6"/>
<text transform="translate(1206.3,345.94) scale(0.9150,1)" font-size="23.60" font-weight="bold" text-anchor="end">LDHB</text>
<line x1="1214.5" y1="371.48" x2="1223" y2="371.48" stroke="#000" stroke-width="3.6"/>
<text transform="translate(1206.3,379.38) scale(0.9150,1)" font-size="23.60" font-weight="bold" text-anchor="end">PAX5</text>
<line x1="1214.5" y1="404.92" x2="1223" y2="404.92" stroke="#000" stroke-width="3.6"/>
<text transform="translate(1206.3,412.82) scale(0.9150,1)" font-size="23.60" font-weight="bold" text-anchor="end">CD20</text>
<line x1="1214.5" y1="438.36" x2="1223" y2="438.36" stroke="#000" stroke-width="3.6"/>
<text transform="translate(1206.3,446.26) scale(0.9150,1)" font-size="23.60" font-weight="bold" text-anchor="end">ICKC OR IGLC</text>
<line x1="1214.5" y1="471.80" x2="1223" y2="471.80" stroke="#000" stroke-width="3.6"/>
<text transform="translate(1206.3,479.70) scale(0.9150,1)" font-size="23.60" font-weight="bold" text-anchor="end">BM B cells</text>
<line x1="1214.5" y1="505.24" x2="1223" y2="505.24" stroke="#000" stroke-width="3.6"/>
<text transform="translate(1206.3,513.14) scale(0.9150,1)" font-size="23.60" font-weight="bold" text-anchor="end">CD5</text>
<line x1="1214.5" y1="538.68" x2="1223" y2="538.68" stroke="#000" stroke-width="3.6"/>
<text transform="translate(1206.3,546.58) scale(0.9150,1)" font-size="23.60" font-weight="bold" text-anchor="end">CD19</text>
<line x1="1214.5" y1="572.12" x2="1223" y2="572.12" stroke="#000" stroke-width="3.6"/>
<text transform="translate(1206.3,580.02) scale(0.9150,1)" font-size="23.60" font-weight="bold" text-anchor="end">CD23</text>
<line x1="1214.5" y1="605.56" x2="1223" y2="605.56" stroke="#000" stroke-width="3.6"/>
<text transform="translate(1206.3,613.46) scale(0.9150,1)" font-size="23.60" font-weight="bold" text-anchor="end">CD27</text>
<line x1="1214.5" y1="639.00" x2="1223" y2="639.00" stroke="#000" stroke-width="3.6"/>
<text transform="translate(1206.3,646.90) scale(0.9150,1)" font-size="23.60" font-weight="bold" text-anchor="end">IGKC</text>
<line x1="1214.5" y1="672.44" x2="1223" y2="672.44" stroke="#000" stroke-width="3.6"/>
<text transform="translate(1206.3,680.34) scale(0.9150,1)" font-size="23.60" font-weight="bold" text-anchor="end">IGLC</text>
<line x1="1214.5" y1="705.88" x2="1223" y2="705.88" stroke="#000" stroke-width="3.6"/>
<text transform="translate(1206.3,713.78) scale(0.9150,1)" font-size="23.60" font-weight="bold" text-anchor="end">IGKC AND IGLC</text>
<line x1="1214.5" y1="739.32" x2="1223" y2="739.32" stroke="#000" stroke-width="3.6"/>
<text transform="translate(1206.3,747.22) scale(0.9150,1)" font-size="23.60" font-weight="bold" text-anchor="end">CD79A</text>
<line x1="1214.5" y1="772.76" x2="1223" y2="772.76" stroke="#000" stroke-width="3.6"/>
<text transform="translate(1206.3,780.66) scale(0.9150,1)" font-size="23.60" font-weight="bold" text-anchor="end">CD79B</text>
<line x1="1214.5" y1="806.20" x2="1223" y2="806.20" stroke="#000" stroke-width="3.6"/>
<text transform="translate(1206.3,814.10) scale(0.9150,1)" font-size="23.60" font-weight="bold" text-anchor="end">SOX4</text>
<line x1="1240.11" y1="213" x2="1240.11" y2="222" stroke="#000" stroke-width="3.6"/>
<text transform="translate(1248.21,206.3) rotate(-90) scale(0.9150,1)" font-size="23.60" font-weight="bold">SOX11</text>
<line x1="1275.53" y1="213" x2="1275.53" y2="222" stroke="#000" stroke-width="3.6"/>
<text transform="translate(1283.63,206.3) rotate(-90) scale(0.9150,1)" font-size="23.60" font-weight="bold">CCND1</text>
<line x1="1310.95" y1="213" x2="1310.95" y2="222" stroke="#000" stroke-width="3.6"/>
<text transform="translate(1319.05,206.3) rotate(-90) scale(0.9150,1)" font-size="23.60" font-weight="bold">LDHA</text>
<line x1="1346.37" y1="213" x2="1346.37" y2="222" stroke="#000" stroke-width="3.6"/>
<text transform="translate(1354.47,206.3) rotate(-90) scale(0.9150,1)" font-size="23.60" font-weight="bold">LDHB</text>
<line x1="1381.79" y1="213" x2="1381.79" y2="222" stroke="#000" stroke-width="3.6"/>
<text transform="translate(1389.89,206.3) rotate(-90) scale(0.9150,1)" font-size="23.60" font-weight="bold">PAX5</text>
<line x1="1417.21" y1="213" x2="1417.21" y2="222" stroke="#000" stroke-width="3.6"/>
<text transform="translate(1425.31,206.3) rotate(-90) scale(0.9150,1)" font-size="23.60" font-weight="bold">CD20</text>
<line x1="1452.63" y1="213" x2="1452.63" y2="222" stroke="#000" stroke-width="3.6"/>
<text transform="translate(1460.73,206.3) rotate(-90) scale(0.9150,1)" font-size="23.60" font-weight="bold">ICKC OR IGLC</text>
<line x1="1488.05" y1="213" x2="1488.05" y2="222" stroke="#000" stroke-width="3.6"/>
<text transform="translate(1496.15,206.3) rotate(-90) scale(0.9150,1)" font-size="23.60" font-weight="bold">BM B cells</text>
<line x1="1523.47" y1="213" x2="1523.47" y2="222" stroke="#000" stroke-width="3.6"/>
<text transform="translate(1531.57,206.3) rotate(-90) scale(0.9150,1)" font-size="23.60" font-weight="bold">CD5</text>
<line x1="1558.89" y1="213" x2="1558.89" y2="222" stroke="#000" stroke-width="3.6"/>
<text transform="translate(1566.99,206.3) rotate(-90) scale(0.9150,1)" font-size="23.60" font-weight="bold">CD19</text>
<line x1="1594.31" y1="213" x2="1594.31" y2="222" stroke="#000" stroke-width="3.6"/>
<text transform="translate(1602.41,206.3) rotate(-90) scale(0.9150,1)" font-size="23.60" font-weight="bold">CD23</text>
<line x1="1629.73" y1="213" x2="1629.73" y2="222" stroke="#000" stroke-width="3.6"/>
<text transform="translate(1637.83,206.3) rotate(-90) scale(0.9150,1)" font-size="23.60" font-weight="bold">CD27</text>
<line x1="1665.15" y1="213" x2="1665.15" y2="222" stroke="#000" stroke-width="3.6"/>
<text transform="translate(1673.25,206.3) rotate(-90) scale(0.9150,1)" font-size="23.60" font-weight="bold">IGKC</text>
<line x1="1700.57" y1="213" x2="1700.57" y2="222" stroke="#000" stroke-width="3.6"/>
<text transform="translate(1708.67,206.3) rotate(-90) scale(0.9150,1)" font-size="23.60" font-weight="bold">IGLC</text>
<line x1="1735.99" y1="213" x2="1735.99" y2="222" stroke="#000" stroke-width="3.6"/>
<text transform="translate(1744.09,206.3) rotate(-90) scale(0.9150,1)" font-size="23.60" font-weight="bold">IGKC AND IGLC</text>
<line x1="1771.41" y1="213" x2="1771.41" y2="222" stroke="#000" stroke-width="3.6"/>
<text transform="translate(1779.51,206.3) rotate(-90) scale(0.9150,1)" font-size="23.60" font-weight="bold">CD79A</text>
<line x1="1806.83" y1="213" x2="1806.83" y2="222" stroke="#000" stroke-width="3.6"/>
<text transform="translate(1814.93,206.3) rotate(-90) scale(0.9150,1)" font-size="23.60" font-weight="bold">CD79B</text>
<line x1="1844.50" y1="213" x2="1844.50" y2="222" stroke="#000" stroke-width="3.6"/>
<text transform="translate(1852.60,206.3) rotate(-90) scale(0.9150,1)" font-size="23.60" font-weight="bold">SOX4</text>
<path d="M1217,59 V40.5 H1513 V59" fill="none" stroke="#000" stroke-width="4" stroke-linecap="round"/>
<text transform="translate(1251.00,25.60) scale(0.9654,1)" font-size="24" text-anchor="start">p = 0.003,&#160; R<tspan font-size="16" dy="-9.5">2</tspan><tspan dy="9.5"> = 0.996</tspan></text>
<defs><linearGradient id="cb" x1="0" y1="0" x2="0" y2="1"><stop offset="0" stop-color="#d23234"/><stop offset="0.5" stop-color="#000"/><stop offset="1" stop-color="#52c337"/></linearGradient></defs>
<rect x="1897" y="220.6" width="35.4" height="600.8" fill="url(#cb)"/>
<line x1="1897" y1="221.0" x2="1901" y2="221.0" stroke="#222" stroke-width="1.2"/>
<line x1="1928.4" y1="221.0" x2="1932.4" y2="221.0" stroke="#222" stroke-width="1.2"/>
<text transform="translate(1945.40,229.30) scale(0.9403,1)" font-size="24" text-anchor="start">1.0</text>
<line x1="1897" y1="371.0" x2="1901" y2="371.0" stroke="#222" stroke-width="1.2"/>
<line x1="1928.4" y1="371.0" x2="1932.4" y2="371.0" stroke="#222" stroke-width="1.2"/>
<text transform="translate(1945.40,379.30) scale(0.9617,1)" font-size="24" text-anchor="start">0.5</text>
<line x1="1897" y1="521.0" x2="1901" y2="521.0" stroke="#222" stroke-width="1.2"/>
<line x1="1928.4" y1="521.0" x2="1932.4" y2="521.0" stroke="#222" stroke-width="1.2"/>
<text transform="translate(1945.00,529.30) scale(1.0038,1)" font-size="24" text-anchor="start">0</text>
<line x1="1897" y1="671.0" x2="1901" y2="671.0" stroke="#222" stroke-width="1.2"/>
<line x1="1928.4" y1="671.0" x2="1932.4" y2="671.0" stroke="#222" stroke-width="1.2"/>
<text transform="translate(1945.10,679.30) scale(0.9597,1)" font-size="24" text-anchor="start">-0.5</text>
<line x1="1897" y1="821.0" x2="1901" y2="821.0" stroke="#222" stroke-width="1.2"/>
<line x1="1928.4" y1="821.0" x2="1932.4" y2="821.0" stroke="#222" stroke-width="1.2"/>
<text transform="translate(1945.00,829.30) scale(0.9487,1)" font-size="24" text-anchor="start">-1.0</text>
<text transform="translate(2018.80,261.20) rotate(-90) scale(0.9488,1)" font-size="24.5" text-anchor="middle">Positive correlation</text>
<text transform="translate(2018.80,510.00) rotate(-90) scale(0.9436,1)" font-size="24.5" text-anchor="middle">No correlation</text>
<text transform="translate(2018.80,741.40) rotate(-90) scale(0.9355,1)" font-size="24.5" text-anchor="middle">Negative correlation</text>
<text transform="translate(141.20,989.30) scale(0.9734,1)" font-size="39.7" text-anchor="start"><tspan font-weight="bold">Marker</tspan> (of total cells)</text>
<rect x="417.0" y="1020.0" width="4.0" height="23" fill="#B2822A"/>
<rect x="432.0" y="1020.0" width="12.0" height="23" fill="#5092F0"/>
<rect x="451.4" y="1020.0" width="1.6" height="23" fill="#D646BE"/>
<text transform="translate(384.50,1042.90) scale(0.9485,1)" font-size="35.3" text-anchor="end">CD5 (2,9%)</text>
<rect x="416.4" y="1056.3" width="0.8" height="23" fill="#B2822A"/>
<rect x="423.6" y="1056.3" width="15.4" height="23" fill="#5DB25A"/>
<rect x="444.4" y="1056.3" width="11.2" height="23" fill="#5092F0"/>
<text transform="translate(384.00,1079.23) scale(0.9443,1)" font-size="35.3" text-anchor="end">CD27 (4,2%)</text>
<rect x="417.0" y="1092.7" width="8.4" height="23" fill="#B2822A"/>
<rect x="430.0" y="1092.7" width="1.6" height="23" fill="#7AA026"/>
<rect x="436.0" y="1092.7" width="15.2" height="23" fill="#5DB25A"/>
<rect x="456.0" y="1092.7" width="2.0" height="23" fill="#5AB0B7"/>
<rect x="462.2" y="1092.7" width="12.8" height="23" fill="#5092F0"/>
<rect x="479.6" y="1092.7" width="1.4" height="23" fill="#A55FF0"/>
<rect x="486.0" y="1092.7" width="3.0" height="23" fill="#D646BE"/>
<text transform="translate(384.00,1115.56) scale(0.9443,1)" font-size="35.3" text-anchor="end">CD23 (5,6%)</text>
<rect x="417.0" y="1129.0" width="20.0" height="23" fill="#B2822A"/>
<rect x="442.0" y="1129.0" width="4.0" height="23" fill="#7AA026"/>
<rect x="451.2" y="1129.0" width="41.2" height="23" fill="#5DB25A"/>
<rect x="501.2" y="1129.0" width="25.2" height="23" fill="#5092F0"/>
<text transform="translate(384.50,1151.89) scale(0.9455,1)" font-size="35.3" text-anchor="end">LDHB (10,2%)</text>
<rect x="416.6" y="1165.3" width="25.0" height="23" fill="#D6605C"/>
<rect x="446.4" y="1165.3" width="2.6" height="23" fill="#B2822A"/>
<rect x="454.0" y="1165.3" width="28.2" height="23" fill="#7AA026"/>
<rect x="490.2" y="1165.3" width="12.8" height="23" fill="#5AB0B7"/>
<rect x="508.8" y="1165.3" width="33.0" height="23" fill="#A55FF0"/>
<rect x="546.8" y="1165.3" width="3.0" height="23" fill="#D646BE"/>
<text transform="translate(384.50,1188.22) scale(0.9453,1)" font-size="35.3" text-anchor="end">SOX4 (4,4%)</text>
<rect x="420.8" y="1201.7" width="25.2" height="23" fill="#B2822A"/>
<rect x="451.0" y="1201.7" width="9.0" height="23" fill="#7AA026"/>
<rect x="465.2" y="1201.7" width="24.8" height="23" fill="#5DB25A"/>
<rect x="494.8" y="1201.7" width="4.8" height="23" fill="#5AB0B7"/>
<rect x="504.8" y="1201.7" width="31.0" height="23" fill="#5092F0"/>
<rect x="540.6" y="1201.7" width="1.4" height="23" fill="#A55FF0"/>
<rect x="546.6" y="1201.7" width="3.4" height="23" fill="#D646BE"/>
<text transform="translate(384.50,1224.55) scale(0.9500,1)" font-size="35.3" text-anchor="end">LDHA (10,2%)</text>
<rect x="416.6" y="1238.0" width="24.6" height="23" fill="#B2822A"/>
<rect x="446.2" y="1238.0" width="8.4" height="23" fill="#7AA026"/>
<rect x="459.6" y="1238.0" width="53.2" height="23" fill="#5DB25A"/>
<rect x="518.0" y="1238.0" width="8.6" height="23" fill="#5AB0B7"/>
<rect x="531.4" y="1238.0" width="2.6" height="23" fill="#5092F0"/>
<rect x="539.0" y="1238.0" width="11.6" height="23" fill="#A55FF0"/>
<text transform="translate(384.50,1260.88) scale(0.9422,1)" font-size="35.3" text-anchor="end">IGKC AND IGLC (10,8%)</text>
<rect x="416.6" y="1274.3" width="17.8" height="23" fill="#D6605C"/>
<rect x="439.6" y="1274.3" width="15.0" height="23" fill="#B2822A"/>
<rect x="459.6" y="1274.3" width="9.4" height="23" fill="#7AA026"/>
<rect x="474.0" y="1274.3" width="48.0" height="23" fill="#5DB25A"/>
<rect x="526.4" y="1274.3" width="1.2" height="23" fill="#5AB0B7"/>
<rect x="532.2" y="1274.3" width="28.2" height="23" fill="#5092F0"/>
<rect x="565.2" y="1274.3" width="9.8" height="23" fill="#A55FF0"/>
<rect x="580.0" y="1274.3" width="9.8" height="23" fill="#D646BE"/>
<text transform="translate(384.50,1297.21) scale(0.9444,1)" font-size="35.3" text-anchor="end">CD19 (12,2%)</text>
<rect x="416.6" y="1310.6" width="6.8" height="23" fill="#D6605C"/>
<rect x="428.4" y="1310.6" width="25.8" height="23" fill="#B2822A"/>
<rect x="459.4" y="1310.6" width="47.8" height="23" fill="#7AA026"/>
<rect x="512.4" y="1310.6" width="92.6" height="23" fill="#5DB25A"/>
<rect x="610.0" y="1310.6" width="12.6" height="23" fill="#5AB0B7"/>
<rect x="627.6" y="1310.6" width="29.4" height="23" fill="#5092F0"/>
<rect x="662.0" y="1310.6" width="28.2" height="23" fill="#A55FF0"/>
<rect x="695.2" y="1310.6" width="16.6" height="23" fill="#D646BE"/>
<text transform="translate(384.00,1333.54) scale(0.9422,1)" font-size="35.3" text-anchor="end">CD79B (19,3%)</text>
<rect x="416.4" y="1347.0" width="60.6" height="23" fill="#D6605C"/>
<rect x="481.6" y="1347.0" width="30.1" height="23" fill="#B2822A"/>
<rect x="516.7" y="1347.0" width="24.2" height="23" fill="#7AA026"/>
<rect x="545.9" y="1347.0" width="231.5" height="23" fill="#5DB25A"/>
<rect x="782.4" y="1347.0" width="32.9" height="23" fill="#5AB0B7"/>
<rect x="820.5" y="1347.0" width="2.2" height="23" fill="#5092F0"/>
<rect x="828.0" y="1347.0" width="53.0" height="23" fill="#A55FF0"/>
<rect x="886.0" y="1347.0" width="11.5" height="23" fill="#D646BE"/>
<text transform="translate(384.10,1369.87) scale(0.9427,1)" font-size="35.3" text-anchor="end">IGLC (34,7%)</text>
<rect x="416.4" y="1383.3" width="30.8" height="23" fill="#D6605C"/>
<rect x="452.1" y="1383.3" width="74.5" height="23" fill="#B2822A"/>
<rect x="531.9" y="1383.3" width="71.4" height="23" fill="#7AA026"/>
<rect x="608.3" y="1383.3" width="76.0" height="23" fill="#5DB25A"/>
<rect x="689.6" y="1383.3" width="24.8" height="23" fill="#5AB0B7"/>
<rect x="719.7" y="1383.3" width="94.3" height="23" fill="#5092F0"/>
<rect x="819.3" y="1383.3" width="51.2" height="23" fill="#A55FF0"/>
<rect x="875.5" y="1383.3" width="44.7" height="23" fill="#D646BE"/>
<text transform="translate(384.50,1406.20) scale(0.9483,1)" font-size="35.3" text-anchor="end">PAX5 (30,6%)</text>
<rect x="416.4" y="1419.6" width="79.5" height="23" fill="#D6605C"/>
<rect x="500.9" y="1419.6" width="82.2" height="23" fill="#B2822A"/>
<rect x="588.1" y="1419.6" width="55.2" height="23" fill="#7AA026"/>
<rect x="648.3" y="1419.6" width="81.3" height="23" fill="#5DB25A"/>
<rect x="734.6" y="1419.6" width="24.2" height="23" fill="#5AB0B7"/>
<rect x="763.7" y="1419.6" width="148.4" height="23" fill="#5092F0"/>
<rect x="917.0" y="1419.6" width="18.4" height="23" fill="#A55FF0"/>
<rect x="940.3" y="1419.6" width="54.7" height="23" fill="#D646BE"/>
<text transform="translate(384.50,1442.53) scale(0.9409,1)" font-size="35.3" text-anchor="end">SOX11 (37,5%)</text>
<rect x="416.4" y="1456.0" width="21.2" height="23" fill="#D6605C"/>
<rect x="442.5" y="1456.0" width="175.4" height="23" fill="#B2822A"/>
<rect x="622.8" y="1456.0" width="36.7" height="23" fill="#7AA026"/>
<rect x="664.4" y="1456.0" width="195.6" height="23" fill="#5DB25A"/>
<rect x="865.0" y="1456.0" width="39.0" height="23" fill="#5AB0B7"/>
<rect x="909.1" y="1456.0" width="182.5" height="23" fill="#5092F0"/>
<rect x="1096.3" y="1456.0" width="12.2" height="23" fill="#A55FF0"/>
<rect x="1113.3" y="1456.0" width="24.0" height="23" fill="#D646BE"/>
<text transform="translate(384.50,1478.86) scale(0.9453,1)" font-size="35.3" text-anchor="end">CD79A (58,0%)</text>
<rect x="416.4" y="1492.3" width="225.4" height="23" fill="#B2822A"/>
<rect x="646.7" y="1492.3" width="104.9" height="23" fill="#7AA026"/>
<rect x="756.9" y="1492.3" width="53.4" height="23" fill="#5DB25A"/>
<rect x="815.3" y="1492.3" width="79.7" height="23" fill="#5AB0B7"/>
<rect x="900.0" y="1492.3" width="227.8" height="23" fill="#5092F0"/>
<rect x="1133.0" y="1492.3" width="70.1" height="23" fill="#A55FF0"/>
<rect x="1208.2" y="1492.3" width="38.6" height="23" fill="#D646BE"/>
<text transform="translate(384.00,1515.19) scale(0.9483,1)" font-size="35.3" text-anchor="end">IGKC (55,1%)</text>
<rect x="416.4" y="1528.6" width="114.3" height="23" fill="#D6605C"/>
<rect x="535.6" y="1528.6" width="172.3" height="23" fill="#B2822A"/>
<rect x="712.9" y="1528.6" width="37.8" height="23" fill="#7AA026"/>
<rect x="755.7" y="1528.6" width="164.0" height="23" fill="#5DB25A"/>
<rect x="924.5" y="1528.6" width="73.3" height="23" fill="#5AB0B7"/>
<rect x="1002.9" y="1528.6" width="158.4" height="23" fill="#5092F0"/>
<rect x="1166.5" y="1528.6" width="81.5" height="23" fill="#A55FF0"/>
<rect x="1252.8" y="1528.6" width="134.3" height="23" fill="#D646BE"/>
<text transform="translate(384.50,1551.52) scale(0.9435,1)" font-size="35.3" text-anchor="end">CCND1 (60,5%)</text>
<rect x="416.4" y="1564.9" width="61.2" height="23" fill="#D6605C"/>
<rect x="482.6" y="1564.9" width="230.3" height="23" fill="#B2822A"/>
<rect x="717.8" y="1564.9" width="120.4" height="23" fill="#7AA026"/>
<rect x="843.2" y="1564.9" width="231.8" height="23" fill="#5DB25A"/>
<rect x="1079.8" y="1564.9" width="104.4" height="23" fill="#5AB0B7"/>
<rect x="1189.3" y="1564.9" width="227.8" height="23" fill="#5092F0"/>
<rect x="1421.8" y="1564.9" width="112.3" height="23" fill="#A55FF0"/>
<rect x="1538.9" y="1564.9" width="52.4" height="23" fill="#D646BE"/>
<text transform="translate(384.10,1587.85) scale(0.9421,1)" font-size="35.3" text-anchor="end">ICKC OR IGLC (79%)</text>
<rect x="416.4" y="1601.3" width="172.0" height="23" fill="#D6605C"/>
<rect x="593.4" y="1601.3" width="141.2" height="23" fill="#B2822A"/>
<rect x="739.5" y="1601.3" width="113.6" height="23" fill="#7AA026"/>
<rect x="858.3" y="1601.3" width="211.6" height="23" fill="#5DB25A"/>
<rect x="1074.6" y="1601.3" width="50.1" height="23" fill="#5AB0B7"/>
<rect x="1129.4" y="1601.3" width="212.0" height="23" fill="#5092F0"/>
<rect x="1346.2" y="1601.3" width="106.4" height="23" fill="#A55FF0"/>
<rect x="1457.3" y="1601.3" width="165.5" height="23" fill="#D646BE"/>
<text transform="translate(384.10,1624.18) scale(0.9408,1)" font-size="35.3" text-anchor="end">CD20 (71,3%)</text>
<rect x="1204.8" y="1015.5" width="708" height="237" fill="#fff" stroke="#9a9a9a" stroke-width="4"/>
<text transform="translate(1230.70,1068.20) scale(0.9467,1)" font-size="41" text-anchor="start" font-weight="bold">MCL sample #</text>
<rect x="1265.1" y="1110.5" width="46" height="22" fill="#D6605C"/>
<text transform="translate(1342.00,1135.70) scale(0.8353,1)" font-size="42" text-anchor="start">1</text>
<rect x="1444.1" y="1110.5" width="46" height="22" fill="#B2822A"/>
<text transform="translate(1518.60,1135.70) scale(1.0430,1)" font-size="42" text-anchor="start">2</text>
<rect x="1617.6" y="1110.5" width="46" height="22" fill="#7AA026"/>
<text transform="translate(1693.50,1135.70) scale(1.0025,1)" font-size="42" text-anchor="start">3</text>
<rect x="1779.1" y="1110.5" width="46" height="22" fill="#5DB25A"/>
<text transform="translate(1853.60,1135.70) scale(1.0106,1)" font-size="42" text-anchor="start">4</text>
<rect x="1265.1" y="1203.0" width="46" height="22" fill="#5AB0B7"/>
<text transform="translate(1340.60,1228.20) scale(0.9818,1)" font-size="42" text-anchor="start">5</text>
<rect x="1444.1" y="1203.0" width="46" height="22" fill="#5092F0"/>
<text transform="translate(1517.60,1228.20) scale(1.0956,1)" font-size="42" text-anchor="start">6</text>
<rect x="1617.6" y="1203.0" width="46" height="22" fill="#A55FF0"/>
<text transform="translate(1692.50,1228.20) scale(1.0526,1)" font-size="42" text-anchor="start">7</text>
<rect x="1779.1" y="1203.0" width="46" height="22" fill="#D646BE"/>
<text transform="translate(1852.40,1228.20) scale(1.0931,1)" font-size="42" text-anchor="start">8</text>
<rect x="417.6" y="1655" width="238.4" height="26" fill="#000"/>
<text transform="translate(532.50,1725.00) scale(0.8855,1)" font-size="43.6" text-anchor="middle" font-weight="bold">100%</text>
<text transform="translate(767.00,1686.00) scale(0.9133,1)" font-size="42" text-anchor="start" font-weight="bold">Percentage of marker-positive cells in sample</text>
</svg></body></html>
